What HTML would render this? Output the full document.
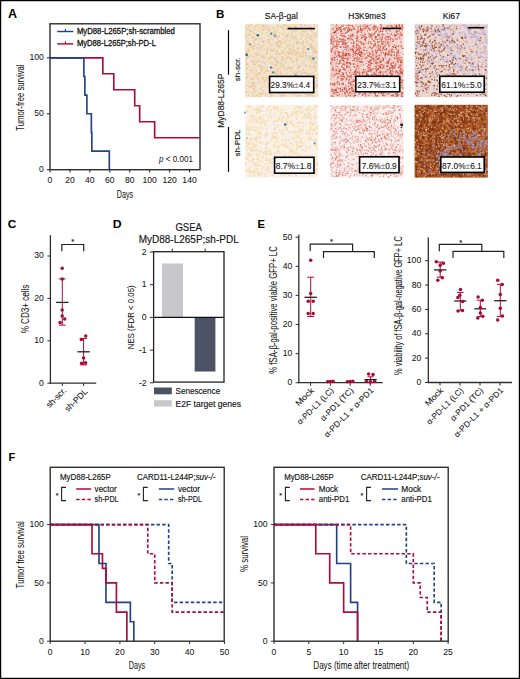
<!DOCTYPE html>
<html><head><meta charset="utf-8"><style>
html,body{margin:0;padding:0;background:#fff;}
svg{display:block;font-family:"Liberation Sans", sans-serif;}
</style></head><body>
<svg width="520" height="679" viewBox="0 0 520 679" fill="#141414">
<rect x="0.6" y="0.6" width="518.8" height="677.8" fill="none" stroke="#000" stroke-width="1.25"/>
<text x="8" y="17.8" font-size="12.5" font-weight="bold" fill="#000" >A</text>
<rect x="50" y="23.8" width="150.0" height="145.89999999999998" fill="none" stroke="#2e2e2e" stroke-width="1.4"/>
<line x1="46.8" y1="169.7" x2="50" y2="169.7" stroke="#2e2e2e" stroke-width="1.1" />
<text x="43.8" y="172.29999999999998" font-size="8.6" text-anchor="end" stroke="#141414" stroke-width="0.05" >0</text>
<line x1="46.8" y1="113.74999999999999" x2="50" y2="113.74999999999999" stroke="#2e2e2e" stroke-width="1.1" />
<text x="43.8" y="116.34999999999998" font-size="8.6" text-anchor="end" stroke="#141414" stroke-width="0.05" >50</text>
<line x1="46.8" y1="57.79999999999998" x2="50" y2="57.79999999999998" stroke="#2e2e2e" stroke-width="1.1" />
<text x="43.8" y="60.399999999999984" font-size="8.6" text-anchor="end" stroke="#141414" stroke-width="0.05" >100</text>
<line x1="50.0" y1="169.7" x2="50.0" y2="172.5" stroke="#2e2e2e" stroke-width="1.1" />
<text x="50.0" y="183.0" font-size="8.6" text-anchor="middle" stroke="#141414" stroke-width="0.05" >0</text>
<line x1="69.934" y1="169.7" x2="69.934" y2="172.5" stroke="#2e2e2e" stroke-width="1.1" />
<text x="69.934" y="183.0" font-size="8.6" text-anchor="middle" stroke="#141414" stroke-width="0.05" >20</text>
<line x1="89.868" y1="169.7" x2="89.868" y2="172.5" stroke="#2e2e2e" stroke-width="1.1" />
<text x="89.868" y="183.0" font-size="8.6" text-anchor="middle" stroke="#141414" stroke-width="0.05" >40</text>
<line x1="109.80199999999999" y1="169.7" x2="109.80199999999999" y2="172.5" stroke="#2e2e2e" stroke-width="1.1" />
<text x="109.80199999999999" y="183.0" font-size="8.6" text-anchor="middle" stroke="#141414" stroke-width="0.05" >60</text>
<line x1="129.736" y1="169.7" x2="129.736" y2="172.5" stroke="#2e2e2e" stroke-width="1.1" />
<text x="129.736" y="183.0" font-size="8.6" text-anchor="middle" stroke="#141414" stroke-width="0.05" >80</text>
<line x1="149.67000000000002" y1="169.7" x2="149.67000000000002" y2="172.5" stroke="#2e2e2e" stroke-width="1.1" />
<text x="149.67000000000002" y="183.0" font-size="8.6" text-anchor="middle" stroke="#141414" stroke-width="0.05" >100</text>
<line x1="169.60399999999998" y1="169.7" x2="169.60399999999998" y2="172.5" stroke="#2e2e2e" stroke-width="1.1" />
<text x="169.60399999999998" y="183.0" font-size="8.6" text-anchor="middle" stroke="#141414" stroke-width="0.05" >120</text>
<line x1="189.538" y1="169.7" x2="189.538" y2="172.5" stroke="#2e2e2e" stroke-width="1.1" />
<text x="189.538" y="183.0" font-size="8.6" text-anchor="middle" stroke="#141414" stroke-width="0.05" >140</text>
<text x="125" y="197.9" font-size="10.2" text-anchor="middle" textLength="16.4" lengthAdjust="spacingAndGlyphs" stroke="#141414" stroke-width="0.05" >Days</text>
<text transform="translate(24.0,130.7) rotate(-90)" font-size="10.2" textLength="66.3" lengthAdjust="spacingAndGlyphs" stroke="#141414" stroke-width="0.05" >Tumor-free survival</text>
<path d="M50.00,57.80 H102.83 V73.79 H113.79 V89.77 H134.72 V105.76 H139.70 V121.74 H154.65 V137.73 H199.50" fill="none" stroke="#ae0a3a" stroke-width="1.65" />
<path d="M50.00,57.80 H83.89 V76.45 H84.88 V95.10 H86.88 V113.75 H91.36 V132.40 H91.86 V151.05 H109.30 V169.70" fill="none" stroke="#22428a" stroke-width="1.65" />
<line x1="57.2" y1="31.5" x2="73.3" y2="31.5" stroke="#22428a" stroke-width="1.45" />
<line x1="65.4" y1="28.9" x2="65.4" y2="31.5" stroke="#22428a" stroke-width="1.1" />
<line x1="57.2" y1="43.9" x2="73.3" y2="43.9" stroke="#ae0a3a" stroke-width="1.45" />
<line x1="65.4" y1="41.2" x2="65.4" y2="43.9" stroke="#ae0a3a" stroke-width="1.1" />
<text x="76.9" y="33.7" font-size="8.5" textLength="98" lengthAdjust="spacingAndGlyphs" stroke="#141414" stroke-width="0.3" >MyD88-L265P;sh-scrambled</text>
<text x="76.9" y="46.1" font-size="8.5" textLength="79" lengthAdjust="spacingAndGlyphs" stroke="#141414" stroke-width="0.3" >MyD88-L265P;sh-PD-L</text>
<text x="193" y="162.2" font-size="8.4" text-anchor="end" textLength="34" lengthAdjust="spacingAndGlyphs" stroke="#141414" stroke-width="0.02" ><tspan font-style="italic">p</tspan> &lt; 0.001</text>
<text x="216.0" y="17.6" font-size="11.6" font-weight="bold" fill="#000" >B</text>
<rect x="245.0" y="23.9" width="73.20" height="73.30" fill="#f3e2cc"/>
<path d="M306.3 79.1h0M275.9 43.2h0M282.4 53.7h0M301.9 46.4h0M279.9 66.5h0M310.9 60.9h0M266.0 78.9h0M290.1 42.6h0M311.0 95.2h0M303.8 89.4h0M268.0 77.1h0M310.2 73.8h0M279.6 31.9h0M276.9 68.5h0M311.2 94.1h0M280.0 86.8h0M264.4 82.5h0M285.1 25.7h0M297.4 53.3h0M304.9 72.6h0M245.8 60.1h0M308.0 42.2h0M269.1 87.1h0M259.4 65.4h0M262.9 94.1h0M303.3 56.8h0M251.5 47.6h0M282.2 91.6h0M253.6 64.2h0M296.4 64.0h0M304.1 63.4h0M314.9 68.0h0M287.9 56.6h0M288.5 52.3h0M287.0 45.5h0M259.3 38.1h0M289.7 71.8h0M279.9 31.1h0M300.1 87.6h0M312.0 85.1h0M310.1 90.9h0M284.5 52.7h0M296.3 44.4h0M303.9 85.6h0M309.9 67.0h0M313.8 66.3h0M278.1 72.1h0M317.2 90.5h0M302.6 30.6h0M289.7 59.6h0M290.9 85.3h0M263.2 77.2h0M254.1 40.5h0M302.7 48.5h0M304.3 31.9h0M256.2 74.7h0M249.0 65.9h0M311.0 63.0h0M294.5 26.6h0M291.3 68.2h0M287.0 52.7h0M272.3 95.1h0M248.4 26.2h0M314.7 37.9h0M254.6 39.8h0M303.2 91.9h0M247.4 55.2h0M253.0 43.3h0M261.6 71.1h0M270.9 37.6h0M281.9 27.5h0M253.0 95.6h0M260.0 50.4h0M298.2 84.8h0M311.6 36.8h0M294.0 94.0h0M249.9 73.2h0M306.4 49.2h0M263.7 67.5h0M277.5 37.2h0M279.6 54.1h0M286.6 61.2h0M268.1 50.3h0M305.8 42.7h0M285.9 25.5h0M298.9 48.8h0M249.0 44.8h0M263.0 93.1h0M271.0 45.3h0M271.5 92.6h0M291.2 69.2h0M297.1 52.5h0M275.5 71.4h0M245.9 38.5h0M269.7 41.8h0M291.5 51.8h0M308.5 65.4h0M275.5 53.5h0M296.1 54.7h0M293.2 28.0h0M277.7 43.3h0M257.1 62.5h0M280.7 65.0h0M299.9 88.1h0M281.2 47.1h0M279.2 82.7h0M308.5 83.0h0M259.2 96.4h0M291.1 30.6h0M297.8 95.5h0M274.6 73.4h0M268.4 40.0h0M297.2 24.8h0M304.7 62.6h0M252.8 33.2h0M292.3 87.4h0M265.8 94.9h0M252.9 86.0h0M274.2 30.5h0M265.4 57.2h0M302.6 86.5h0M255.3 62.0h0M292.4 49.6h0M308.3 44.6h0M247.1 27.6h0M294.6 64.7h0M313.6 92.0h0M311.0 27.7h0M299.5 75.0h0M292.7 75.8h0M310.5 70.6h0M272.5 63.3h0M260.7 66.8h0M246.4 35.5h0M269.7 81.3h0M297.3 48.9h0M290.2 27.6h0M257.5 95.2h0M266.5 53.0h0M285.1 45.7h0M280.0 41.9h0M249.2 37.5h0M283.3 29.7h0M274.7 48.2h0M275.5 31.8h0M310.9 58.7h0M306.0 94.7h0M270.4 59.0h0M295.9 55.3h0M267.4 77.4h0M309.9 90.7h0M290.7 51.6h0M315.6 70.5h0M250.5 30.7h0M299.5 29.0h0M246.3 52.9h0M283.0 56.9h0M280.8 66.6h0M294.5 55.0h0M272.2 95.6h0M264.5 80.4h0M276.7 50.4h0M250.3 86.7h0M296.1 89.5h0M278.1 73.3h0M254.3 53.2h0M260.6 27.7h0M313.7 40.2h0M256.2 38.9h0M272.9 63.9h0M256.6 95.6h0M316.2 35.3h0M274.9 73.5h0M308.7 60.2h0M311.5 47.8h0M281.5 60.5h0M293.8 39.2h0M289.5 40.4h0M270.1 93.8h0M310.2 83.4h0M248.3 35.3h0M264.2 81.0h0M306.1 66.5h0M297.2 82.6h0M250.5 30.7h0M308.0 27.5h0M261.9 27.6h0M246.8 85.2h0M269.5 36.2h0M256.4 71.8h0M315.2 60.9h0M310.4 60.7h0M286.9 73.4h0M303.5 79.1h0M316.8 78.3h0M310.7 39.4h0M284.1 67.6h0M305.0 59.3h0M302.5 52.5h0M287.8 85.8h0M303.0 71.8h0M245.8 37.7h0M282.1 42.9h0M250.5 86.4h0M313.4 46.4h0M275.0 82.8h0M250.2 70.7h0M254.9 45.3h0M305.3 28.6h0M248.3 54.7h0M281.0 86.6h0M297.2 73.0h0M256.6 95.5h0M275.2 68.6h0M273.5 28.0h0M279.5 35.5h0M248.1 69.0h0M290.9 32.2h0M285.1 49.5h0M273.2 80.4h0M280.9 87.9h0M289.5 58.2h0M291.1 48.9h0M254.7 73.7h0M290.4 81.3h0M254.9 90.1h0M303.1 90.5h0M308.3 73.5h0M303.8 61.9h0M302.1 38.2h0M301.8 56.6h0M300.0 57.4h0M302.4 30.1h0M249.0 91.7h0M280.6 89.3h0M313.5 72.5h0M286.7 40.2h0M252.5 83.5h0M309.5 80.6h0M295.8 54.8h0M267.6 32.8h0M276.3 65.3h0M311.9 91.8h0M275.6 31.8h0M301.2 77.4h0M248.0 56.7h0M295.0 26.8h0M311.7 93.7h0M297.6 30.3h0M250.8 50.4h0M247.9 49.6h0M246.5 94.6h0M304.5 29.7h0M309.8 39.6h0M260.4 73.0h0M313.0 33.5h0M246.3 51.2h0M247.5 68.1h0M307.4 38.1h0M253.8 49.4h0M314.5 34.0h0M315.0 50.7h0M279.7 45.7h0M312.9 93.4h0M291.3 37.9h0M316.9 32.0h0M287.4 35.9h0M310.1 92.5h0M303.4 47.3h0M263.2 78.8h0M266.6 54.8h0M249.1 34.1h0M247.2 30.2h0M251.0 54.8h0M285.2 77.8h0M256.0 55.0h0M291.4 30.7h0M277.6 51.2h0M313.8 28.8h0M275.0 54.6h0M298.0 47.7h0M260.4 45.7h0M279.5 92.9h0M302.9 44.5h0M285.8 74.1h0M302.8 56.7h0M274.3 79.8h0M276.7 42.5h0M278.3 91.9h0M256.0 57.9h0M291.4 59.4h0M260.4 24.8h0M295.9 69.1h0M246.3 46.1h0M300.9 69.8h0M284.8 35.9h0M296.4 58.5h0M294.4 79.2h0M262.4 79.4h0M265.8 95.3h0M254.4 88.1h0M248.7 43.1h0M283.5 66.4h0M274.2 32.0h0M263.9 45.0h0M299.9 89.9h0M288.4 27.2h0M302.6 46.6h0M270.1 62.7h0M263.6 90.7h0M257.5 54.4h0M266.5 62.0h0M286.9 69.7h0M283.8 54.1h0M291.3 53.6h0M301.6 81.2h0M266.7 51.3h0M290.8 35.9h0M295.7 52.0h0M288.1 34.7h0M293.7 50.1h0M279.6 54.5h0M279.9 74.5h0M268.6 71.5h0M250.1 46.2h0M299.2 28.4h0M290.3 26.5h0M279.6 88.4h0M246.5 62.5h0M250.5 86.9h0M295.0 77.9h0M293.7 25.1h0M248.7 69.2h0M317.4 87.3h0M295.9 76.9h0M262.0 78.6h0M266.4 32.2h0M278.8 48.4h0M257.8 54.9h0M310.1 55.9h0M277.8 75.5h0M283.3 33.9h0M311.0 56.5h0M302.3 52.6h0M303.6 52.6h0M261.5 38.7h0M313.2 66.8h0M249.3 52.5h0M262.5 30.7h0M259.1 28.7h0M291.5 37.1h0M289.5 68.6h0M296.3 61.4h0M266.1 87.7h0M271.1 57.6h0M291.1 61.7h0M314.3 93.2h0M312.4 91.7h0M287.4 59.8h0M296.2 40.1h0M264.8 27.8h0M257.4 24.9h0M292.7 34.7h0M302.2 73.5h0M315.3 53.1h0M311.8 57.2h0M270.1 32.0h0M309.0 81.7h0M268.9 57.4h0M269.1 26.7h0M248.9 51.1h0M260.8 62.3h0M259.2 39.1h0M294.0 77.5h0M268.1 86.4h0M264.0 49.3h0M296.8 27.8h0M312.7 29.8h0M278.8 76.7h0M249.2 82.7h0M315.9 57.7h0M254.2 30.5h0M252.8 79.6h0M275.4 90.7h0M277.3 30.2h0M276.4 78.8h0M305.2 27.5h0M258.7 59.8h0M254.9 87.2h0M312.8 47.6h0M276.9 64.6h0M266.2 63.5h0M260.2 45.9h0M277.4 68.1h0M284.2 43.4h0M262.4 33.2h0M301.9 31.8h0M298.3 42.5h0M266.2 77.5h0M293.0 77.9h0M282.7 86.3h0M254.5 71.0h0M254.2 77.6h0M271.5 73.1h0M296.2 72.1h0M261.6 84.4h0M263.0 61.9h0M294.1 41.4h0M290.8 45.2h0M258.0 82.8h0M285.4 48.2h0M287.7 26.5h0M255.1 53.1h0M315.7 61.3h0M251.2 79.6h0M301.8 80.3h0M286.6 74.6h0M261.1 77.2h0M304.3 79.2h0M271.1 67.1h0M290.8 89.3h0M253.5 84.5h0M283.5 50.4h0M278.4 25.6h0M261.5 71.5h0M293.1 60.2h0M314.1 59.2h0M268.3 85.5h0M264.3 68.0h0M296.2 83.6h0M302.1 52.2h0M250.0 27.4h0M297.8 93.7h0M270.4 56.3h0M297.8 71.9h0M264.4 72.9h0M267.6 50.2h0M284.4 77.2h0M256.6 26.2h0M290.8 26.4h0" stroke="#efd27a" stroke-width="1.5" stroke-linecap="round"/>
<path d="M255.3 85.5h0M300.5 42.9h0M281.3 56.9h0M292.5 81.3h0M252.4 26.6h0M305.7 55.7h0M300.4 24.8h0M277.7 76.5h0M262.1 92.6h0M310.4 26.8h0M247.5 63.5h0M313.1 52.0h0M261.3 55.0h0M247.8 40.5h0M277.1 60.2h0M262.4 41.2h0M261.4 57.6h0M266.5 26.1h0M305.8 64.6h0M291.8 38.0h0M317.0 86.4h0M254.4 48.5h0M297.5 75.7h0M312.9 54.9h0M305.3 72.8h0M267.5 66.8h0M309.1 85.4h0M282.0 66.9h0M248.2 42.1h0M303.0 54.4h0M258.1 64.1h0M296.2 73.1h0M272.6 56.2h0M282.2 80.6h0M283.1 52.9h0M280.9 26.7h0M248.8 75.2h0M316.3 67.2h0M274.0 36.8h0M281.8 95.2h0M301.0 63.4h0M307.5 41.3h0M282.6 93.1h0M287.2 57.6h0M265.0 64.0h0M314.4 25.0h0M302.0 83.6h0M309.3 77.8h0M303.8 61.9h0M286.0 55.2h0M249.7 87.2h0M286.6 39.0h0M281.9 59.5h0M271.3 49.5h0M284.4 69.4h0M289.7 57.5h0M247.7 41.1h0M258.4 66.6h0M307.5 82.0h0M302.9 83.3h0M264.0 85.1h0M294.0 30.6h0M246.9 25.6h0M300.0 42.5h0M253.6 69.5h0M270.4 29.6h0M257.2 62.5h0M257.8 44.2h0M296.8 57.3h0M268.8 58.7h0M247.4 52.4h0M275.9 38.1h0M253.5 89.3h0M282.3 39.6h0M289.2 83.3h0M247.2 25.9h0M256.2 76.3h0M257.2 75.3h0M294.4 63.8h0M261.5 94.7h0M303.0 61.7h0M261.7 71.2h0M274.1 66.0h0M268.8 70.0h0M249.9 46.1h0M315.2 87.6h0M267.7 86.3h0M268.0 92.1h0M299.1 54.5h0M263.8 25.2h0M308.8 27.3h0M304.5 93.8h0M286.6 36.9h0M308.0 94.6h0M296.2 61.2h0M272.8 49.5h0M260.5 73.1h0M276.8 38.6h0M253.2 72.5h0M267.0 60.5h0M269.1 87.3h0M310.3 25.9h0M260.1 48.2h0M316.6 80.9h0M270.0 39.9h0M294.1 84.8h0M312.6 49.3h0M309.1 74.0h0M280.5 95.5h0M262.5 76.8h0M251.8 36.8h0M311.1 39.9h0M300.2 67.8h0M306.1 51.1h0M270.1 45.5h0M308.0 68.0h0M314.2 88.4h0M255.4 64.2h0M253.2 27.4h0M251.0 86.9h0M302.3 84.2h0M270.2 68.8h0M301.8 51.8h0M286.7 40.7h0M251.6 43.8h0M309.7 65.2h0M312.1 57.5h0M265.6 81.2h0M305.1 25.5h0M293.8 31.2h0M254.0 88.2h0M248.6 41.8h0M316.6 54.9h0M254.0 36.6h0M263.0 78.1h0M253.1 90.1h0M272.9 94.4h0M311.0 45.7h0M263.9 58.9h0M252.9 71.5h0M248.5 25.4h0M316.2 45.9h0M288.5 56.9h0M268.2 29.1h0M311.3 94.3h0M315.3 32.6h0M261.2 69.0h0M316.1 63.6h0M295.1 72.2h0M264.3 63.5h0M267.8 42.3h0M251.5 44.8h0M316.3 56.8h0M292.5 70.9h0M313.2 52.7h0M267.7 48.1h0M268.4 85.5h0M309.9 46.4h0M269.7 63.7h0M287.3 67.4h0M263.3 26.1h0M263.2 29.8h0M285.3 29.7h0M251.1 70.3h0M266.6 81.6h0M281.1 86.6h0M256.8 60.7h0M302.8 30.1h0M313.9 37.1h0M301.4 95.4h0M304.7 47.6h0M253.4 61.6h0M311.7 45.7h0M309.9 34.8h0M311.1 26.9h0M268.4 89.5h0M303.4 89.8h0M306.1 78.3h0M295.2 37.4h0M276.8 36.0h0M297.0 72.6h0M263.8 29.2h0M314.9 82.7h0M285.1 63.5h0M306.8 57.2h0M274.1 49.0h0M264.2 26.4h0M292.1 54.6h0M286.7 29.1h0M271.2 34.5h0M254.7 43.2h0M305.2 53.2h0M274.5 68.6h0M262.5 25.1h0M283.7 60.6h0M292.3 56.1h0M295.0 77.2h0M262.8 60.2h0M280.1 40.8h0M275.3 64.9h0M310.8 90.6h0M265.5 71.1h0M249.2 29.7h0M282.4 87.7h0M257.1 79.7h0M309.1 47.0h0M295.4 85.6h0M272.4 75.0h0M298.6 67.4h0M307.2 89.1h0M314.6 65.7h0M258.4 42.6h0M261.3 65.5h0M300.1 28.3h0M294.6 76.2h0M270.7 61.6h0M257.5 77.1h0M248.6 95.1h0M303.7 69.8h0M264.9 90.2h0M314.6 34.6h0M301.4 85.1h0M293.1 75.0h0M277.7 91.1h0M315.4 52.1h0M303.3 55.7h0M257.5 48.0h0M254.8 89.9h0M314.6 33.2h0M288.8 54.0h0M254.2 45.8h0M263.5 78.5h0M246.0 38.2h0M277.2 26.1h0M290.8 68.1h0M305.7 39.5h0M266.1 63.6h0M265.3 66.7h0M263.7 73.7h0M302.5 82.7h0M315.6 63.8h0M280.9 86.1h0M300.9 65.6h0M273.2 45.0h0M253.5 82.7h0M254.2 78.3h0M284.9 94.0h0M300.3 94.6h0M255.5 60.6h0M286.8 47.0h0M281.8 50.3h0M283.6 24.7h0M277.5 56.9h0M267.6 53.3h0M301.9 73.7h0M281.0 71.2h0M272.8 39.3h0M246.0 44.6h0M288.6 88.0h0M305.3 61.3h0" stroke="#eac4c2" stroke-width="1.4" stroke-linecap="round"/>
<path d="M314.2 92.6h0M249.9 30.9h0M305.6 77.4h0M293.7 46.8h0M289.2 68.2h0M287.4 36.1h0M276.6 52.9h0M297.5 95.9h0M313.7 63.7h0M277.7 44.0h0M248.5 26.8h0M279.1 47.6h0M273.0 88.6h0M283.4 64.9h0M262.8 26.5h0M269.1 34.6h0M282.3 96.2h0M294.1 37.8h0M309.7 81.8h0M298.3 89.6h0M300.4 81.3h0M271.2 94.9h0M314.6 36.3h0M299.7 75.9h0M278.8 62.7h0M280.9 90.9h0M281.7 84.3h0M271.2 87.9h0M310.1 57.8h0M286.4 90.6h0M297.6 59.6h0M261.7 48.0h0M295.8 36.7h0M310.7 44.0h0M311.0 46.9h0M314.3 75.3h0M281.9 61.8h0M292.4 66.8h0M268.2 39.7h0M282.4 91.6h0M290.4 30.2h0M304.5 76.7h0M310.7 38.5h0M299.1 29.0h0M292.5 44.3h0M262.1 87.4h0M253.5 62.1h0M306.9 42.3h0M260.9 87.8h0M276.1 76.1h0M248.2 50.7h0M258.2 72.9h0M251.8 93.1h0M247.7 77.0h0M247.4 43.1h0M304.0 36.0h0M259.0 74.2h0M273.4 27.9h0M316.6 35.6h0M248.5 49.4h0M289.8 77.9h0M254.0 48.9h0M248.1 56.9h0M300.6 77.7h0M310.3 78.8h0M307.5 75.2h0M279.7 40.9h0M293.1 47.4h0M253.2 56.8h0M308.4 33.9h0M287.7 52.9h0M282.7 35.1h0M314.4 43.3h0M289.2 54.8h0M247.2 64.7h0M255.9 28.9h0M248.3 36.3h0M252.7 70.2h0M282.2 95.1h0M312.6 95.9h0M262.5 56.6h0M263.8 67.1h0M290.5 82.0h0M296.6 43.1h0M276.1 62.4h0M246.2 27.3h0M275.1 32.7h0M297.6 42.0h0M253.0 37.8h0M262.4 40.3h0M283.1 58.0h0M268.0 70.7h0M261.1 89.6h0M314.7 76.9h0M276.9 61.4h0M287.4 28.5h0M275.7 62.3h0M258.8 31.5h0M303.2 51.0h0M283.0 90.7h0M289.5 45.5h0M316.1 51.4h0M247.3 73.8h0M253.1 46.7h0M305.9 72.9h0M247.0 57.1h0M275.2 59.5h0M260.8 66.9h0M251.2 45.1h0M272.5 91.7h0M251.4 78.8h0M259.6 65.7h0M273.9 57.9h0M299.7 53.0h0M254.6 33.5h0M251.6 85.6h0M291.7 93.4h0M295.4 26.6h0M293.0 80.4h0M297.6 60.4h0M271.4 57.5h0M302.9 44.0h0M283.5 58.9h0M314.1 82.3h0M312.4 84.6h0M267.1 41.4h0M280.8 43.3h0M276.4 73.4h0M311.5 66.7h0M304.3 31.7h0M271.3 96.1h0M256.4 54.6h0M250.7 31.0h0M309.8 95.5h0M292.2 34.0h0M267.1 41.4h0M293.8 73.5h0M277.2 62.3h0M253.9 63.5h0M313.7 78.8h0M252.8 61.7h0M297.0 43.2h0M309.8 57.8h0M296.1 53.7h0M317.0 80.8h0M286.8 35.2h0M277.4 26.9h0M288.4 87.8h0M258.8 61.3h0M280.3 53.8h0M296.6 91.8h0M296.3 58.6h0M314.6 48.4h0M299.1 71.9h0M300.3 85.7h0M262.0 69.2h0M274.7 72.5h0M315.7 70.2h0M246.7 58.0h0M296.7 88.0h0M292.3 83.1h0M247.1 92.2h0M298.0 68.2h0M310.5 88.1h0M253.1 83.1h0M300.7 39.1h0M299.0 66.7h0M259.6 82.3h0M255.7 68.6h0M276.9 42.9h0M286.3 58.2h0M260.5 93.9h0M251.1 25.0h0M280.6 84.7h0M292.9 78.8h0M280.5 73.0h0M269.8 43.9h0M281.8 26.8h0M251.6 78.7h0M258.3 78.4h0M301.9 53.7h0M294.1 81.1h0M307.6 34.4h0M257.5 52.1h0M279.1 45.9h0M246.6 64.7h0M314.9 51.0h0M284.3 52.1h0M277.5 87.0h0M267.9 71.2h0M280.4 63.3h0M311.2 30.3h0M304.8 46.5h0M292.0 81.7h0M292.6 52.9h0M305.9 31.4h0M291.1 52.8h0M283.8 85.6h0M302.9 69.8h0M267.9 41.5h0M278.6 41.4h0M265.7 93.3h0M253.9 83.3h0M273.0 50.9h0M268.6 30.3h0M278.6 36.7h0M277.5 45.7h0M309.8 90.7h0M277.5 70.5h0M312.3 48.1h0M253.0 41.8h0M259.4 73.3h0M272.6 50.3h0M302.7 41.5h0M303.6 70.1h0M274.5 83.7h0M270.3 87.6h0M312.0 60.7h0M295.2 92.6h0M298.9 78.5h0M308.0 91.7h0M299.7 94.8h0M266.7 69.3h0M293.8 51.1h0M274.1 37.3h0M314.3 50.1h0M279.9 88.7h0M259.2 93.5h0M255.0 26.8h0M270.9 50.5h0M311.4 87.9h0M300.3 56.0h0M284.6 41.7h0M305.4 52.7h0M266.2 70.4h0M256.7 47.4h0M312.0 31.6h0M256.1 39.4h0M263.8 54.9h0M263.8 49.3h0M263.5 42.0h0M289.5 48.9h0M272.5 79.7h0M250.3 35.1h0M306.6 55.5h0M301.5 34.3h0M283.2 85.2h0M270.0 79.7h0M289.5 53.0h0M317.1 52.8h0M279.7 69.1h0M268.5 84.7h0M288.6 66.8h0M284.4 95.2h0M316.5 84.9h0M278.4 54.2h0M283.4 28.1h0M253.6 96.0h0M255.1 91.8h0M294.4 90.2h0" stroke="#e6c8a0" stroke-width="1.8" stroke-linecap="round"/>
<path d="M262.7 63.7h0M272.2 68.1h0M290.7 29.1h0M246.5 84.9h0M264.2 41.3h0M317.4 58.4h0M305.9 58.8h0M291.6 35.3h0M291.3 87.2h0M283.3 78.0h0M294.0 29.0h0M300.2 67.1h0M267.3 26.6h0M308.0 58.6h0M297.4 87.9h0M297.1 91.0h0M274.0 82.3h0M277.6 92.0h0M309.0 31.4h0M255.3 40.1h0M315.2 55.9h0M290.7 46.2h0M282.1 52.3h0M270.8 66.7h0M287.7 89.8h0M294.7 91.6h0M307.3 96.0h0M294.0 36.2h0M307.6 94.1h0M310.8 65.5h0M297.0 39.7h0M305.5 65.9h0M266.1 29.0h0M307.2 96.0h0M251.9 82.3h0M275.1 35.3h0M266.7 80.0h0M308.5 27.6h0M289.9 27.6h0M297.4 48.3h0M309.1 95.3h0M282.0 96.6h0M267.9 30.0h0M288.8 26.7h0M259.8 53.9h0M289.6 35.7h0M248.6 87.1h0M268.2 93.7h0M310.2 51.7h0M278.7 62.0h0M292.0 67.5h0M285.9 69.2h0M313.4 61.1h0M276.6 76.5h0M262.7 46.2h0M316.1 62.1h0M285.1 25.2h0M275.5 66.3h0M246.9 68.9h0M291.1 28.7h0M290.8 58.1h0M294.5 49.9h0M296.5 77.8h0M247.1 28.8h0M294.3 94.0h0M263.6 57.4h0M288.3 47.5h0M271.8 47.0h0M272.2 67.5h0M267.2 51.7h0M301.3 26.3h0M286.6 77.6h0M267.9 40.5h0M303.5 41.7h0M259.0 55.9h0M295.9 31.8h0M268.7 48.5h0M305.7 56.1h0M307.3 36.6h0M269.8 71.4h0M309.4 57.0h0M261.7 33.1h0M283.7 38.2h0M303.7 85.0h0M258.8 44.5h0M303.8 70.8h0M303.7 49.4h0M254.9 45.5h0M302.8 44.0h0M270.5 54.5h0M275.8 54.0h0M312.0 35.7h0M245.8 92.6h0M309.0 95.8h0M276.9 93.1h0M312.5 40.5h0M299.3 84.9h0M293.4 61.9h0M266.4 49.1h0M261.9 29.3h0M288.0 45.2h0M304.0 27.7h0M310.7 74.6h0M312.2 89.2h0M310.5 66.1h0M246.4 78.3h0M257.9 46.1h0M293.4 62.4h0M275.4 92.3h0M289.7 49.1h0M263.7 86.7h0M280.0 81.0h0M270.9 38.7h0M284.1 83.5h0M257.9 81.6h0M312.1 82.7h0M305.0 24.9h0M290.9 86.8h0M249.1 44.0h0M264.9 62.5h0M276.0 58.6h0M301.6 24.5h0M249.5 33.6h0M254.5 29.3h0M315.9 86.2h0M251.7 60.7h0M268.3 47.1h0M270.9 71.2h0M287.9 50.5h0M259.3 48.2h0M254.4 64.6h0M297.2 51.9h0M251.3 37.3h0M272.5 68.1h0M302.0 51.9h0M303.3 69.4h0M276.7 51.3h0M281.3 75.2h0M275.9 74.6h0M278.8 42.1h0M284.2 74.7h0M250.7 55.1h0M276.2 88.0h0M313.1 51.5h0M310.3 81.6h0M264.4 58.0h0M254.4 83.2h0M293.3 88.6h0M302.7 72.7h0M298.5 65.2h0M252.9 66.9h0M245.9 34.8h0M301.4 27.6h0M252.1 31.6h0M309.1 37.4h0M247.2 85.2h0M254.3 85.4h0M294.1 84.9h0M314.3 66.3h0M303.2 27.0h0" stroke="#c8b4cc" stroke-width="1.0" stroke-linecap="round"/>
<path d="M262.6 32.0h0M274.1 35.7h0M250.5 53.5h0M311.6 82.2h0M300.6 40.6h0M284.2 44.5h0M258.1 32.2h0M261.1 91.3h0M305.2 82.6h0M303.2 38.5h0M267.9 69.7h0M298.3 86.0h0M308.9 30.8h0M289.2 72.9h0M282.0 37.4h0M279.7 31.0h0M312.8 86.8h0M285.0 46.2h0M311.0 65.8h0M309.1 85.6h0M282.2 54.4h0M288.7 55.6h0M257.3 46.5h0M304.0 27.7h0M249.0 69.6h0M265.8 63.0h0M279.5 49.3h0M317.3 38.7h0M275.3 39.2h0M291.1 44.5h0M271.2 78.3h0M268.7 64.8h0M310.6 31.9h0M250.1 41.1h0M300.6 68.8h0M262.7 48.4h0M258.4 57.6h0M248.8 74.7h0M310.0 93.2h0M298.5 93.6h0M247.0 45.4h0M315.1 80.3h0M275.2 92.4h0M290.3 83.4h0M266.8 38.4h0M277.6 34.4h0M273.1 93.8h0M269.5 25.3h0M248.9 36.8h0M302.0 50.7h0M266.5 31.6h0M316.2 55.1h0M260.6 28.9h0M249.7 36.7h0M294.3 35.4h0M248.6 59.9h0M263.6 96.3h0M254.5 62.7h0M301.3 54.0h0M316.6 59.0h0M263.1 54.1h0M248.3 54.9h0M263.5 88.5h0M305.4 60.4h0M248.0 42.9h0M263.1 39.6h0M262.3 87.1h0M255.9 28.3h0M312.3 65.2h0M316.8 53.6h0M310.4 71.6h0M302.5 78.1h0M281.2 31.3h0M260.8 87.4h0M310.3 91.1h0M269.9 71.8h0M303.1 70.8h0M304.2 62.6h0M292.7 73.9h0M265.0 90.9h0M314.4 29.9h0M315.4 93.8h0M293.7 27.8h0M310.2 33.8h0M315.2 72.6h0M250.0 36.6h0M291.3 65.5h0M299.3 91.3h0M261.4 24.8h0M311.9 25.5h0M308.6 32.9h0M303.8 80.9h0M308.7 64.2h0M308.8 39.1h0M293.9 48.4h0M309.7 80.2h0M279.6 62.4h0M247.6 27.1h0M288.4 59.7h0M307.8 68.3h0M255.7 50.7h0M300.8 62.2h0M246.5 84.8h0M305.1 30.7h0M284.7 52.0h0M302.2 47.0h0M262.5 59.6h0M315.1 31.4h0M253.9 69.2h0M309.3 61.4h0M276.9 86.3h0M301.5 29.4h0M309.0 38.7h0M267.4 84.7h0M276.0 82.0h0M257.7 87.5h0M258.4 35.3h0M281.2 48.9h0M284.6 89.6h0M296.7 25.0h0M268.1 63.8h0M280.6 76.1h0M280.5 30.0h0M263.3 85.5h0M271.3 79.7h0M316.5 69.7h0M294.3 68.4h0M268.2 90.2h0M279.2 90.1h0M267.6 87.0h0M302.2 68.7h0M277.4 34.7h0M301.1 50.6h0M293.2 34.2h0M251.6 34.9h0M303.8 37.4h0M310.5 51.3h0M287.1 49.8h0M290.3 31.3h0M274.6 91.9h0M258.6 71.6h0M269.2 46.2h0M247.4 26.0h0M313.9 84.3h0M303.2 82.6h0M314.1 36.0h0M287.6 60.2h0M286.9 92.0h0M300.3 94.2h0M254.1 71.4h0M294.2 78.2h0M290.1 84.4h0M267.4 91.3h0M274.9 67.7h0M310.1 75.2h0M267.9 41.2h0M269.2 69.7h0M317.2 89.2h0M274.4 53.4h0M304.4 45.0h0M275.3 25.5h0M258.9 63.4h0M295.5 68.8h0M271.9 93.0h0M290.4 35.8h0M250.6 94.6h0M316.6 90.7h0M289.1 47.0h0M252.3 43.1h0M261.7 91.3h0M309.8 80.5h0M256.4 41.7h0M267.2 92.8h0M257.4 81.4h0M294.6 63.9h0M314.6 43.5h0M283.3 35.9h0M252.6 26.9h0M268.4 33.4h0M250.1 96.0h0M266.5 88.6h0M296.1 77.2h0M292.7 93.1h0M308.8 76.3h0M285.9 74.5h0M297.7 64.3h0M281.8 35.7h0M306.3 59.4h0M250.6 36.7h0M308.5 43.0h0M273.8 73.6h0M307.6 48.2h0M273.5 55.0h0M247.7 87.6h0M247.1 93.6h0M256.7 35.9h0M306.6 83.8h0M262.4 64.4h0M279.9 76.3h0M259.0 84.0h0" stroke="#faf2e6" stroke-width="1.4" stroke-linecap="round"/>
<rect x="329.9" y="23.9" width="73.80" height="73.30" fill="#f4d8d4"/>
<path d="M372.0 55.5h0M372.4 39.5h0M389.4 83.8h0M377.9 36.2h0M368.3 48.2h0M348.7 93.0h0M402.7 27.9h0M392.8 67.9h0M358.3 45.0h0M379.4 57.5h0M380.2 72.2h0M340.3 79.8h0M401.6 94.2h0M375.0 27.9h0M331.0 34.3h0M398.6 46.4h0M357.1 89.1h0M353.4 64.1h0M362.2 29.4h0M372.9 85.2h0M342.0 40.8h0M360.5 27.3h0M366.6 83.3h0M378.2 63.0h0M392.4 35.4h0M371.7 51.5h0M374.1 32.8h0M386.7 31.6h0M342.7 82.6h0M399.1 55.8h0M360.6 42.3h0M350.5 69.0h0M343.6 33.3h0M363.6 36.5h0M377.5 83.6h0M386.8 59.1h0M355.8 55.9h0M331.1 75.8h0M354.6 47.6h0M336.5 56.8h0M372.8 52.7h0M393.5 73.0h0M348.1 62.4h0M396.4 62.0h0M374.2 29.2h0M366.0 57.8h0M359.7 54.8h0M372.9 63.3h0M366.1 36.6h0M362.6 94.2h0M360.7 27.2h0M330.9 63.1h0M334.4 31.3h0M338.6 57.3h0M402.4 59.5h0M363.8 56.0h0M366.9 56.8h0M383.1 89.1h0M381.1 55.1h0M377.6 89.9h0M341.8 41.7h0M375.4 74.0h0M377.1 66.9h0M390.6 59.0h0M389.0 93.7h0M362.1 86.3h0M382.6 88.4h0M334.0 90.2h0M386.1 93.7h0M401.6 45.2h0M379.1 34.8h0M373.7 90.6h0M344.6 49.8h0M336.5 38.7h0M345.7 31.6h0M402.9 88.3h0M364.2 78.0h0M380.9 62.2h0M361.3 72.3h0M370.8 43.8h0M357.0 69.7h0M376.0 39.7h0M374.7 87.4h0M393.6 71.5h0M335.8 55.1h0M337.1 28.7h0M349.1 57.5h0M385.5 69.8h0M351.1 74.5h0M367.3 61.1h0M349.7 56.4h0M355.4 76.8h0M365.5 56.7h0M365.1 59.1h0M380.5 76.3h0M388.5 53.8h0M388.0 93.9h0M402.3 76.4h0M335.4 85.5h0M391.1 25.9h0M354.4 47.8h0M384.2 68.5h0M351.1 38.1h0M342.9 31.5h0M387.8 91.8h0M346.6 78.1h0M399.4 38.4h0M372.0 56.2h0M401.1 87.0h0M331.9 39.1h0M391.9 65.9h0M368.4 82.8h0M385.9 93.2h0M354.3 28.1h0M380.7 28.3h0M371.5 86.3h0M359.4 67.8h0M343.1 36.0h0M374.5 86.7h0M402.9 26.9h0M397.2 61.3h0M355.9 53.2h0M372.4 49.6h0M341.2 86.8h0M381.7 68.4h0M382.9 95.4h0M343.3 83.8h0M390.1 49.3h0M371.0 57.6h0M344.7 55.7h0M341.7 91.5h0M344.2 70.1h0M371.9 94.6h0M388.0 50.5h0M357.9 28.3h0M334.4 47.0h0M399.3 28.3h0M343.5 70.3h0M356.7 38.0h0M399.1 27.8h0M373.9 55.4h0M355.6 38.7h0M342.5 53.8h0M385.0 58.3h0M386.8 87.7h0M343.2 87.8h0M372.7 54.9h0M367.8 88.5h0M359.0 31.5h0M400.0 33.2h0M338.4 76.4h0M353.1 45.5h0M377.6 88.6h0M355.7 89.7h0M375.4 68.3h0M369.1 25.6h0M342.1 73.2h0M380.8 31.6h0M376.7 58.7h0M372.4 53.3h0M346.4 50.2h0M400.6 38.2h0M393.0 62.8h0M336.1 82.9h0M331.9 84.7h0M355.1 90.6h0M383.2 50.4h0M375.8 95.4h0M343.1 39.4h0M351.6 83.5h0M348.5 42.4h0M375.1 66.6h0M360.9 64.2h0M332.9 25.1h0M332.7 28.6h0M386.3 94.9h0M339.7 52.3h0M331.8 55.8h0M378.5 69.5h0M395.8 64.3h0M334.5 51.7h0M363.8 48.8h0M333.2 69.7h0M366.0 75.6h0M357.0 29.8h0M349.9 37.3h0M364.0 35.7h0M336.4 62.3h0M340.9 32.2h0M339.4 75.3h0M388.9 82.8h0M372.3 70.2h0M385.1 55.4h0M367.5 75.8h0M376.5 68.4h0M377.4 63.1h0M346.1 46.6h0M380.6 54.7h0M392.7 51.5h0M379.0 33.0h0M352.3 85.7h0M343.4 69.6h0M332.7 68.4h0M363.3 89.2h0M390.3 80.1h0M355.2 72.7h0M341.9 59.8h0M358.8 58.4h0M350.5 39.9h0M368.2 71.6h0M371.3 93.0h0M370.9 35.4h0M377.0 47.4h0M398.5 34.0h0M363.7 73.0h0M400.7 62.1h0M358.1 80.4h0M387.5 90.2h0M382.8 33.8h0M402.3 91.4h0M362.1 72.0h0M390.9 90.4h0M382.9 31.2h0M335.6 51.0h0M363.6 47.0h0M384.8 79.5h0M359.6 74.7h0M344.6 92.9h0M348.1 35.9h0M358.3 86.6h0M373.9 73.9h0M389.8 52.4h0M400.0 95.5h0M369.3 78.4h0M392.3 67.1h0M340.1 71.8h0M363.6 85.9h0M345.8 25.5h0M343.6 36.9h0M358.4 39.6h0M354.8 66.9h0M341.9 59.4h0M356.4 25.1h0M379.4 60.7h0M386.7 87.6h0M334.2 75.9h0M363.9 87.4h0M339.0 84.8h0M361.7 31.3h0M364.1 87.6h0M336.0 51.9h0M336.5 25.2h0M390.4 64.2h0M371.9 89.2h0M336.8 92.4h0M385.1 85.7h0M389.6 52.9h0M332.4 96.2h0M376.4 75.7h0M380.9 46.1h0M378.1 57.0h0M347.1 60.5h0M364.5 46.3h0M384.8 89.9h0M373.9 26.4h0M370.0 69.9h0M389.6 46.5h0M347.6 51.5h0M342.3 80.6h0M332.7 65.2h0M390.9 27.0h0M342.6 95.8h0M352.9 79.8h0M332.8 58.2h0M333.8 42.3h0M331.9 73.4h0M363.5 49.9h0M361.1 73.5h0M349.4 35.8h0M333.7 71.6h0M378.7 41.9h0M367.9 94.2h0M364.9 79.6h0M356.0 64.3h0M386.9 74.7h0M373.8 45.8h0M334.8 59.3h0M382.9 50.5h0M383.2 58.5h0M335.7 66.4h0M370.4 47.8h0M345.1 95.4h0M373.0 76.6h0M333.7 77.3h0M342.4 59.3h0M359.1 52.6h0M387.8 39.2h0M398.9 85.6h0M366.2 87.5h0M370.4 90.5h0M366.0 94.8h0M384.4 71.9h0M402.5 74.6h0M348.4 71.1h0M343.0 53.7h0M381.5 38.4h0M361.3 41.1h0M360.6 41.3h0M381.5 84.5h0M365.4 75.8h0M385.2 82.6h0M388.6 71.8h0M384.0 77.0h0M368.5 81.8h0M344.4 76.3h0M376.8 63.5h0M374.3 90.5h0M387.7 74.2h0M395.7 87.2h0M354.4 86.4h0M394.7 66.5h0M397.5 37.3h0M388.6 42.1h0M359.6 61.1h0M361.2 61.8h0M337.4 28.9h0M383.0 44.1h0M350.7 74.9h0M385.3 63.1h0M389.7 49.8h0M395.0 70.5h0M391.8 83.1h0M381.3 91.0h0M385.2 57.0h0M339.2 53.6h0M375.0 26.3h0M373.8 53.9h0M365.0 29.4h0M336.3 71.2h0M350.1 35.8h0M393.3 28.8h0M381.5 83.7h0M395.4 72.0h0M334.6 56.1h0M393.8 54.1h0M369.4 78.0h0M372.4 50.6h0M373.5 58.0h0M354.7 29.7h0M349.5 96.0h0M351.8 49.7h0M401.5 32.1h0M349.0 51.7h0M364.2 53.7h0M350.5 35.5h0M370.8 36.8h0M331.0 79.1h0M385.8 50.6h0M394.4 36.1h0M395.8 73.6h0M379.1 28.3h0M385.7 36.8h0M369.4 64.2h0M335.1 45.9h0M397.1 79.1h0M352.9 94.8h0M335.9 71.5h0M388.7 85.5h0M377.4 77.7h0M348.5 80.8h0M379.8 65.9h0M350.0 72.9h0M334.3 60.7h0M378.2 49.0h0M374.0 28.7h0M354.9 59.9h0M390.5 63.2h0M397.8 51.5h0M395.1 66.4h0M364.7 37.8h0M390.4 81.7h0M358.7 47.7h0M350.5 49.1h0M337.3 86.0h0M362.2 37.4h0M379.9 37.3h0M394.2 25.0h0M370.6 70.6h0M355.4 38.5h0M395.6 67.1h0M380.9 36.6h0M331.4 89.7h0M344.3 28.6h0M386.8 65.3h0M331.9 64.7h0M367.4 90.9h0M373.3 35.5h0M375.8 82.1h0M400.6 47.0h0M372.4 28.1h0M399.6 34.9h0M377.8 86.1h0M365.3 94.8h0M360.1 65.5h0M392.3 25.9h0M393.0 85.3h0M342.6 74.7h0M350.6 38.5h0M367.6 75.7h0M358.2 49.2h0M346.9 65.9h0M372.8 86.9h0M390.9 25.3h0M341.3 34.1h0M350.3 77.9h0M366.0 77.1h0M391.4 51.2h0M330.9 40.0h0M375.2 65.8h0M345.4 78.8h0M332.8 35.8h0M368.1 68.0h0M396.9 52.2h0M389.4 58.6h0M352.5 93.0h0M366.5 75.4h0M351.8 88.1h0M365.1 28.1h0M335.6 50.0h0M361.6 32.7h0M392.0 64.6h0M399.1 71.4h0M388.4 36.9h0M333.9 41.1h0M361.0 28.3h0M397.7 46.1h0M387.9 28.0h0M392.1 48.6h0M367.9 68.4h0M374.8 45.9h0M349.0 52.5h0M370.9 24.7h0M347.1 29.7h0M390.8 74.9h0M390.7 72.7h0M333.2 48.2h0M394.4 58.2h0M353.9 36.0h0M396.6 31.4h0M356.8 47.4h0M376.7 90.1h0M384.1 94.0h0M351.3 78.2h0M382.2 28.5h0M372.1 87.6h0M332.9 41.0h0M369.4 68.3h0M370.0 88.0h0M358.1 71.9h0M370.0 83.6h0M358.9 90.6h0M391.9 76.5h0M396.8 72.2h0M351.9 93.5h0M356.1 49.6h0M376.0 60.6h0M402.6 54.4h0M398.1 57.0h0M347.0 63.1h0M379.3 46.2h0M373.1 56.0h0M332.2 29.4h0M358.1 74.9h0M342.1 93.7h0M356.9 32.4h0M344.2 90.7h0M391.7 72.2h0M334.9 70.7h0M332.4 41.5h0M335.6 72.8h0M389.8 43.4h0M402.6 63.6h0M392.0 38.8h0M388.2 69.9h0M336.3 79.5h0M385.9 51.8h0M349.9 30.1h0M374.2 46.1h0M347.6 56.9h0M340.0 72.0h0M354.1 45.8h0M361.9 55.8h0M362.1 42.9h0M385.1 88.9h0M371.5 76.4h0M389.2 45.2h0M393.5 65.5h0M376.6 64.4h0M394.6 60.0h0M381.9 43.3h0M342.2 63.4h0M390.3 35.1h0M383.1 44.3h0M338.7 82.8h0M334.9 54.8h0M378.0 75.1h0M386.0 31.8h0M340.2 46.7h0M391.6 88.9h0M361.2 44.9h0M375.1 55.5h0M332.1 68.3h0M397.7 72.5h0M383.0 29.8h0M375.0 92.2h0M350.3 47.7h0M348.8 67.6h0M355.6 85.6h0M379.5 63.8h0M385.7 39.6h0M348.8 55.1h0M359.1 56.2h0M402.0 47.9h0M392.0 84.5h0M353.6 52.9h0M332.3 74.5h0M365.7 36.9h0M395.9 56.9h0M348.2 58.8h0M343.0 42.0h0M377.3 71.7h0M338.3 77.5h0M386.4 63.2h0M374.7 68.5h0M386.7 75.8h0M387.4 61.7h0M364.5 34.8h0M379.2 70.7h0M386.4 71.1h0M366.5 28.8h0M377.6 73.1h0M340.4 41.6h0M364.2 33.1h0M402.5 30.0h0M381.2 87.3h0M335.1 59.1h0M362.6 94.7h0M400.1 66.5h0M384.8 86.9h0M338.4 32.7h0M376.9 89.7h0M382.0 90.2h0M342.6 44.4h0M344.3 63.4h0M399.8 39.1h0M362.9 58.2h0M370.2 46.2h0M362.9 24.7h0M330.9 62.4h0M338.3 68.4h0M360.4 55.6h0M352.2 86.6h0M355.5 86.7h0M335.5 70.1h0M344.1 91.0h0M333.9 84.4h0M386.1 53.3h0M335.3 75.4h0M383.0 81.4h0M379.7 83.6h0M359.4 71.2h0M395.9 45.6h0M347.1 46.4h0M332.0 85.0h0M343.3 25.3h0M349.6 58.4h0M395.9 49.9h0M393.2 91.4h0M402.0 66.7h0M378.1 64.3h0M387.6 74.0h0M338.2 54.1h0M392.3 54.9h0M387.6 85.3h0M386.5 76.8h0M354.7 60.7h0M391.1 55.9h0M372.2 28.3h0M362.3 60.5h0M342.1 52.4h0M336.2 94.1h0M340.8 76.2h0M350.0 95.0h0M392.9 62.9h0M348.3 31.5h0M361.5 48.7h0M346.1 91.1h0M375.2 33.1h0M364.2 48.1h0M387.9 65.8h0M331.9 62.8h0M365.4 43.4h0M362.2 43.4h0M340.3 46.0h0M402.4 29.1h0M372.0 83.4h0M393.1 57.7h0M382.1 58.7h0M371.7 35.6h0M390.0 82.2h0M350.0 68.3h0M345.4 81.4h0M340.2 38.8h0M364.6 47.8h0M362.4 33.5h0M381.6 36.2h0M337.6 63.3h0M390.4 72.1h0M383.4 43.4h0M357.0 67.7h0M352.8 51.0h0M386.5 30.8h0M377.4 45.9h0M349.8 82.8h0M390.1 29.4h0M337.3 50.5h0M362.6 53.8h0M377.3 51.4h0M347.3 94.7h0M402.6 83.1h0M391.7 95.0h0M387.4 65.1h0M334.3 39.5h0M373.5 60.0h0M391.8 25.6h0M361.1 30.3h0M351.0 51.7h0M383.7 78.9h0M381.0 56.0h0M368.4 78.2h0M380.9 38.3h0M392.9 83.0h0M383.0 71.2h0M369.9 37.8h0M336.2 31.0h0M333.6 40.8h0M402.5 66.2h0M330.8 84.8h0M334.7 54.2h0M371.9 44.3h0" stroke="#eaa89c" stroke-width="1.6" stroke-linecap="round"/>
<path d="M363.4 64.8h0M397.5 58.1h0M367.4 66.8h0M344.0 61.4h0M376.2 81.6h0M337.5 46.4h0M337.2 82.8h0M380.8 27.7h0M401.7 93.9h0M377.9 68.8h0M342.0 25.7h0M368.9 28.9h0M344.4 42.0h0M332.8 58.0h0M362.5 85.1h0M368.2 70.6h0M366.8 72.2h0M363.7 44.6h0M402.8 96.1h0M391.4 75.5h0M353.4 41.1h0M351.5 29.7h0M386.1 53.4h0M391.9 52.4h0M399.9 85.5h0M330.7 39.7h0M396.5 58.4h0M401.5 53.2h0M335.9 69.8h0M386.9 44.0h0M337.0 48.5h0M400.4 79.1h0M339.2 42.3h0M338.0 29.0h0M388.3 37.4h0M371.1 56.8h0M344.4 77.2h0M340.1 70.9h0M339.1 54.9h0M346.0 44.0h0M400.8 82.3h0M352.6 88.2h0M345.9 53.0h0M392.4 70.7h0M337.9 95.7h0M346.1 43.2h0M386.5 48.3h0M352.1 29.9h0M337.2 66.5h0M348.2 67.8h0M357.5 57.2h0M400.0 59.4h0M372.2 86.9h0M343.9 35.7h0M396.3 83.4h0M348.7 38.3h0M384.1 92.2h0M344.9 92.9h0M394.4 68.0h0M361.1 32.1h0M333.4 93.8h0M347.9 75.2h0M349.2 83.8h0M373.8 45.7h0M343.3 76.4h0M335.6 41.0h0M371.1 85.9h0M375.1 44.8h0M397.0 39.3h0M331.8 44.0h0M362.9 29.0h0M343.4 51.1h0M372.0 34.1h0M356.8 88.6h0M401.5 71.8h0M380.6 66.6h0M340.8 27.2h0M331.9 90.0h0M381.3 93.8h0M332.2 70.3h0M365.5 77.1h0M353.7 96.4h0M336.1 63.9h0M383.9 89.3h0M383.9 75.2h0M388.0 90.3h0M356.1 73.8h0M395.8 87.2h0M360.8 81.4h0M393.1 65.8h0M375.8 52.1h0M372.8 68.4h0M336.4 70.6h0M402.5 87.8h0M383.3 52.5h0M383.8 66.4h0M362.5 84.8h0M336.7 78.5h0M332.8 67.8h0M365.4 41.2h0M381.1 60.4h0M375.1 90.7h0M349.1 25.5h0M352.4 73.3h0M345.3 36.8h0M396.1 72.0h0M362.6 88.7h0M354.3 72.5h0M345.0 55.6h0M388.9 90.3h0M394.3 52.3h0M372.8 47.4h0M340.5 60.3h0M391.2 85.6h0M382.1 92.9h0M350.7 36.8h0M363.2 44.4h0M346.1 54.4h0M375.9 60.1h0M353.5 84.9h0M401.7 57.1h0M336.0 26.9h0M393.8 27.6h0M381.9 65.6h0M353.0 81.5h0M332.0 34.4h0M363.5 26.4h0M390.6 41.7h0M340.8 28.0h0M376.1 56.7h0M376.2 71.7h0M389.0 93.5h0M380.1 39.0h0M365.0 37.5h0M331.4 58.6h0M382.3 37.5h0M350.3 49.5h0M381.1 62.0h0M375.1 78.9h0M359.1 81.5h0M396.2 30.9h0M398.1 76.5h0M340.0 57.2h0M375.9 90.0h0M357.9 65.5h0M394.2 81.9h0M398.9 57.9h0M377.7 39.4h0M382.8 83.4h0M377.0 76.2h0M346.1 89.3h0M401.5 94.8h0M369.5 81.4h0M353.8 90.0h0M392.5 49.7h0M336.6 56.3h0M370.4 79.8h0M365.9 26.7h0M389.2 29.2h0M388.5 37.1h0M354.9 81.2h0M340.8 35.3h0M368.0 76.6h0M391.4 74.1h0M399.0 60.0h0M399.3 30.8h0M346.7 62.5h0M351.6 77.0h0M376.8 62.2h0M391.6 64.9h0M353.2 52.0h0M391.8 89.3h0M345.7 85.7h0M400.7 62.3h0M372.1 39.1h0M369.4 60.8h0M374.4 26.6h0M400.7 61.7h0M359.6 82.2h0M371.3 59.9h0M380.6 29.4h0M369.6 54.4h0M399.8 91.0h0M350.1 58.6h0M339.8 55.8h0M389.6 89.3h0M365.1 47.4h0M344.5 69.0h0M397.5 33.9h0M387.0 26.3h0M344.7 41.0h0M380.3 47.8h0M356.3 69.1h0M338.2 77.1h0M339.5 61.3h0M348.8 38.8h0M369.0 56.0h0M357.8 54.3h0M368.9 36.1h0M345.4 70.0h0M376.8 62.7h0M392.2 68.6h0M392.6 41.4h0M384.2 82.8h0M395.9 47.3h0M353.4 90.9h0M346.4 96.3h0M394.8 34.3h0M348.0 76.8h0M349.4 31.6h0M390.8 54.9h0M387.8 33.7h0M359.8 73.8h0M331.9 39.1h0M380.0 90.1h0M400.7 32.9h0M367.2 79.1h0M367.0 73.9h0M344.3 29.7h0M338.3 27.3h0M370.5 61.6h0M371.8 35.2h0M344.0 39.3h0M391.4 95.8h0M397.7 31.5h0M335.1 93.0h0M364.1 79.6h0M354.3 58.2h0M367.9 55.5h0M374.1 25.6h0M381.3 85.3h0M343.8 57.2h0M384.1 53.8h0M344.8 36.5h0M367.7 25.8h0M395.2 82.2h0M381.6 86.5h0M376.2 53.7h0M374.0 60.9h0M401.7 82.4h0M349.3 90.1h0M384.5 80.5h0M389.5 53.8h0M395.5 87.8h0M380.9 79.7h0M386.0 53.8h0M382.9 29.7h0M355.4 58.3h0M331.4 50.2h0M376.8 69.5h0M347.4 92.5h0M378.8 48.9h0M378.4 65.5h0M369.2 52.6h0M402.9 70.8h0M381.4 79.3h0M401.5 26.3h0M375.1 77.7h0M349.2 53.5h0M334.3 38.7h0M357.8 31.7h0M348.8 89.7h0M370.4 61.1h0M400.6 65.4h0M402.6 70.5h0M389.2 30.1h0M373.9 79.2h0M333.9 91.4h0M342.2 58.5h0M342.9 60.2h0M374.8 28.9h0M399.0 54.9h0M368.7 67.6h0M357.1 45.2h0M378.0 64.9h0M351.1 76.1h0M352.1 25.7h0M348.4 27.7h0M342.0 78.8h0M358.8 89.1h0M384.8 28.3h0M402.1 92.5h0M336.0 89.7h0M361.7 58.9h0M401.0 42.1h0M368.5 91.9h0M382.9 58.3h0M401.4 83.3h0M374.3 32.9h0M375.8 57.4h0M345.4 28.4h0M368.8 33.6h0M362.7 72.6h0M363.6 43.5h0M372.7 54.8h0M386.9 62.8h0M402.8 93.0h0M383.7 41.8h0M338.9 88.7h0M387.4 69.5h0M356.6 44.1h0M380.2 65.2h0M373.4 70.1h0M385.1 38.3h0M348.6 95.0h0M396.9 87.7h0M333.5 29.0h0M350.2 55.2h0M375.7 32.0h0M369.8 29.9h0M336.9 73.2h0M370.5 70.0h0M357.6 59.0h0M345.9 49.3h0M384.5 84.9h0M336.0 33.3h0M389.2 69.4h0M386.2 40.0h0M361.3 43.2h0M389.2 51.1h0M377.9 95.7h0M354.2 64.0h0M384.6 90.8h0M361.6 51.2h0M337.7 87.5h0M336.3 30.6h0M371.4 59.5h0M380.2 46.1h0M386.7 30.1h0M346.1 72.2h0M336.6 46.5h0M383.1 74.5h0M351.1 34.9h0M356.5 76.8h0M357.1 33.1h0M381.9 65.5h0M397.1 92.1h0M396.7 56.1h0M388.7 46.5h0M353.6 53.3h0M398.2 88.9h0M348.6 50.6h0M357.1 50.7h0M359.3 52.5h0M344.7 65.1h0M388.3 63.5h0M391.1 65.1h0M343.4 79.1h0M394.3 44.9h0M332.3 61.7h0M370.0 65.4h0M400.5 71.4h0M388.8 29.2h0M370.2 81.2h0M336.7 30.5h0M383.9 89.2h0M336.8 70.2h0M341.1 78.2h0M377.6 42.3h0M346.6 79.6h0M368.4 79.6h0M359.2 48.9h0M400.7 72.9h0M366.3 63.2h0M382.8 75.5h0M396.8 54.1h0M390.4 72.5h0M392.4 82.5h0M390.9 88.5h0M399.9 70.6h0M368.5 75.6h0M388.7 54.9h0M361.0 35.1h0M384.2 95.8h0M357.8 36.7h0M345.4 55.2h0M351.8 94.3h0M334.9 46.8h0M339.0 71.2h0M386.8 37.5h0M335.2 57.6h0M372.9 89.9h0M333.3 32.5h0M344.0 40.3h0M347.7 76.1h0M373.7 40.7h0M344.0 44.8h0M343.1 79.0h0M353.2 64.0h0M389.7 59.1h0M349.5 88.4h0M396.8 49.2h0M370.2 93.4h0M365.5 40.5h0M334.2 92.7h0M388.6 52.3h0M368.8 61.7h0M350.5 95.7h0M378.2 41.7h0M331.4 58.6h0M357.5 81.9h0M382.2 68.2h0M342.0 35.9h0M353.9 43.3h0M393.5 61.7h0M376.7 96.0h0M349.9 63.0h0M341.5 80.0h0M330.7 83.6h0M391.8 83.7h0M336.6 44.0h0M382.5 31.6h0M365.4 58.3h0M399.7 66.8h0M392.6 46.4h0M387.7 54.6h0M396.9 31.2h0M390.4 39.6h0M369.9 62.4h0M342.0 84.4h0M353.2 47.0h0M336.1 46.6h0M364.4 76.0h0M356.7 74.0h0M338.3 53.0h0M364.0 94.1h0M390.6 71.6h0M331.5 51.7h0M382.0 41.7h0M371.4 57.5h0M331.4 95.8h0M388.5 39.5h0M375.2 45.5h0M357.8 63.4h0M352.2 48.9h0M359.0 72.5h0M349.2 39.0h0M383.5 48.3h0M399.0 65.1h0M383.0 48.5h0M390.4 31.3h0M340.8 31.4h0M379.6 75.5h0M343.7 53.5h0M391.2 67.2h0M337.2 40.9h0M342.0 33.6h0M360.1 29.9h0M397.2 55.3h0M367.6 71.1h0M386.1 83.6h0M358.6 48.4h0M360.4 25.8h0M359.6 74.9h0M401.6 81.3h0M378.4 68.3h0M332.0 48.4h0M355.4 71.4h0M338.3 51.8h0M367.5 81.3h0M390.3 68.6h0M342.1 79.7h0M395.9 64.0h0M356.1 60.6h0M340.9 75.9h0M402.0 61.7h0M382.4 84.6h0M344.9 92.5h0M376.0 38.9h0M336.7 42.2h0M372.3 74.7h0M354.5 91.4h0M356.8 57.9h0M339.6 94.6h0M340.5 89.6h0M369.9 64.9h0M371.2 43.6h0M396.4 95.9h0M389.8 67.8h0M339.5 83.9h0M351.5 89.1h0M348.1 65.8h0M390.7 38.0h0M370.3 30.1h0M333.0 37.6h0M402.0 92.1h0M378.3 46.7h0M379.2 77.6h0M358.2 67.1h0M388.8 25.8h0M345.1 58.3h0M341.0 52.4h0M371.8 37.1h0M368.2 43.6h0M371.7 48.5h0M377.0 27.4h0M379.2 35.0h0M400.0 67.7h0M364.6 54.2h0M375.8 74.1h0M385.5 78.6h0M365.8 96.1h0M391.3 86.0h0M360.2 55.8h0M371.6 89.6h0M368.7 62.3h0M361.9 89.6h0M353.8 28.6h0M383.1 89.3h0M383.6 67.6h0M385.0 46.5h0M373.6 29.7h0M339.6 56.7h0M367.0 53.1h0M334.4 74.5h0M368.7 41.8h0M352.8 53.0h0M347.7 29.6h0M396.5 94.0h0M378.8 86.9h0M361.1 82.5h0M346.7 78.3h0M371.6 89.5h0M337.8 81.5h0M339.6 63.2h0M399.4 24.7h0M348.3 46.1h0M354.1 29.1h0M395.4 83.2h0M359.4 50.2h0M373.0 27.9h0M332.9 89.2h0M352.9 60.4h0M398.2 94.8h0M364.8 39.5h0M352.0 90.9h0M395.5 38.7h0M391.2 50.1h0M364.8 37.0h0M394.3 96.1h0M345.3 70.1h0M344.5 87.8h0M334.3 32.3h0M383.1 47.1h0M395.7 87.1h0M382.2 34.3h0M381.0 92.0h0M362.8 30.3h0M346.8 46.7h0M382.0 38.8h0M343.7 41.6h0M378.7 81.4h0M357.6 72.2h0M394.6 67.0h0M347.2 46.3h0M397.7 72.5h0M350.7 70.6h0M337.2 95.2h0M362.5 62.6h0M369.0 27.9h0M374.0 45.1h0M348.8 82.3h0M337.0 45.1h0M385.3 42.3h0M350.8 64.0h0M344.1 89.1h0M402.1 27.1h0M364.0 78.5h0M358.5 91.4h0M366.8 37.6h0M370.8 71.0h0M356.7 71.9h0M387.3 61.8h0M367.2 85.3h0M380.1 62.0h0M399.4 37.1h0M387.0 36.5h0M374.6 41.5h0M362.5 80.2h0M387.5 81.5h0M347.7 59.8h0M346.6 66.3h0M366.7 27.2h0M373.8 76.0h0M372.1 87.3h0M343.7 35.6h0M331.9 60.3h0M362.1 56.4h0M349.7 82.0h0M335.9 89.8h0M371.8 63.7h0M387.9 41.7h0M341.2 47.0h0M333.7 47.2h0M375.6 62.4h0M349.8 66.9h0M337.0 83.6h0M343.1 42.9h0M342.2 74.2h0M390.7 81.1h0M335.1 54.1h0M357.0 40.2h0M400.8 27.7h0M366.0 79.3h0M402.0 35.0h0M363.6 78.1h0M333.5 41.9h0M395.0 34.8h0M359.1 46.1h0M361.3 30.1h0M333.1 96.2h0M385.8 77.4h0M347.3 42.8h0M370.6 42.0h0M364.0 91.6h0M357.0 48.8h0M401.6 68.5h0M333.5 53.6h0M377.6 28.9h0M355.5 74.5h0M393.1 67.1h0M394.7 57.9h0M359.1 85.2h0M358.2 80.8h0M346.2 49.6h0M343.9 64.1h0M342.5 39.3h0M346.2 58.2h0M353.0 56.8h0M402.5 73.4h0M393.0 39.3h0M358.3 29.9h0M380.6 50.7h0M350.5 26.0h0M343.8 43.5h0M359.1 91.0h0M382.4 43.9h0M356.8 35.7h0M398.4 50.5h0M386.0 76.6h0M396.2 26.1h0M353.9 52.3h0M336.7 88.0h0M354.2 80.0h0M368.2 28.6h0M359.1 41.8h0M333.6 35.5h0M373.7 26.9h0M353.2 55.1h0M370.0 34.4h0M381.7 43.3h0M383.1 72.5h0M341.3 39.4h0M350.9 75.8h0M360.0 52.4h0M393.3 40.9h0M351.8 49.4h0M346.2 27.6h0M332.4 69.9h0M371.6 82.7h0M401.2 46.1h0M379.1 90.6h0M346.3 74.1h0M378.8 93.2h0M393.4 41.5h0M376.4 31.1h0M361.6 52.8h0M335.0 52.2h0M354.4 60.3h0M350.9 36.0h0M359.7 58.8h0M342.7 72.4h0M348.0 31.3h0M355.4 55.0h0M341.6 66.5h0M381.4 64.4h0M381.3 26.3h0M358.9 50.8h0M335.2 53.7h0M334.6 60.2h0M373.0 58.3h0M354.2 42.8h0M332.4 49.6h0M395.1 65.3h0M349.6 72.6h0M344.1 58.3h0M375.1 93.2h0M356.9 66.0h0M398.8 80.0h0M376.0 69.2h0M360.4 54.5h0M350.6 84.2h0M394.3 52.1h0M396.4 27.4h0M340.5 61.1h0M353.0 50.5h0M401.3 35.4h0M344.6 41.1h0M379.8 41.5h0M330.7 63.7h0" stroke="#d86450" stroke-width="1.5" stroke-linecap="round"/>
<path d="M365.0 71.9h0M378.8 34.9h0M331.4 51.5h0M350.4 82.9h0M380.6 67.8h0M371.0 72.1h0M341.1 56.2h0M342.3 89.7h0M334.9 83.5h0M336.0 74.0h0M355.0 53.7h0M391.6 25.9h0M335.0 90.4h0M367.4 31.1h0M402.1 92.7h0M338.7 55.0h0M340.4 47.1h0M375.6 36.4h0M381.1 28.3h0M343.0 83.2h0M359.6 54.7h0M373.7 58.9h0M358.4 26.8h0M383.2 94.2h0M401.3 72.3h0M356.4 50.7h0M380.6 73.0h0M338.8 41.5h0M356.9 61.4h0M389.3 60.6h0M332.6 83.7h0M361.7 61.9h0M346.7 55.3h0M358.7 80.1h0M338.0 64.1h0M343.5 74.6h0M333.3 44.5h0M355.5 70.4h0M334.4 57.6h0M345.7 44.9h0M365.1 93.5h0M365.4 93.3h0M342.7 91.1h0M357.0 38.2h0M384.8 90.2h0M331.1 43.9h0M386.4 49.2h0M348.1 25.2h0M333.5 69.1h0M401.8 96.4h0M367.1 26.3h0M353.9 81.2h0M390.8 70.6h0M347.2 62.5h0M365.2 69.7h0M349.6 92.7h0M395.3 36.3h0M351.7 87.4h0M350.7 92.5h0M367.9 74.6h0M381.6 40.0h0M351.2 42.9h0M380.1 74.5h0M340.1 88.3h0M361.0 41.9h0M362.1 95.0h0M371.1 69.5h0M397.2 93.8h0M385.7 54.6h0M373.2 89.4h0M387.7 66.3h0M355.8 51.1h0M383.9 65.1h0M331.8 75.7h0M396.0 82.0h0M395.6 90.1h0M369.3 81.3h0M358.1 31.7h0M356.2 47.0h0M398.2 74.1h0M369.8 69.3h0M339.6 63.0h0M381.3 52.9h0M348.4 53.9h0M354.0 73.9h0M340.9 31.1h0M353.2 74.6h0M385.6 72.0h0M398.3 50.9h0M332.8 59.7h0M362.7 37.5h0M378.9 49.1h0M347.9 48.1h0M398.9 25.2h0M356.7 44.7h0M345.2 55.7h0M346.6 90.7h0M366.9 74.8h0M342.4 58.0h0M374.5 85.2h0M348.7 57.6h0M392.5 84.4h0M347.1 63.3h0M385.7 53.0h0M379.4 72.3h0M401.0 64.4h0M379.9 49.8h0M383.6 47.8h0M366.8 50.5h0M352.8 34.4h0M346.9 63.7h0M348.8 27.9h0M388.8 45.1h0M398.4 67.7h0M358.8 87.4h0M395.6 47.7h0M339.7 70.7h0M391.6 68.4h0M387.4 54.3h0M375.3 43.5h0M360.1 51.9h0M358.4 53.3h0M389.0 36.8h0M345.4 42.9h0M400.9 62.2h0M334.4 84.7h0M393.8 83.6h0M356.6 77.4h0M352.7 34.5h0M393.2 84.5h0M345.9 87.9h0M332.4 46.8h0M331.5 36.9h0M342.4 76.1h0M352.1 38.3h0M343.9 47.0h0M393.0 68.2h0M338.0 73.9h0M369.4 56.8h0M368.8 71.4h0M388.6 60.9h0M376.6 58.2h0M376.5 52.5h0M360.6 61.7h0M382.4 44.6h0M397.6 59.9h0M392.5 74.2h0M399.8 73.7h0M361.5 53.8h0M374.6 78.8h0M391.3 33.9h0M335.1 32.4h0M336.7 28.7h0M331.2 42.5h0M338.8 73.9h0M375.2 94.0h0M400.1 78.3h0M399.4 26.6h0M347.1 91.2h0M365.0 39.5h0M385.4 55.1h0M369.9 47.3h0M348.1 30.9h0M374.5 93.1h0M402.0 79.6h0M398.2 50.6h0M352.2 91.0h0M374.0 72.7h0M331.5 41.0h0M365.5 77.2h0M390.4 79.0h0M355.2 52.0h0M393.0 95.7h0M365.7 38.6h0M375.8 63.1h0M356.8 41.2h0M358.5 68.6h0M339.8 63.5h0M399.5 78.2h0M348.9 54.7h0M338.0 77.6h0M376.3 37.0h0M370.3 67.4h0M372.4 51.8h0M353.0 50.1h0M402.8 48.4h0M367.0 57.7h0M343.1 53.3h0M345.4 47.8h0M357.2 49.8h0M398.5 45.9h0M354.7 71.9h0M359.4 61.7h0M377.5 29.9h0M379.2 31.9h0M348.7 82.8h0M402.2 73.0h0M343.0 56.1h0M351.1 85.1h0M347.5 38.7h0M376.8 70.4h0M373.3 59.0h0M400.0 57.6h0M398.4 52.8h0M364.3 50.4h0M382.4 78.6h0M347.9 62.4h0M383.2 60.7h0M378.6 68.9h0M382.3 50.1h0M352.8 26.4h0M395.1 81.4h0M358.9 94.1h0M395.9 35.5h0M391.2 54.9h0M353.4 43.2h0M360.6 28.3h0M334.3 33.0h0M352.8 36.0h0M339.4 84.4h0M358.1 59.9h0M374.1 91.7h0M341.2 41.0h0M392.9 90.0h0M398.1 62.6h0M357.2 38.2h0M396.5 79.6h0M370.5 81.5h0M349.5 63.0h0M396.2 32.4h0M375.3 37.9h0M391.3 84.9h0M377.2 55.9h0M332.2 60.1h0M356.6 53.4h0M336.2 90.8h0M368.4 65.0h0M391.6 89.0h0M370.4 63.7h0M391.9 51.4h0M395.8 26.4h0M388.2 62.5h0M375.7 95.8h0M346.5 53.9h0M388.5 78.3h0M368.6 80.5h0M379.6 87.1h0M377.7 50.7h0M351.4 30.5h0M339.5 27.7h0M401.2 34.7h0M374.2 34.2h0M400.6 62.9h0M343.4 84.0h0M392.9 94.9h0M346.8 53.5h0M378.4 44.9h0M371.8 75.0h0M385.0 83.8h0M385.0 45.1h0M385.3 55.8h0M342.9 26.1h0M375.7 50.3h0M337.4 59.8h0M360.6 48.0h0M371.6 63.3h0M369.0 95.6h0M396.1 46.1h0M393.7 47.3h0M398.4 28.7h0M353.6 91.6h0M378.5 75.4h0M345.4 33.3h0M400.1 29.3h0M343.3 55.6h0M389.9 73.4h0M402.9 80.6h0M362.3 90.1h0M353.5 28.3h0M400.1 88.0h0M378.4 59.1h0M345.4 40.4h0M335.5 31.4h0M365.3 89.0h0M398.1 61.6h0M379.4 58.2h0M386.8 75.4h0M401.9 85.4h0M379.7 67.0h0M342.8 58.5h0M363.0 35.7h0M345.2 54.2h0M343.3 69.5h0M354.3 95.6h0M380.1 61.7h0M362.0 52.8h0M345.1 93.8h0M396.7 71.3h0M377.7 35.0h0M369.8 36.6h0M354.1 66.8h0M342.9 41.4h0M383.5 59.5h0M395.0 36.0h0M337.0 92.1h0M374.7 74.5h0M370.9 35.3h0M401.4 60.2h0M396.4 35.1h0M350.5 64.1h0M348.5 86.4h0M349.5 30.3h0M342.4 44.1h0M399.2 87.8h0M379.1 55.3h0M333.6 84.4h0M339.7 39.0h0M362.1 86.6h0M343.8 29.1h0M396.3 25.2h0M383.8 34.7h0M352.2 39.5h0M362.4 90.9h0M391.4 63.1h0M336.9 37.2h0M352.0 81.7h0M396.9 26.4h0M354.8 93.6h0M341.5 30.3h0M349.8 88.5h0M349.7 76.5h0M339.2 71.9h0M342.8 67.4h0M384.4 87.8h0M362.2 95.4h0M360.0 92.9h0M396.8 96.4h0M338.3 44.3h0M381.0 88.3h0M349.2 79.8h0M365.1 24.9h0M336.8 25.1h0M347.1 91.7h0M379.8 86.7h0M396.9 52.8h0M381.0 71.7h0M380.7 31.3h0M394.9 35.9h0M362.8 74.0h0M384.5 84.0h0M353.2 46.0h0M383.3 28.0h0M393.8 47.3h0M359.0 47.1h0M382.3 37.1h0M340.4 29.4h0M340.1 69.4h0M402.2 25.0h0M364.1 50.2h0M353.0 49.3h0M338.4 55.1h0M349.9 28.9h0M340.4 91.3h0M382.6 95.3h0M389.5 77.7h0M347.0 32.4h0M401.9 73.8h0M382.9 34.9h0M387.9 63.1h0M337.0 39.7h0M400.7 69.4h0M337.2 30.4h0M384.9 49.9h0M365.2 34.5h0M343.5 60.4h0M361.5 38.0h0M341.5 56.6h0M338.8 29.1h0M364.9 28.3h0M383.8 79.8h0M381.7 93.0h0M342.6 54.9h0M360.6 29.8h0M392.8 27.5h0M401.8 73.2h0M401.9 28.9h0M395.3 93.9h0M386.9 66.3h0M377.5 59.2h0M392.4 66.2h0M370.2 53.7h0M376.1 66.8h0M398.7 80.2h0M354.5 76.4h0M347.5 59.2h0M368.7 76.9h0M335.8 35.1h0M343.8 69.2h0M342.9 64.8h0M394.4 55.3h0M346.8 67.5h0M360.4 56.0h0M343.5 73.7h0M355.6 95.4h0M366.5 73.7h0M397.5 95.3h0M332.1 91.3h0M338.1 92.8h0M387.7 43.0h0M382.4 65.1h0M363.3 69.7h0M363.7 71.9h0M380.9 25.0h0M376.9 75.3h0M393.3 63.1h0M369.8 35.0h0M344.8 89.0h0M335.1 89.4h0M339.5 52.2h0M375.7 26.7h0" stroke="#c04434" stroke-width="1.4" stroke-linecap="round"/>
<path d="M349.3 73.9h0M380.2 85.8h0M344.0 41.1h0M341.1 40.7h0M383.8 33.9h0M369.1 39.9h0M351.9 55.6h0M391.3 68.4h0M331.5 44.4h0M341.1 87.4h0M389.3 82.6h0M390.5 78.2h0M399.5 81.8h0M349.1 85.8h0M365.8 79.0h0M371.5 55.5h0M356.9 55.5h0M353.3 32.9h0M390.0 82.1h0M402.1 74.3h0M370.7 78.5h0M340.3 73.3h0M362.7 37.2h0M345.2 62.2h0M348.9 57.6h0M374.5 53.0h0M340.0 59.9h0M347.6 41.5h0M344.6 50.9h0M335.8 71.5h0M399.8 52.6h0M382.7 91.8h0M333.6 34.7h0M389.1 85.0h0M376.9 36.0h0M360.5 87.1h0M394.9 82.4h0M345.2 86.1h0M357.7 76.2h0M340.4 94.6h0M374.3 76.6h0M345.8 69.0h0M372.7 67.1h0M356.6 77.0h0M355.3 45.8h0M342.4 73.8h0M338.6 40.7h0M335.5 70.9h0M370.9 63.7h0M333.3 56.2h0M355.4 31.1h0M330.7 96.5h0M339.3 46.2h0M350.0 67.6h0M336.1 58.4h0M357.1 84.7h0M330.9 48.6h0M366.5 94.5h0M368.0 58.7h0M379.1 45.9h0M332.8 60.6h0M396.6 77.8h0M349.2 73.8h0M392.2 43.1h0M373.2 50.1h0M348.2 45.2h0M345.3 49.8h0M333.2 53.2h0M336.8 79.2h0M374.1 24.7h0M386.7 38.2h0M365.4 64.5h0M354.6 45.3h0M362.1 34.3h0M393.2 32.5h0M390.3 40.2h0M352.5 52.5h0M332.9 33.7h0M356.7 56.4h0M394.2 95.9h0M333.6 63.1h0M339.9 82.5h0M353.9 88.9h0M370.1 33.5h0M330.8 42.4h0M393.6 35.3h0M365.3 51.3h0M355.5 82.3h0M346.0 76.3h0M378.9 92.0h0M368.2 90.9h0M362.5 65.8h0M375.6 85.1h0M395.7 32.8h0M340.4 63.0h0M389.5 63.0h0M352.2 93.9h0M352.1 30.7h0M334.2 26.6h0M383.3 32.2h0M382.5 87.0h0M403.1 82.9h0M361.3 69.4h0M391.0 76.1h0M351.6 79.5h0M338.4 46.7h0M402.9 58.5h0M349.9 81.1h0M363.2 24.7h0M332.6 43.2h0M354.6 92.1h0M348.4 85.8h0M392.5 54.5h0M402.7 79.5h0M365.6 43.3h0M364.0 89.6h0M369.5 38.4h0M357.8 58.8h0M344.3 65.8h0M332.9 83.7h0" stroke="#d8c4dc" stroke-width="1.1" stroke-linecap="round"/>
<path d="M338.3 75.2h0M377.8 92.3h0M350.2 42.9h0M383.8 72.0h0M352.5 73.8h0M359.3 80.6h0M339.1 40.6h0M395.9 50.3h0M349.4 82.5h0M376.4 35.3h0M370.5 72.4h0M342.5 71.5h0M339.4 48.8h0M336.5 39.2h0M401.5 53.6h0M402.4 56.1h0M374.6 87.4h0M380.4 32.5h0M373.3 70.2h0M343.7 31.3h0M394.0 61.5h0M344.6 57.1h0M346.3 82.1h0M366.8 31.9h0M389.9 31.0h0M350.9 26.5h0M384.2 32.7h0M368.7 31.2h0M365.4 73.9h0M369.3 57.3h0M365.7 56.0h0M373.7 31.3h0M365.0 41.5h0M393.3 92.2h0M335.3 34.8h0M381.6 65.7h0M331.9 75.3h0M399.0 55.0h0M355.7 65.6h0M398.7 43.5h0M352.4 38.1h0M376.1 58.3h0M349.1 52.5h0M333.0 47.0h0M401.9 66.8h0M351.0 92.0h0M356.5 42.6h0M333.1 35.0h0M345.0 41.1h0M393.9 43.6h0M348.5 68.0h0M397.1 45.5h0M385.8 51.1h0M371.2 67.5h0M398.9 79.1h0M367.4 85.2h0M357.1 52.2h0M400.2 63.9h0M386.7 47.2h0M397.0 68.7h0M348.5 91.8h0M364.5 49.0h0M349.6 31.9h0M345.1 74.4h0M340.7 43.2h0M363.0 63.8h0M358.1 81.1h0M349.1 51.1h0M361.4 33.8h0M346.6 35.1h0M383.2 35.1h0M379.0 40.5h0M377.5 71.8h0M356.2 91.8h0M378.2 64.7h0M333.9 53.8h0M349.8 58.4h0M398.3 86.8h0M335.0 73.5h0M398.3 63.6h0M337.5 87.0h0M361.5 95.2h0M394.0 84.3h0M398.1 29.4h0M388.1 46.5h0M340.3 51.8h0M373.3 24.9h0M363.1 81.0h0M366.5 62.6h0M352.0 94.5h0M348.5 73.6h0M377.4 24.5h0M402.8 41.5h0M402.3 91.4h0M395.9 86.2h0M359.4 56.6h0M355.6 92.0h0M332.6 34.4h0M399.9 82.6h0M381.8 94.3h0M368.5 84.7h0M362.7 89.4h0M335.6 56.1h0M372.4 81.8h0M361.2 73.6h0M400.8 54.7h0M345.0 26.7h0M393.1 58.8h0M358.7 62.0h0M339.2 40.5h0M347.6 42.9h0M392.9 42.3h0M337.1 87.0h0M371.0 26.5h0M379.5 74.0h0M377.7 80.3h0M361.3 40.7h0M384.5 69.6h0M381.6 37.7h0M357.6 74.3h0M358.4 67.9h0M364.8 78.9h0M355.8 60.4h0M390.6 46.9h0M343.3 70.4h0M340.2 86.3h0M350.5 89.7h0M369.3 35.6h0M368.3 73.7h0M365.8 70.3h0M357.3 93.7h0M343.2 82.0h0M332.2 61.1h0M335.3 34.0h0M373.2 89.7h0M353.0 53.5h0M365.1 68.1h0M355.9 49.8h0M392.5 64.6h0M356.1 83.5h0M403.0 55.7h0M331.6 46.5h0M395.7 36.9h0M344.9 81.6h0M338.8 85.7h0M346.9 52.5h0M373.7 32.6h0M386.8 56.1h0M386.4 79.6h0M336.1 83.8h0M390.1 41.9h0M373.4 39.3h0M369.6 78.7h0M357.9 62.9h0M340.0 86.7h0M376.0 84.4h0M336.4 78.2h0M337.1 64.6h0M347.3 89.5h0M338.2 58.6h0" stroke="#fcf4f2" stroke-width="1.2" stroke-linecap="round"/>
<rect x="414.6" y="23.9" width="73.20" height="73.30" fill="#ecd6d0"/>
<path d="M480.1 43.4h0M447.6 39.7h0M480.4 48.8h0M421.3 65.8h0M435.7 74.2h0M476.8 40.5h0M416.4 70.9h0M447.4 35.7h0M455.2 55.8h0M486.6 66.3h0M423.7 88.0h0M462.0 47.3h0M419.4 72.5h0M448.0 48.6h0M468.9 31.5h0M421.6 72.2h0M418.7 26.7h0M451.7 25.7h0M463.1 62.5h0M437.8 33.8h0M443.2 40.4h0M431.7 46.4h0M478.8 71.1h0M436.7 50.9h0M463.8 31.9h0M422.6 66.1h0M481.0 74.9h0M466.5 37.6h0M475.9 31.9h0M441.2 45.0h0M462.3 87.8h0M476.8 53.2h0M472.7 91.0h0M477.7 47.6h0M436.4 95.6h0M430.2 28.5h0M422.0 83.4h0M423.9 41.9h0M470.9 25.3h0M440.5 35.3h0M453.1 42.5h0M436.7 79.4h0M450.7 50.0h0M465.7 73.6h0M453.3 51.3h0M451.7 46.8h0M428.3 89.6h0M478.5 37.0h0M486.7 72.1h0M434.3 31.7h0M420.9 27.6h0M463.4 71.6h0M465.8 60.7h0M484.1 57.4h0M471.0 59.4h0M429.1 45.5h0M444.1 29.7h0M470.4 70.3h0M467.4 86.9h0M436.1 56.0h0M426.3 48.8h0M424.7 29.5h0M478.1 65.0h0M447.2 91.6h0M484.6 33.2h0M453.8 56.7h0M447.7 61.1h0M479.6 79.7h0M479.8 91.2h0M477.3 25.8h0M470.6 37.5h0M415.6 78.8h0M482.3 64.9h0M436.6 32.3h0M459.9 33.3h0M440.6 72.2h0M442.5 44.6h0M471.2 63.7h0M478.6 86.1h0M422.1 60.9h0M469.9 81.5h0M484.4 46.5h0M477.7 33.3h0M484.9 50.9h0M438.3 45.2h0M447.9 47.0h0M446.2 75.3h0M443.6 25.9h0M473.8 73.2h0M438.0 32.1h0M439.3 26.7h0M461.1 87.6h0M433.3 51.4h0M452.8 33.2h0M475.5 42.7h0M448.5 27.9h0M448.5 37.8h0M452.8 40.3h0M486.3 92.1h0M458.0 90.5h0M441.2 38.9h0M475.8 77.1h0M419.7 81.0h0M428.3 27.2h0M460.5 32.5h0M448.2 61.7h0M480.2 55.9h0M472.7 80.6h0M440.4 55.3h0M479.8 39.4h0M467.0 58.3h0M484.8 26.6h0M450.0 43.2h0M448.5 40.9h0M485.5 34.4h0M482.0 52.5h0M485.3 93.6h0M431.8 54.6h0M462.1 68.9h0M432.4 56.3h0M468.5 30.6h0M443.8 37.6h0M484.9 74.0h0M468.9 33.3h0M430.6 48.4h0M483.3 32.6h0M438.3 29.9h0M445.2 33.7h0M476.2 90.6h0M477.4 85.1h0M445.4 28.4h0M416.5 71.7h0M445.2 34.5h0M478.5 61.7h0M454.4 65.1h0M442.9 29.7h0M471.5 34.0h0M485.0 34.2h0M448.8 38.1h0M478.4 38.6h0M440.8 93.9h0M467.1 28.4h0M447.0 37.7h0M470.9 65.0h0M459.3 70.1h0M428.9 78.1h0M485.2 46.4h0M473.6 70.7h0M451.1 94.6h0M449.6 70.5h0M449.1 65.5h0M484.2 31.1h0M469.2 55.4h0M476.7 51.0h0M435.1 40.1h0M415.8 45.0h0M454.9 78.4h0M426.6 87.2h0M450.4 30.6h0M463.9 93.5h0M425.3 30.8h0M473.2 46.2h0M482.3 42.9h0M418.6 77.1h0M464.3 84.0h0M435.2 32.7h0M480.9 28.9h0M435.8 61.6h0M459.1 54.0h0M420.1 86.7h0M466.1 84.4h0M415.9 59.6h0M469.2 69.3h0M475.3 33.2h0M448.2 46.1h0M421.2 27.5h0M476.9 55.2h0M462.6 80.8h0M440.8 78.3h0M442.3 50.4h0M468.0 60.8h0M447.2 59.4h0M469.0 46.7h0M473.1 66.7h0M440.5 34.3h0M425.6 84.3h0M486.7 26.4h0M486.6 42.9h0M459.9 85.1h0M463.5 82.1h0M454.9 94.2h0M441.1 82.6h0M428.2 56.6h0M458.6 66.4h0M476.2 77.0h0M450.5 35.4h0M445.3 30.8h0M437.5 85.7h0M471.3 57.5h0M464.2 49.5h0M482.9 29.6h0M459.3 67.4h0M473.4 37.0h0M452.3 41.3h0M423.7 83.7h0M475.4 36.1h0M475.0 43.4h0M462.5 25.7h0M452.3 55.7h0M477.0 32.5h0M431.7 60.5h0M436.1 30.5h0M471.3 36.6h0M433.9 35.0h0M486.4 39.8h0M450.0 54.7h0M432.2 74.5h0M456.7 80.5h0M464.1 40.9h0M451.2 49.1h0M446.6 27.8h0M450.1 30.3h0M462.9 67.0h0M430.7 28.6h0M482.4 76.2h0M439.0 92.3h0M437.6 72.9h0M423.7 51.7h0M453.4 58.6h0M442.4 35.9h0M473.7 58.1h0M480.4 52.9h0M474.3 90.5h0M466.3 25.5h0M486.6 41.2h0M440.1 59.6h0M477.9 38.6h0M435.0 67.6h0M427.5 44.0h0M465.6 56.8h0M459.8 28.3h0M445.5 78.5h0M454.8 46.4h0M474.5 31.9h0M483.2 92.1h0M486.4 59.8h0M479.3 92.4h0M449.2 40.4h0M464.3 90.2h0M417.5 28.9h0M417.9 32.7h0M457.0 58.9h0M460.6 65.3h0M474.5 84.3h0M454.7 32.3h0M429.2 59.0h0M460.0 85.3h0M482.0 84.3h0M433.3 51.6h0M459.2 49.8h0M476.2 67.1h0M438.2 45.3h0M481.8 33.3h0M468.6 73.6h0M451.6 58.2h0M417.1 47.6h0M470.4 29.6h0M445.6 46.8h0M471.5 66.1h0M485.6 37.7h0M421.0 46.1h0M474.5 26.2h0M470.1 37.0h0M436.7 30.8h0M415.5 68.9h0M449.6 60.5h0M433.1 61.4h0M447.0 28.3h0M474.8 66.7h0M474.4 35.5h0M476.6 52.5h0M430.6 63.3h0M459.7 33.0h0M485.0 85.7h0M457.0 45.2h0M459.9 93.4h0M445.8 74.5h0M486.2 76.0h0M477.1 38.8h0M471.1 37.7h0M429.2 50.1h0M464.9 34.2h0M468.5 58.1h0M442.4 57.7h0M479.7 39.3h0M479.4 33.6h0M443.9 68.3h0M470.9 33.4h0M445.4 27.8h0M443.0 25.7h0M431.3 25.5h0M459.2 58.2h0M446.1 44.3h0M469.3 55.3h0M416.5 41.9h0M456.0 46.6h0M465.5 68.7h0M429.3 31.6h0M479.0 25.0h0M465.0 35.1h0M416.1 41.9h0M486.1 37.3h0M451.5 91.8h0M416.0 84.3h0M462.2 87.2h0M485.4 47.4h0M435.4 31.1h0M451.0 36.3h0M485.7 49.6h0M418.7 47.7h0M419.7 43.7h0M425.8 70.7h0M466.0 60.6h0M475.8 69.1h0M436.0 27.6h0M440.5 32.5h0M485.9 77.2h0M444.8 62.0h0M463.4 60.3h0M474.4 70.4h0M416.8 81.2h0M419.0 71.4h0M481.5 91.5h0M446.9 92.7h0M451.4 25.3h0M480.0 79.1h0M437.6 81.0h0M475.7 36.9h0M476.7 36.3h0M484.8 52.6h0M475.3 74.7h0M433.4 59.4h0M442.7 42.4h0M479.8 33.4h0M416.2 73.0h0M484.7 33.3h0M479.7 69.9h0M454.4 55.5h0M454.6 66.7h0M441.6 57.4h0M425.9 61.3h0M467.2 43.1h0M454.5 57.7h0M447.2 34.4h0M434.4 66.9h0M440.7 29.2h0M465.1 26.9h0M474.1 62.5h0M456.4 60.3h0M466.3 35.7h0M434.0 34.2h0M442.2 29.9h0M483.9 62.2h0M470.5 25.8h0M443.0 28.7h0M465.0 47.7h0M420.8 45.8h0M420.8 49.7h0M416.0 35.1h0M486.2 77.7h0M476.2 95.2h0M479.2 25.3h0M449.7 51.7h0M462.7 56.6h0M456.9 38.8h0M448.7 85.6h0M415.8 62.0h0M456.8 52.3h0M424.9 40.2h0M462.1 36.8h0M484.8 94.7h0M464.0 25.0h0M483.6 47.7h0M479.8 93.9h0M422.9 82.3h0M422.4 78.9h0M417.7 75.2h0M419.9 28.0h0M483.4 51.7h0M437.5 29.7h0M453.2 59.8h0M470.8 53.8h0M480.4 81.5h0M459.4 41.6h0M482.2 67.2h0M452.4 75.9h0M440.3 47.9h0M481.7 30.4h0M446.4 33.3h0M416.3 85.1h0M434.3 88.5h0M484.3 48.0h0M475.3 90.7h0M416.5 29.0h0M457.9 90.7h0M425.0 76.5h0M485.0 41.6h0M470.4 33.1h0M457.9 63.9h0M431.3 45.9h0M432.1 73.0h0M438.8 62.2h0M470.2 70.4h0M420.2 28.8h0M443.7 60.3h0M480.7 57.0h0M420.0 41.3h0M443.7 26.6h0M444.1 59.1h0M473.4 93.0h0M460.9 70.4h0M469.7 30.8h0M457.1 64.6h0M427.4 51.3h0M439.5 31.8h0M457.2 38.6h0M469.4 81.7h0M471.9 37.1h0M486.2 63.4h0M450.1 41.5h0M469.9 78.3h0M476.8 26.3h0M420.3 68.7h0M434.2 39.9h0M417.1 30.7h0M420.6 35.8h0M429.4 45.9h0M454.7 25.8h0M477.5 45.6h0M465.2 37.3h0M431.3 43.1h0M442.6 59.6h0M446.2 57.1h0M481.8 56.8h0M459.6 46.6h0M475.0 84.0h0M435.0 93.3h0M471.3 70.0h0M451.0 42.3h0M418.2 71.4h0M482.4 79.2h0M480.7 29.1h0M477.6 64.0h0M486.3 54.1h0M482.4 42.1h0M446.6 34.3h0M449.6 28.3h0M429.0 37.6h0M415.6 26.7h0M479.2 41.0h0M454.9 82.3h0M435.9 53.7h0M484.9 93.7h0M453.9 71.8h0M442.2 82.2h0M455.7 66.6h0M467.1 42.8h0M468.0 29.9h0M443.6 44.1h0M457.8 51.2h0M478.2 47.8h0M429.1 68.9h0M473.1 66.3h0M448.8 69.9h0M484.4 80.5h0M486.7 57.3h0M425.2 68.2h0M453.6 28.6h0M424.4 55.2h0M464.8 55.9h0" stroke="#bcb4dc" stroke-width="1.8" stroke-linecap="round"/>
<path d="M427.2 74.2h0M460.9 59.0h0M430.8 81.6h0M473.3 61.4h0M451.6 41.6h0M415.6 51.3h0M457.3 29.6h0M472.3 41.3h0M432.0 27.7h0M486.9 77.7h0M478.1 68.9h0M417.8 48.3h0M451.0 33.0h0M483.6 51.1h0M426.5 83.3h0M424.3 91.3h0M447.8 64.3h0M439.9 59.5h0M428.8 27.3h0M477.4 41.5h0M471.3 39.6h0M484.8 88.8h0M469.5 79.4h0M457.0 77.0h0M424.1 58.9h0M474.6 39.1h0M481.5 88.4h0M444.7 50.9h0M447.7 52.3h0M486.7 52.4h0M417.3 31.3h0M466.8 95.9h0M450.9 59.9h0M454.8 78.4h0M431.3 68.4h0M455.3 69.4h0M428.3 36.9h0M440.3 91.2h0M440.2 67.5h0M437.3 32.1h0M420.1 83.1h0M471.1 51.6h0M464.3 73.2h0M479.8 93.5h0M444.5 95.7h0M484.3 67.0h0M478.7 59.9h0M442.3 42.4h0M478.2 36.3h0M420.3 82.5h0M470.8 59.3h0M475.4 28.4h0M433.8 45.5h0M445.4 36.9h0M420.3 48.9h0M479.8 95.3h0M468.8 59.0h0M433.4 93.5h0M453.0 77.0h0M417.4 39.9h0M475.5 81.7h0M478.6 67.8h0M445.9 66.4h0M476.2 46.8h0M453.7 44.5h0M470.4 25.4h0M464.5 93.1h0M417.0 67.3h0M461.5 85.8h0M457.2 43.1h0M444.4 93.5h0M480.3 34.2h0M422.1 31.4h0M417.2 56.7h0M425.4 86.9h0M462.3 33.7h0M454.0 47.9h0M450.8 40.4h0M427.3 37.9h0M442.4 75.6h0M454.8 28.0h0M466.3 87.4h0M470.9 81.4h0M415.9 58.0h0M419.9 79.5h0M427.9 75.7h0M433.5 74.7h0M437.8 27.7h0M443.2 46.9h0M479.9 45.8h0M451.4 64.1h0M483.3 31.7h0M458.5 61.1h0M468.0 94.1h0M437.6 74.9h0M453.0 64.9h0M419.9 83.1h0M485.4 50.2h0M438.2 96.0h0M423.1 30.1h0M420.6 83.1h0M469.8 56.8h0M459.9 26.1h0M461.6 56.4h0M452.4 52.6h0M444.1 40.8h0M418.9 55.8h0M433.1 75.2h0M474.0 76.6h0M448.0 41.6h0M443.0 59.6h0M460.7 93.8h0M421.5 59.1h0M450.6 76.1h0M479.2 80.6h0M460.3 79.1h0M463.2 86.3h0M465.5 73.7h0M432.9 90.5h0M443.0 68.8h0M474.5 93.8h0M486.3 25.1h0M437.8 47.0h0M443.4 35.1h0M455.0 30.4h0M437.0 92.4h0M468.6 57.8h0M423.1 93.3h0M465.8 39.4h0M439.4 70.7h0M464.2 43.4h0M483.6 47.8h0M433.6 85.3h0M426.3 73.6h0M429.7 67.6h0M435.2 51.9h0M482.8 58.2h0M446.7 69.0h0M435.5 37.2h0M442.9 44.2h0M428.9 93.6h0M417.8 82.8h0M482.4 75.2h0M416.7 60.6h0M418.2 68.3h0M465.6 41.9h0M415.9 63.7h0M422.1 46.8h0M447.9 88.9h0M441.9 34.3h0M472.1 83.7h0M453.3 28.2h0M428.8 53.6h0M454.9 40.8h0M472.9 85.2h0M481.7 88.1h0M416.6 66.4h0M421.1 89.2h0M468.9 79.2h0M428.9 28.9h0M473.8 68.2h0M459.8 58.5h0M472.7 48.9h0M434.7 50.0h0M436.7 69.7h0M479.2 29.7h0M420.2 61.4h0M464.0 38.3h0M434.7 28.9h0M418.0 60.2h0M464.2 71.5h0M426.7 32.1h0M482.1 63.3h0M444.6 74.3h0M467.5 62.3h0M421.0 84.0h0M430.7 27.6h0M440.6 62.9h0M460.4 37.1h0M466.2 60.1h0M427.0 85.7h0M473.2 89.7h0M464.1 40.3h0M471.1 89.5h0M453.6 89.9h0M484.9 52.7h0M482.9 91.9h0M472.3 25.5h0M440.6 68.7h0M458.9 78.9h0M461.7 36.2h0M482.1 63.2h0M478.6 39.5h0M486.9 64.5h0M471.0 77.8h0M478.6 50.7h0M421.3 53.8h0M428.1 63.4h0M473.8 50.7h0M424.7 26.6h0M445.7 66.3h0M417.2 72.4h0M430.5 32.3h0M481.9 62.2h0M479.5 61.6h0M424.2 41.9h0M445.8 70.7h0M470.6 78.6h0M462.0 42.8h0M446.2 51.8h0M450.5 43.7h0M453.9 57.6h0M417.9 83.7h0M457.4 82.3h0M468.2 77.1h0M486.6 51.7h0M443.6 24.9h0M463.0 66.4h0M456.7 96.3h0M429.5 41.0h0M468.0 83.0h0M450.0 28.6h0M441.9 84.0h0M451.2 57.8h0M443.3 69.8h0M458.3 74.4h0M477.4 78.6h0M442.2 42.6h0M471.4 81.6h0M481.9 38.9h0M476.1 88.6h0M420.9 46.8h0M460.8 35.1h0M474.9 43.7h0M464.3 45.9h0M431.0 39.5h0M451.0 75.8h0M431.0 73.9h0M439.4 71.3h0M441.7 38.5h0" stroke="#e6c4b4" stroke-width="1.5" stroke-linecap="round"/>
<path d="M484.1 34.7h0M431.9 93.6h0M458.5 91.6h0M481.6 75.5h0M478.6 67.0h0M429.0 85.7h0M456.0 74.8h0M433.9 93.4h0M471.4 93.2h0M425.5 83.9h0M428.6 28.1h0M417.6 91.1h0M440.8 55.6h0M482.0 93.1h0M427.6 63.9h0M438.9 50.3h0M418.0 63.1h0M419.0 54.1h0M451.1 62.3h0M486.5 78.1h0M467.5 70.9h0M471.6 83.5h0M460.9 49.1h0M465.0 55.8h0M418.3 94.1h0M423.8 40.2h0M422.3 58.4h0M466.9 58.0h0M431.9 43.7h0M417.4 79.7h0M460.7 95.5h0M432.1 63.0h0M439.9 86.7h0M416.0 51.9h0M427.9 82.3h0M452.1 38.1h0M426.7 84.9h0M429.0 53.8h0M429.3 36.2h0M442.6 41.6h0M422.4 29.4h0M444.9 69.4h0M439.2 94.4h0M467.5 89.4h0M462.1 47.7h0M436.7 26.3h0M422.7 56.6h0M427.9 58.9h0M440.7 83.1h0M452.2 40.2h0M432.5 46.9h0M418.8 96.1h0M423.4 59.2h0M451.5 29.6h0M442.6 90.4h0M448.3 69.9h0M464.6 82.7h0M441.2 45.2h0M421.2 35.7h0M461.0 69.9h0M481.4 66.7h0M439.5 53.2h0M455.2 83.8h0M477.7 80.9h0M453.4 73.6h0M440.8 82.0h0M485.6 66.3h0M418.6 68.1h0M466.6 41.4h0M442.0 71.3h0M415.9 56.3h0M426.6 92.2h0M426.8 31.8h0M449.5 37.2h0M451.3 42.9h0M447.7 74.7h0M418.9 33.5h0M460.3 48.7h0M444.6 27.6h0M464.8 63.3h0M483.7 90.7h0M442.9 29.9h0M476.7 52.6h0M459.3 81.6h0M435.6 70.8h0M448.0 36.5h0M423.4 43.3h0M472.3 70.0h0M463.0 77.3h0M421.2 58.3h0M428.8 52.7h0M449.6 26.4h0M437.6 86.3h0M423.8 49.8h0M431.7 49.9h0M426.1 71.9h0M470.3 49.4h0M424.1 45.8h0M435.1 29.6h0M443.5 90.0h0M430.5 35.8h0M484.3 91.6h0M418.9 59.6h0M423.3 54.7h0M415.4 76.3h0M471.8 59.6h0M452.5 34.4h0M432.5 47.7h0M426.7 28.6h0M432.3 64.5h0M432.0 33.7h0M463.9 74.2h0M456.9 26.4h0M472.8 51.7h0M445.5 84.6h0M423.3 60.4h0M422.1 45.8h0M476.3 86.5h0M434.4 50.7h0M434.7 29.8h0M484.7 81.7h0M450.7 96.4h0M432.2 55.6h0M442.2 83.4h0M452.9 80.6h0M440.7 59.4h0M464.5 92.0h0M454.5 73.8h0M442.1 89.6h0M417.9 73.8h0M443.2 87.0h0M448.8 28.2h0M430.4 40.1h0M418.7 31.0h0M468.0 94.4h0M424.6 30.1h0M439.1 94.1h0M477.4 95.4h0M429.4 61.7h0M435.7 37.8h0M473.0 64.4h0M431.5 50.4h0M434.8 47.0h0M436.4 73.0h0M460.3 91.0h0M424.6 53.6h0M468.9 62.7h0M447.3 40.0h0M451.4 78.5h0M452.8 67.5h0M431.9 31.2h0M437.2 89.1h0M486.2 83.9h0M460.6 51.8h0M422.6 65.4h0M451.1 74.7h0M461.6 80.4h0M480.8 94.8h0M423.0 55.3h0M446.1 36.9h0M431.3 59.8h0M436.8 56.7h0M423.8 74.8h0M417.5 68.7h0M475.1 32.0h0M464.7 48.1h0M444.3 95.5h0M447.4 45.5h0M479.5 88.1h0M480.4 79.4h0M460.8 81.7h0M442.4 71.0h0M453.4 31.1h0M457.7 44.9h0M451.6 87.1h0M428.0 60.8h0M486.1 95.9h0M466.8 52.5h0M422.5 90.1h0M453.3 60.4h0M481.9 79.1h0M456.5 96.2h0M442.1 50.7h0M423.7 69.8h0M468.9 86.3h0M472.4 80.3h0M415.4 31.7h0M476.9 85.1h0M480.7 81.1h0M469.2 83.3h0M415.9 73.4h0M425.9 34.2h0M480.2 28.3h0M448.5 75.8h0M450.2 48.0h0M447.4 28.3h0M424.7 86.0h0M485.9 89.3h0M476.8 95.6h0M450.0 73.1h0M434.2 77.3h0M442.9 26.2h0M473.2 34.5h0M443.7 46.0h0M419.2 39.1h0M471.0 82.6h0M447.6 93.7h0M472.5 92.2h0M467.7 76.5h0M423.8 65.0h0M438.9 69.1h0M424.4 62.4h0M427.8 61.0h0M450.4 79.5h0M449.5 42.3h0M416.8 45.8h0M416.4 75.0h0M485.7 60.5h0M439.8 83.1h0M441.9 91.9h0" stroke="#b87452" stroke-width="1.4" stroke-linecap="round"/>
<path d="M421.3 67.2h0M453.4 34.0h0M447.2 40.5h0M417.1 30.8h0M457.6 71.9h0M441.8 65.7h0M437.9 30.8h0M466.8 67.1h0M461.4 37.7h0M438.5 83.2h0M423.5 31.7h0M435.1 65.8h0M439.1 51.2h0M437.2 80.5h0M466.1 84.1h0M454.5 90.6h0M419.4 54.5h0M473.1 92.8h0M486.2 78.4h0M420.8 58.1h0M482.3 92.9h0M422.8 62.6h0M454.3 83.0h0M445.6 89.3h0M439.9 88.7h0M479.5 74.0h0M465.0 84.2h0M432.4 45.8h0M433.2 93.0h0M455.6 63.6h0M455.6 58.4h0M429.9 73.6h0M447.6 55.0h0M454.0 64.6h0M436.7 89.2h0M478.2 86.6h0M436.3 47.6h0M437.0 93.6h0M449.6 64.4h0M435.3 31.0h0M434.3 85.8h0M423.3 57.9h0M433.9 85.7h0M485.8 70.2h0M425.9 84.8h0M480.7 37.8h0M449.0 75.6h0M470.6 83.6h0M457.8 48.1h0M422.0 86.2h0M453.6 86.3h0M441.3 71.4h0M485.7 95.2h0M442.6 80.2h0M418.2 53.0h0M469.7 63.1h0M444.5 28.9h0M446.0 83.7h0M445.1 42.3h0M463.4 56.6h0M453.8 69.4h0M462.7 55.5h0M419.4 27.1h0M463.3 44.2h0M452.2 63.6h0M420.2 58.6h0M434.6 45.1h0M454.5 81.4h0M456.2 89.4h0M464.8 92.7h0M423.4 90.8h0M423.3 84.0h0M421.2 81.8h0M461.7 87.5h0M468.0 77.2h0M419.7 72.2h0M472.6 70.3h0M452.1 89.6h0M430.3 82.4h0M425.6 34.7h0M451.7 82.8h0M472.7 84.9h0M458.4 83.7h0M483.6 90.4h0M451.8 50.3h0M451.3 95.3h0M422.5 42.4h0M478.8 57.6h0M454.8 42.4h0M457.8 95.8h0M461.0 79.2h0M419.2 91.3h0M439.6 31.3h0M449.8 81.6h0M427.8 87.8h0M417.0 86.3h0M425.7 46.1h0M452.8 93.1h0M444.1 77.7h0M444.2 49.0h0M416.1 48.8h0M421.2 59.5h0M476.1 44.4h0M445.8 88.3h0M422.1 69.7h0M426.0 77.1h0M457.5 85.7h0M423.7 29.1h0M423.7 55.9h0M439.2 65.7h0M448.0 77.3h0M475.8 83.9h0M462.5 38.4h0M478.3 66.1h0M427.7 68.6h0M443.1 24.8h0M484.4 86.8h0M461.1 45.8h0M421.5 37.3h0M430.6 76.4h0M442.0 77.6h0M444.8 48.1h0M434.7 80.1h0M422.1 38.6h0M433.1 34.7h0M451.8 82.8h0M418.6 72.5h0M415.4 53.5h0M475.8 75.0h0M485.3 69.4h0M443.8 65.7h0M480.1 40.4h0M452.1 40.7h0M423.3 31.1h0M419.1 43.8h0M422.2 82.5h0M417.7 82.6h0M439.8 86.4h0M426.6 89.4h0M484.0 94.5h0M453.8 41.4h0M428.9 82.3h0M420.7 57.6h0M483.5 89.0h0M416.5 65.4h0M478.6 69.2h0M427.2 27.2h0M471.5 51.5h0M433.2 48.4h0M434.9 47.3h0M446.3 65.7h0M444.2 80.9h0M444.6 95.5h0M416.3 33.5h0M421.9 77.5h0M436.7 69.3h0M446.4 96.4h0M443.3 89.9h0M426.1 54.9h0M425.5 50.1h0M465.9 69.5h0M473.1 75.2h0M434.9 41.7h0M461.1 67.1h0M423.6 41.5h0M421.1 54.3h0M469.7 76.6h0M452.1 91.4h0M430.4 66.2h0M439.9 81.4h0M442.1 66.9h0M452.4 62.4h0M451.3 53.5h0M464.0 56.1h0M431.2 28.5h0M441.1 51.8h0M429.8 41.4h0M436.2 43.4h0M470.1 29.0h0M447.5 88.9h0M441.5 94.5h0M474.5 85.1h0M429.3 81.4h0M453.7 57.6h0M421.7 25.8h0M418.5 58.3h0M416.6 58.0h0M432.0 63.5h0M419.3 91.5h0M432.3 72.0h0M433.2 63.3h0M435.1 57.2h0M431.8 95.3h0M439.1 96.2h0M447.8 87.2h0M427.7 29.4h0M420.6 46.3h0M439.1 47.7h0M432.0 26.1h0M432.0 79.4h0M451.9 76.7h0M425.6 88.5h0M449.1 66.6h0M420.2 28.9h0M450.0 68.1h0M435.1 92.5h0M428.2 80.9h0M475.9 89.5h0M422.2 44.8h0M430.5 56.9h0M419.0 41.7h0M416.4 82.8h0M456.6 28.6h0M451.9 63.8h0M426.9 45.5h0M473.3 85.8h0M468.0 82.8h0M459.9 78.8h0M439.1 43.1h0M452.2 63.4h0M421.5 26.4h0M426.5 69.2h0M453.7 70.9h0M420.7 78.3h0M425.9 46.9h0M428.1 37.3h0M460.1 58.8h0M419.8 70.7h0M447.0 91.3h0M443.7 50.0h0M459.7 76.1h0M415.7 53.0h0M449.4 94.5h0M434.1 48.9h0M432.6 42.0h0M424.4 45.9h0M448.1 79.6h0M462.3 37.5h0M465.5 80.4h0M417.7 39.1h0M417.6 92.9h0M468.6 82.4h0M471.8 86.7h0M417.6 36.9h0M452.5 60.1h0M417.1 91.1h0M426.0 83.9h0M439.2 35.3h0M444.5 90.3h0M433.8 58.3h0M416.3 78.0h0M484.2 86.3h0M454.6 74.7h0M416.7 95.8h0M472.7 63.3h0M420.5 62.0h0M418.2 78.9h0M426.8 53.3h0M441.2 44.3h0M434.9 40.4h0M415.5 82.0h0M424.4 38.8h0M424.7 35.1h0M466.0 60.3h0M439.2 74.8h0M443.3 56.7h0M466.6 67.2h0M450.4 61.2h0M438.4 29.3h0M426.5 30.9h0M464.7 91.5h0M484.0 82.4h0M415.5 93.7h0M415.6 52.5h0M448.0 55.2h0M452.4 40.3h0M420.0 64.8h0M428.6 57.5h0M446.6 61.8h0M484.8 85.5h0M468.6 84.3h0M415.6 93.2h0M434.1 68.1h0M417.7 76.4h0M437.4 76.0h0M465.2 37.6h0M434.5 95.2h0M425.6 69.1h0M440.1 46.5h0M457.4 40.3h0M425.5 43.8h0M435.9 94.2h0M417.3 42.5h0M441.2 65.6h0M427.7 30.2h0M476.3 91.1h0M420.6 38.9h0M424.6 54.5h0M417.8 36.7h0M452.5 73.7h0" stroke="#9a4a26" stroke-width="1.5" stroke-linecap="round"/>
<rect x="245.0" y="104.8" width="73.20" height="72.80" fill="#fbf0e6"/>
<path d="M256.3 138.0h0M300.9 155.8h0M298.1 136.5h0M303.0 143.5h0M251.7 138.1h0M249.4 171.9h0M313.5 129.5h0M268.0 160.2h0M260.5 118.4h0M259.4 130.4h0M290.6 174.0h0M261.0 173.5h0M285.5 169.6h0M304.3 117.1h0M292.2 114.5h0M246.4 133.8h0M301.1 145.9h0M259.7 165.4h0M311.1 122.6h0M277.9 151.0h0M310.3 114.7h0M285.4 174.4h0M289.4 156.6h0M301.2 141.7h0M266.6 147.6h0M283.6 130.1h0M306.9 131.5h0M280.4 159.7h0M304.0 168.9h0M292.4 123.7h0M306.4 170.2h0M296.9 160.1h0M282.6 140.7h0M287.5 116.2h0M294.1 166.8h0M257.7 159.2h0M296.3 114.3h0M249.6 148.0h0M261.6 127.7h0M290.2 151.9h0M299.3 146.0h0M269.7 106.6h0M254.1 119.4h0M283.4 156.8h0M260.9 133.4h0M312.7 134.2h0M296.8 149.6h0M293.0 139.5h0M284.8 155.4h0M257.4 162.4h0M308.2 109.1h0M260.1 123.4h0M252.7 115.7h0M291.7 114.5h0M250.7 172.8h0M274.6 144.1h0M279.8 130.1h0M278.3 119.5h0M287.3 123.6h0M256.3 120.5h0M275.4 171.7h0M288.6 175.3h0M274.5 124.2h0M296.6 119.3h0M317.1 133.4h0M265.3 125.0h0M267.7 172.2h0M316.7 145.3h0M262.5 106.4h0M251.7 126.9h0M291.8 150.2h0M306.8 164.0h0M271.1 153.5h0M277.6 157.4h0M259.1 175.0h0M247.6 149.5h0M271.1 162.5h0M256.2 168.9h0M246.2 157.9h0M296.1 141.7h0M258.4 132.8h0M277.8 120.8h0M257.4 165.5h0M285.1 124.9h0M290.5 150.6h0M255.7 147.2h0M287.6 113.6h0M267.4 167.0h0M287.2 121.6h0M274.0 138.3h0M296.4 166.8h0M252.2 109.1h0M277.4 107.2h0M257.0 113.3h0M252.3 150.1h0M252.8 145.9h0M314.8 115.7h0M300.1 147.2h0M258.1 173.1h0M298.5 132.7h0M309.3 113.1h0M305.4 165.5h0M254.2 170.6h0M301.9 170.6h0M266.0 158.1h0M301.5 130.4h0M248.4 106.8h0M282.1 144.6h0M254.9 150.5h0M249.7 139.6h0M282.4 120.2h0M249.3 169.8h0M306.7 147.4h0M248.0 143.0h0M314.6 160.1h0M295.0 108.6h0M287.2 122.2h0M316.3 106.5h0M261.8 168.1h0M254.5 127.0h0M267.8 168.3h0M295.6 172.0h0M259.6 112.0h0M270.4 160.1h0M290.1 172.0h0M296.8 111.6h0M268.4 120.2h0M265.0 153.0h0M277.6 159.4h0M247.1 170.2h0M257.5 158.4h0M306.2 108.7h0M284.6 174.9h0M246.5 141.0h0M276.3 132.8h0M259.8 118.5h0M264.9 121.2h0M266.9 169.7h0M313.6 124.2h0M247.9 124.6h0M307.0 118.2h0M293.1 112.3h0M271.1 117.8h0M289.9 132.0h0M301.1 142.5h0M274.7 107.3h0M305.7 108.5h0M281.5 175.8h0M302.3 131.0h0M312.2 124.1h0M287.4 146.5h0M297.4 126.2h0M274.3 128.8h0M311.5 158.1h0M270.2 160.6h0M290.0 123.3h0M281.5 112.7h0M261.0 111.2h0M251.7 149.4h0M305.1 164.9h0M261.6 172.9h0M269.8 154.8h0M288.4 139.5h0M295.1 168.9h0M295.6 141.8h0M307.4 158.6h0M272.6 175.2h0M274.7 108.6h0M314.7 172.6h0M284.1 159.0h0M295.6 112.7h0M302.7 150.3h0M314.8 139.7h0M265.8 160.3h0M285.4 167.6h0M249.0 154.3h0M310.8 118.7h0M252.4 140.5h0M292.5 150.5h0M283.7 129.8h0M296.6 175.8h0M282.1 133.8h0M315.0 118.3h0M286.1 165.3h0M302.3 158.8h0M294.5 137.6h0M314.8 105.9h0M276.1 137.7h0M297.1 126.1h0M260.1 137.5h0M291.3 143.2h0M308.3 139.3h0M260.6 151.3h0M273.7 107.5h0M274.5 113.6h0M291.5 169.8h0M298.2 173.6h0M256.1 165.0h0M300.4 122.8h0M279.7 118.0h0M268.0 142.9h0M273.7 133.3h0M296.7 153.8h0M254.2 146.2h0M301.4 108.0h0M299.2 107.2h0M276.5 132.8h0M247.4 111.0h0M293.7 124.7h0M283.0 117.3h0M289.8 172.0h0M299.6 131.7h0M314.2 130.6h0M265.8 135.7h0M316.2 133.2h0M266.7 144.2h0M291.3 159.5h0M296.5 153.4h0M275.3 136.8h0M315.9 140.8h0M300.2 131.2h0M246.8 133.5h0M283.2 134.0h0M260.9 117.2h0M249.5 155.8h0M283.6 163.6h0M307.5 159.1h0M302.6 169.8h0M311.1 163.9h0M309.8 130.4h0M317.0 169.1h0M303.9 166.0h0M299.2 146.5h0M282.9 171.8h0M266.4 151.5h0M312.5 124.6h0M257.1 127.8h0M277.5 141.7h0M262.6 122.9h0M256.4 139.1h0M256.1 130.8h0M258.2 150.6h0M290.2 122.0h0M317.2 125.9h0M310.6 127.0h0M286.0 147.6h0M287.2 129.8h0M302.3 149.9h0M285.9 139.9h0M266.1 134.7h0M298.3 156.1h0M316.9 157.4h0M316.7 129.0h0M265.7 176.4h0M276.3 146.9h0M307.9 114.6h0M254.4 138.8h0M260.2 110.1h0M296.7 144.8h0M278.4 151.0h0M267.7 133.8h0M269.8 151.4h0M278.6 146.7h0M285.1 146.1h0M249.2 161.1h0M310.7 110.7h0M298.9 146.2h0M298.8 106.9h0M248.4 144.4h0M285.5 113.2h0M301.3 112.7h0M309.6 162.2h0M297.6 166.5h0M266.8 149.1h0M247.5 159.0h0M258.9 109.3h0M300.2 110.1h0M291.8 173.8h0M284.5 144.6h0M300.2 158.5h0M281.6 109.4h0M316.1 157.4h0M280.0 153.1h0M263.9 122.3h0M248.7 133.9h0M286.3 113.0h0M259.1 133.3h0M246.0 163.2h0M257.5 170.0h0M286.6 127.8h0M251.0 150.4h0M250.2 129.4h0M317.1 164.5h0M296.6 147.2h0M290.1 158.6h0M308.4 112.7h0M309.8 175.0h0M287.5 129.2h0M249.7 130.1h0M248.5 153.8h0" stroke="#f2dc9c" stroke-width="1.9" stroke-linecap="round"/>
<path d="M287.3 119.7h0M314.5 171.0h0M279.3 152.7h0M261.4 121.6h0M266.6 154.7h0M261.3 174.3h0M251.2 119.6h0M252.5 160.2h0M272.2 139.2h0M269.3 150.9h0M274.8 120.7h0M276.7 127.4h0M254.1 163.9h0M294.3 152.8h0M308.6 133.8h0M273.1 135.8h0M274.9 153.1h0M246.7 138.7h0M284.1 130.3h0M247.8 155.6h0M246.9 145.7h0M257.1 108.5h0M259.0 110.7h0M256.9 154.2h0M297.7 131.6h0M292.4 139.5h0M281.5 167.6h0M268.3 167.2h0M295.1 154.1h0M246.7 112.0h0M248.5 130.4h0M313.1 167.6h0M305.5 114.4h0M296.1 160.5h0M303.5 161.7h0M256.2 118.6h0M302.3 157.9h0M309.3 137.4h0M309.1 115.9h0M313.9 168.2h0M270.1 110.8h0M285.0 154.5h0M271.0 110.1h0M266.0 164.0h0M252.7 171.9h0M263.9 120.4h0M254.2 175.0h0M310.0 128.5h0M253.0 152.0h0M309.0 106.9h0M291.0 166.3h0M278.7 146.1h0M303.1 122.8h0M265.6 152.5h0M285.3 143.7h0M269.9 171.9h0M266.6 153.8h0M309.5 134.2h0M250.1 121.5h0M250.9 116.5h0M254.8 130.1h0M272.4 137.5h0M293.3 153.6h0M294.8 131.7h0M293.1 144.7h0M255.3 144.4h0M268.8 153.6h0M298.2 123.0h0M277.0 138.0h0M267.2 108.9h0M249.8 175.8h0M298.6 136.9h0M293.4 125.0h0M296.5 172.9h0M300.9 138.8h0M315.8 170.9h0M250.4 135.0h0M278.2 125.3h0M289.8 116.1h0M299.1 166.3h0M250.6 154.7h0M265.1 150.9h0M295.1 174.7h0M302.7 129.9h0M297.9 116.4h0M296.7 135.4h0M265.0 122.8h0M261.6 162.0h0M253.0 122.4h0M259.8 117.2h0M297.9 147.3h0M293.3 169.3h0M278.0 108.7h0M259.6 142.4h0M296.8 170.6h0M282.4 122.0h0M288.2 171.8h0M269.8 171.5h0M310.1 146.6h0M280.3 115.1h0M254.1 108.9h0M289.5 156.2h0M316.5 148.4h0M316.5 134.4h0M255.7 110.2h0M266.6 143.4h0M316.0 126.9h0M262.9 156.9h0M273.7 145.3h0M257.0 166.0h0M311.2 159.1h0M312.4 129.4h0M248.5 127.5h0M309.7 139.1h0M260.4 116.7h0M257.9 136.9h0M311.7 168.2h0M299.8 159.2h0M259.7 160.7h0M262.1 143.0h0M248.6 168.8h0M255.3 147.7h0M293.1 151.3h0M294.5 132.0h0M302.3 172.0h0M289.9 174.9h0M306.3 110.0h0M293.7 112.5h0M293.0 132.2h0M306.7 109.2h0M313.2 109.1h0M250.3 106.2h0M255.1 175.4h0M305.3 170.5h0M259.4 154.4h0M302.5 157.2h0M265.3 174.3h0M297.7 154.2h0M266.4 134.0h0M299.8 142.3h0M280.7 170.7h0M276.0 166.4h0M249.6 143.3h0M296.7 106.8h0M295.5 126.2h0M290.5 149.9h0M255.9 172.4h0M263.4 115.6h0M277.5 110.5h0M253.4 159.6h0M253.1 144.1h0M308.9 138.0h0M303.8 164.4h0M257.9 111.4h0M301.7 167.0h0M306.6 156.3h0M282.3 173.4h0M298.6 159.7h0M310.7 109.9h0M298.7 147.1h0M247.1 124.0h0M296.9 143.2h0M286.0 126.2h0M286.3 167.8h0M315.5 144.9h0M298.0 112.2h0M256.2 145.4h0M304.7 114.4h0M256.7 141.2h0M267.8 115.9h0M257.5 135.9h0M302.3 118.1h0M303.2 111.3h0M264.0 153.1h0M246.8 128.7h0M257.2 122.2h0M308.9 117.2h0M297.2 170.0h0M263.6 166.7h0M268.9 160.4h0" stroke="#f5e4c0" stroke-width="2.5" stroke-linecap="round"/>
<path d="M256.3 149.5h0M257.9 156.4h0M289.4 132.9h0M290.0 145.9h0M248.8 143.4h0M290.2 142.6h0M308.9 158.0h0M272.8 121.7h0M254.9 163.4h0M295.2 149.0h0M277.4 141.3h0M261.6 143.4h0M256.1 149.9h0M291.0 153.4h0M263.4 112.0h0M269.6 154.6h0M282.3 158.9h0M276.6 133.9h0M310.9 117.4h0M260.6 147.5h0M291.0 136.4h0M285.8 137.0h0M293.7 169.0h0M305.0 151.2h0M279.5 173.2h0M277.8 150.2h0M308.1 154.3h0M273.7 158.6h0M288.8 170.9h0M290.4 143.6h0M315.7 143.2h0M274.3 172.5h0M313.5 117.7h0M250.9 166.8h0M309.1 132.9h0M264.0 154.4h0M313.2 120.7h0M277.8 152.8h0M261.5 135.1h0M255.9 139.7h0M262.2 111.2h0M273.6 116.2h0M254.2 116.2h0M275.7 128.2h0M298.0 135.1h0M263.1 118.9h0M267.0 158.6h0M260.1 138.7h0M303.7 164.8h0M278.9 165.7h0M291.8 121.7h0M252.3 117.6h0M302.5 133.3h0M305.9 174.6h0M311.8 139.0h0M246.2 125.2h0M261.4 151.9h0M296.1 171.3h0M296.4 174.1h0M291.5 139.4h0M305.8 125.0h0M301.6 157.5h0M308.0 109.8h0M259.2 173.4h0M255.9 137.7h0M288.9 139.9h0M308.9 173.8h0M270.2 115.1h0M311.4 137.9h0M263.5 115.3h0M246.3 147.1h0M265.9 145.2h0M312.1 140.1h0M314.2 110.2h0M300.2 159.4h0M314.6 107.7h0M282.1 145.2h0M288.7 139.1h0M265.3 170.0h0M308.8 155.6h0M314.6 145.0h0M251.4 155.1h0M253.2 159.1h0M292.3 120.2h0M256.6 110.3h0M258.4 175.4h0M262.0 168.7h0M255.3 129.7h0M279.6 131.1h0M315.0 122.6h0M280.4 120.1h0M253.5 154.8h0M270.0 140.3h0M295.5 111.8h0M249.6 154.6h0M317.1 106.8h0M278.2 176.6h0M305.5 176.2h0M283.7 174.9h0M249.7 139.2h0M306.6 133.4h0M277.3 137.6h0M273.0 163.6h0M315.6 121.9h0M268.8 162.9h0M299.1 163.7h0M294.7 170.9h0M306.4 150.8h0M266.0 111.5h0M307.5 166.8h0M309.7 124.4h0M298.7 172.0h0M260.5 107.1h0M258.2 121.1h0M294.5 164.2h0M304.5 154.7h0M316.0 175.0h0M277.2 171.3h0M297.3 123.0h0M287.7 117.6h0M274.4 163.6h0M246.4 143.8h0M277.0 125.7h0M250.3 142.9h0M269.6 112.4h0M274.5 154.0h0M251.4 161.6h0M251.6 139.1h0M272.0 166.8h0M309.8 158.2h0M266.8 128.7h0M305.0 141.9h0M291.3 157.2h0M259.4 133.0h0M314.3 129.2h0M306.7 116.5h0M246.7 141.4h0M266.0 148.0h0M301.0 108.2h0M281.6 132.2h0M310.8 165.8h0M309.3 158.5h0M270.6 149.7h0M284.8 131.8h0M266.5 151.8h0M310.1 122.7h0M271.2 116.8h0M271.9 133.2h0M252.4 151.6h0M270.4 163.1h0M263.1 157.9h0M316.1 117.5h0M272.3 174.9h0M274.7 128.9h0M256.7 164.7h0M269.1 168.3h0M285.8 118.3h0M317.0 169.8h0M299.5 148.4h0M299.8 173.2h0M259.8 122.7h0M300.5 135.3h0M316.5 165.1h0M283.1 116.9h0M289.6 148.5h0M287.4 161.1h0M280.0 169.3h0M288.4 116.9h0M304.7 117.5h0M310.8 171.7h0M259.7 119.8h0M296.1 138.1h0M272.6 159.2h0M269.8 114.8h0M285.3 168.2h0M314.7 113.0h0M299.3 128.6h0M315.5 133.3h0M253.0 129.1h0M282.7 118.0h0M301.0 129.0h0M299.0 122.1h0M281.0 152.6h0M260.5 126.1h0M306.0 133.6h0M270.7 149.6h0M295.4 167.2h0M286.3 166.5h0M309.9 171.7h0M311.8 155.1h0M295.7 133.3h0M253.3 171.4h0M275.4 129.6h0M285.1 159.5h0M305.3 113.6h0M302.0 172.7h0M316.0 172.8h0M286.8 169.0h0M288.1 166.1h0M316.8 132.3h0M254.5 159.1h0M313.1 170.1h0M278.9 137.6h0M254.6 166.3h0M265.2 114.2h0M253.0 172.0h0M275.5 162.1h0M250.7 139.9h0M299.3 160.6h0M259.3 139.8h0M304.1 170.8h0M252.4 147.5h0M309.6 149.8h0M302.1 126.7h0M281.1 106.4h0M303.1 145.7h0M258.7 172.7h0M260.8 107.9h0M297.7 111.2h0M293.0 115.2h0" stroke="#eed2d6" stroke-width="1.3" stroke-linecap="round"/>
<path d="M316.1 138.1h0M297.4 158.0h0M261.1 111.0h0M289.0 114.1h0M273.1 169.1h0M308.4 113.9h0M251.5 121.3h0M305.2 107.2h0M261.8 113.1h0M254.8 142.9h0M258.8 134.7h0M298.4 157.2h0M275.5 161.7h0M286.8 164.6h0M263.5 131.8h0M287.4 173.1h0M290.1 139.4h0M263.7 125.5h0M261.1 176.0h0M309.4 169.5h0M283.7 156.1h0M266.9 139.9h0M256.1 135.5h0M263.8 112.6h0M311.8 112.3h0M304.1 155.5h0M252.1 140.1h0M317.3 176.1h0M286.2 160.7h0M296.6 126.3h0M285.2 148.1h0M274.0 164.0h0M277.6 159.1h0M250.3 137.3h0M248.8 151.7h0M308.4 144.3h0M286.3 150.0h0M262.1 133.1h0M287.3 151.7h0M273.0 139.6h0M269.4 145.1h0M294.3 128.9h0M294.9 166.2h0M284.2 175.6h0M267.9 171.2h0M258.7 131.4h0M304.4 107.7h0M289.8 167.8h0M313.6 154.2h0M270.5 129.2h0M291.0 110.2h0M247.6 168.5h0M290.7 117.1h0M276.5 126.1h0M308.2 125.9h0M297.8 158.7h0M268.6 123.5h0M283.1 134.0h0M288.4 128.9h0M302.8 135.5h0M255.4 160.9h0M310.0 154.2h0M284.9 167.8h0M312.8 106.1h0M280.7 106.8h0M269.6 122.7h0M278.8 153.9h0M307.6 124.1h0M246.4 176.9h0M301.9 144.8h0M253.7 109.2h0M312.9 143.3h0M307.5 161.5h0M299.7 163.1h0M263.8 123.0h0M276.8 160.4h0M302.8 159.6h0M287.3 139.5h0M259.6 153.1h0M292.7 142.2h0M297.9 175.5h0M313.5 113.1h0M266.3 149.3h0M295.3 125.8h0M312.6 138.4h0M300.7 109.1h0M265.7 107.0h0M302.6 142.8h0M314.2 148.8h0M269.0 130.9h0M272.6 119.6h0M253.4 151.9h0M268.2 137.9h0M296.7 125.0h0M277.3 128.6h0M268.9 153.1h0M252.7 134.0h0M253.5 153.4h0M267.0 174.5h0M280.4 152.8h0M283.3 164.1h0M296.1 151.3h0M247.9 115.6h0M299.7 134.9h0M315.8 150.9h0M304.9 158.8h0M314.9 152.5h0M313.1 135.9h0M264.9 113.3h0M263.8 169.4h0M293.0 108.5h0M247.6 138.4h0M284.8 131.2h0M247.0 124.1h0M308.7 157.3h0M304.5 124.7h0M293.7 119.5h0M267.3 173.9h0M261.0 126.3h0M261.3 167.6h0M295.1 147.7h0M306.9 138.6h0M311.5 161.0h0M267.2 122.3h0M284.3 137.3h0M302.5 152.1h0M299.1 148.6h0M264.6 158.7h0M316.3 151.0h0M296.8 122.1h0M254.1 137.5h0M288.3 157.5h0M279.7 144.3h0M252.0 108.8h0M254.4 128.2h0M263.1 115.6h0M270.0 129.5h0M304.9 172.4h0M317.2 158.2h0M246.4 122.4h0M317.5 155.2h0M307.4 119.7h0M262.9 112.4h0M283.4 131.6h0M279.5 115.3h0M247.5 133.1h0M312.3 152.1h0M286.8 109.9h0M276.8 131.8h0M291.0 134.2h0" stroke="#fffaf4" stroke-width="1.2" stroke-linecap="round"/>
<rect x="329.9" y="104.8" width="73.80" height="72.80" fill="#fbefee"/>
<path d="M398.2 133.2h0M390.0 123.2h0M365.5 125.1h0M369.8 110.9h0M360.8 128.1h0M333.6 163.7h0M396.6 116.3h0M376.4 143.2h0M361.4 147.6h0M378.4 125.4h0M356.9 141.7h0M402.4 171.9h0M386.8 138.2h0M396.3 175.3h0M394.5 119.4h0M360.4 121.8h0M363.3 166.4h0M366.4 129.1h0M342.6 115.6h0M390.1 173.4h0M394.9 105.9h0M350.0 115.6h0M364.2 120.0h0M365.9 137.7h0M376.3 142.2h0M367.0 108.8h0M398.8 136.0h0M393.5 128.6h0M337.2 176.2h0M366.3 117.6h0M400.3 171.7h0M338.7 173.3h0M340.2 114.8h0M341.4 168.0h0M374.5 145.2h0M381.2 126.6h0M335.1 111.2h0M347.8 147.3h0M336.0 108.8h0M345.2 106.4h0M334.8 115.3h0M339.4 129.3h0M392.1 153.1h0M331.2 110.6h0M355.0 138.3h0M363.5 144.0h0M382.8 150.8h0M348.6 124.9h0M402.4 142.8h0M396.9 171.7h0M389.2 150.2h0M384.1 126.2h0M345.6 133.4h0M344.3 118.5h0M338.7 118.2h0M331.9 115.3h0M383.8 109.1h0M381.8 155.9h0M342.8 139.6h0M374.2 172.6h0M374.8 115.3h0M334.7 118.0h0M340.6 163.7h0M391.8 113.3h0M386.5 169.9h0M346.7 141.4h0M347.6 135.8h0M385.9 120.0h0M367.0 150.4h0M393.4 174.1h0M396.0 134.2h0M355.8 170.3h0M392.9 163.1h0M374.7 173.6h0M340.3 118.9h0M385.6 125.1h0M376.3 147.0h0M375.2 124.4h0M400.3 145.6h0M330.9 128.3h0M368.2 167.3h0M374.8 173.1h0M354.4 109.5h0M363.1 170.7h0M369.7 166.2h0M391.0 169.5h0M366.8 107.3h0M371.9 112.6h0M357.9 122.2h0M356.7 139.6h0M380.2 173.7h0M392.0 164.0h0M342.0 146.8h0M358.3 136.8h0M336.9 138.1h0M400.1 168.0h0M390.5 112.5h0M391.6 134.4h0M355.5 141.0h0M353.9 123.9h0M395.8 147.4h0M363.9 143.3h0M335.8 112.2h0M333.1 130.9h0M394.1 108.4h0M351.8 168.0h0M345.0 141.7h0M395.7 159.9h0M359.0 127.1h0M350.5 129.0h0M401.9 146.9h0M362.4 172.2h0M359.1 122.2h0M367.9 113.7h0M398.6 105.7h0M357.8 107.9h0M346.2 167.7h0M341.8 160.8h0M378.3 109.2h0M400.1 109.2h0M390.6 173.5h0M359.8 132.6h0M358.1 154.8h0M376.1 117.0h0M340.4 116.7h0M336.5 112.4h0M366.3 114.9h0M379.7 127.7h0M399.2 110.3h0M375.6 137.9h0M384.4 107.6h0M344.0 172.3h0M364.4 131.1h0M336.9 147.3h0M400.6 149.9h0M399.7 150.9h0M331.9 149.6h0M371.0 175.6h0M388.0 155.7h0M340.4 136.8h0M385.4 144.0h0M372.8 111.6h0M369.1 111.9h0M332.3 157.7h0M360.3 120.2h0M364.3 111.2h0M376.1 174.4h0M388.5 167.9h0M379.5 173.7h0M361.1 113.7h0M343.7 106.3h0M345.7 113.8h0M342.5 159.5h0M357.8 129.3h0M339.3 160.2h0M349.2 168.9h0M337.9 106.5h0M390.1 140.3h0M392.0 155.8h0M381.6 124.1h0M377.8 112.9h0M396.5 166.6h0M376.4 113.8h0M346.3 138.1h0M340.0 174.4h0M397.5 140.0h0M348.0 141.7h0M402.3 137.5h0M384.3 137.9h0M340.3 127.1h0M361.5 154.3h0M358.6 121.4h0M336.9 172.2h0M391.6 136.0h0M384.9 135.0h0M350.1 111.0h0M376.0 106.1h0M395.8 116.6h0M397.4 133.7h0M379.6 119.1h0M345.5 160.5h0M370.1 145.4h0M356.7 149.3h0M401.5 174.3h0M393.9 144.5h0M362.1 166.2h0M390.2 133.0h0M368.0 106.0h0M376.3 141.9h0M340.0 172.9h0M382.3 141.1h0M390.6 145.5h0M367.5 106.8h0M381.6 140.3h0M368.7 147.0h0M384.0 155.5h0M379.8 176.6h0M359.7 175.2h0M337.3 166.5h0M373.9 139.6h0M349.3 116.4h0M358.2 140.2h0M331.2 155.6h0M393.6 146.7h0M381.5 113.5h0M355.1 107.3h0M401.4 172.6h0M363.4 122.0h0M375.5 160.0h0M344.9 122.3h0M388.9 154.5h0M341.5 128.7h0M389.4 148.6h0M402.8 171.2h0M362.4 171.7h0M333.8 149.5h0M400.6 118.8h0M388.6 134.1h0M333.3 138.7h0M389.9 136.1h0M335.8 124.9h0M364.8 158.1h0M337.9 148.3h0M353.1 141.9h0M399.4 165.7h0M334.7 158.0h0M368.7 140.8h0M398.7 158.8h0M335.0 150.7h0M395.7 118.4h0M366.2 107.5h0M384.8 122.8h0M374.3 142.2h0M390.8 133.2h0M334.7 135.1h0M398.7 139.8h0M340.9 131.7h0M346.7 139.2h0M394.2 176.6h0M384.2 160.8h0M356.4 164.1h0M375.7 139.3h0M376.3 120.3h0M331.0 144.8h0M390.8 126.9h0M388.2 123.4h0M360.6 141.6h0M372.4 137.7h0M347.7 165.5h0M380.9 121.0h0M397.3 176.4h0M347.4 155.9h0M361.6 137.2h0M400.5 117.2h0M346.3 120.7h0M344.0 174.3h0M341.2 148.3h0M376.3 168.1h0M383.6 145.8h0M396.0 153.7h0M384.1 106.8h0M356.7 115.9h0M345.3 168.4h0M366.4 150.1h0M337.1 147.8h0M353.0 172.0h0M366.3 131.2h0M336.8 132.0h0M383.1 122.7h0M397.7 161.2h0M332.8 117.0h0M360.9 124.9h0M384.3 107.9h0M341.5 160.4h0M383.2 153.6h0M372.0 167.0h0M394.9 159.0h0M384.5 166.5h0M383.5 164.2h0M389.3 167.2h0M392.1 145.9h0M399.7 137.8h0M337.2 129.4h0M394.8 124.9h0M353.9 121.2h0M345.3 142.7h0M359.3 126.2h0M368.7 139.2h0M357.7 106.6h0M390.2 156.4h0M347.1 120.5h0M348.1 171.6h0M345.9 133.2h0M362.0 121.7h0M339.4 138.0h0M368.0 161.3h0M361.5 126.7h0M370.9 155.0h0M390.9 113.8h0M390.4 119.7h0M368.9 119.3h0M372.8 133.5h0M330.8 106.0h0M340.2 141.0h0M331.3 159.2h0M371.1 152.0h0M333.1 172.0h0M402.4 150.1h0M389.9 139.4h0M346.7 114.0h0M377.3 141.7h0M387.0 144.0h0M347.2 170.5h0M380.5 150.9h0M345.5 114.5h0M400.7 173.1h0M366.3 140.9h0M366.5 127.1h0M388.0 171.6h0M365.1 135.8h0M336.3 112.5h0M358.7 128.7h0M366.4 153.5h0M402.2 122.1h0M381.2 164.2h0M361.7 159.2h0M340.0 114.3h0M393.7 165.1h0M353.9 143.4h0M354.9 170.7h0M376.1 133.9h0M377.8 132.5h0M372.2 166.6h0M334.5 107.8h0M402.0 168.9h0M387.1 168.4h0M397.9 119.8h0M400.0 170.0h0M343.9 175.0h0M367.0 137.9h0M372.5 159.6h0M336.4 117.3h0M371.2 141.0h0M379.3 127.7h0M401.8 170.3h0M348.7 129.3h0M399.6 172.2h0M400.0 133.8h0M378.2 106.6h0M389.6 160.5h0M367.6 156.6h0M338.2 107.9h0M385.9 149.3h0M369.7 122.7h0M393.2 136.4h0M372.6 124.5h0M336.3 154.8h0M394.9 110.2h0M367.0 156.5h0M395.8 130.0h0M342.2 174.1h0M391.8 167.0h0M367.2 156.7h0M377.6 163.0h0M362.9 175.7h0M339.5 119.9h0M393.8 121.7h0M383.8 136.8h0M358.9 110.6h0M368.1 150.3h0M331.3 173.9h0M369.6 119.4h0M384.4 149.1h0M374.2 117.7h0M366.3 122.0h0M343.1 162.4h0M393.8 121.4h0M402.2 110.5h0M385.8 132.7h0M352.2 118.2h0M402.6 150.4h0M396.7 140.7h0M375.6 171.6h0M376.6 127.2h0M394.3 160.7h0M371.8 155.6h0M364.7 145.3h0M392.7 164.6h0M338.8 167.2h0M374.3 147.7h0M391.1 148.5h0M384.6 121.3h0M355.9 136.2h0M375.5 163.9h0M380.9 155.8h0M340.2 142.3h0M381.2 120.1h0M331.9 129.1h0M358.0 106.0h0M371.2 163.3h0M352.9 147.1h0M397.8 127.8h0M336.9 152.3h0M372.7 116.8h0M348.7 148.4h0M376.7 156.4h0M342.2 160.6h0M385.8 164.9h0M335.5 150.0h0M363.4 122.7h0M369.7 126.9h0M331.7 123.3h0M400.6 108.1h0M355.3 153.8h0M388.2 111.2h0M336.6 130.9h0M350.6 120.3h0M336.5 133.2h0M379.3 164.1h0M394.1 123.1h0M369.0 164.9h0M388.1 139.4h0M383.0 133.0h0M402.9 151.9h0M360.1 119.1h0M354.8 137.4h0M396.5 146.2h0M352.6 110.8h0M358.2 168.7h0M353.3 107.4h0M337.8 162.6h0M386.4 148.3h0M339.4 145.5h0M392.8 168.6h0M398.3 141.1h0M399.4 134.8h0M381.3 156.1h0M367.2 157.0h0M362.7 146.5h0M365.0 128.1h0M387.9 134.3h0M390.6 159.8h0M350.5 143.0h0M342.2 129.2h0M344.3 171.6h0M334.8 142.7h0M380.6 154.4h0M332.0 163.7h0M377.6 160.8h0M350.8 153.6h0M381.8 151.8h0M402.9 166.7h0M369.3 163.3h0M360.2 133.4h0M391.3 143.0h0M396.9 161.1h0M352.5 159.5h0M370.9 162.4h0M391.3 128.2h0M344.9 134.9h0M376.2 136.1h0M388.4 161.2h0M393.7 155.5h0M382.0 162.3h0M370.0 127.5h0M331.7 126.7h0M381.9 146.0h0M337.5 157.2h0M374.6 132.8h0M348.8 166.5h0M333.5 106.6h0M345.0 108.5h0M371.6 108.4h0M390.9 144.5h0M375.6 130.9h0M354.1 116.4h0M332.6 146.9h0M359.3 162.4h0M365.7 106.0h0M344.3 139.4h0M382.1 161.6h0M370.1 170.5h0M380.5 174.1h0M348.1 129.3h0M392.6 107.4h0M372.3 173.4h0M366.1 141.5h0M357.9 171.8h0M400.9 136.9h0M376.4 167.4h0M402.3 121.7h0M385.7 126.6h0M383.0 143.1h0M389.0 154.4h0M333.4 160.5h0M364.5 110.0h0M369.7 134.1h0M374.6 119.1h0M354.4 127.1h0M344.4 164.9h0M369.5 133.2h0M393.7 132.2h0M361.8 159.8h0M360.7 109.4h0M340.1 109.1h0M402.1 158.8h0M338.5 174.2h0M394.8 150.7h0M343.9 110.2h0M358.2 126.8h0M345.2 142.7h0M391.8 124.9h0M385.1 149.1h0M396.7 136.8h0M342.6 110.0h0M375.4 109.2h0M362.9 162.0h0M360.8 151.4h0M338.7 127.9h0M382.8 106.2h0M398.4 174.9h0M388.5 165.9h0M400.3 167.0h0M338.7 165.6h0M333.8 114.4h0M393.8 152.5h0M346.8 171.6h0M363.5 153.2h0M371.6 136.0h0M339.9 159.3h0M344.1 148.7h0M369.8 108.2h0M362.9 118.1h0M331.6 127.7h0M391.9 147.6h0M340.1 161.8h0M332.7 144.9h0M398.0 126.7h0M346.2 158.3h0M345.9 156.7h0M366.7 150.5h0M347.0 107.6h0M330.8 165.7h0M365.1 166.2h0M349.9 139.0h0M376.1 168.6h0M372.4 117.6h0M350.0 126.7h0M336.7 167.6h0M380.1 134.7h0M378.9 161.2h0M367.6 129.0h0M381.0 153.5h0M362.5 157.8h0M347.7 134.6h0M336.5 150.9h0M375.8 139.1h0M355.9 129.7h0M332.3 175.2h0M375.1 133.8h0M337.1 133.8h0M402.0 135.0h0M359.3 150.6h0M339.6 152.1h0M379.7 163.5h0M391.2 111.2h0M391.0 112.2h0M393.1 128.1h0M334.2 158.1h0M361.7 154.5h0M379.7 141.0h0M357.0 126.2h0M361.0 147.2h0M383.5 133.6h0M394.6 120.4h0M393.7 121.4h0M350.9 144.1h0M362.4 124.2h0M383.4 121.0h0M381.0 165.6h0M381.3 152.7h0M386.2 158.7h0M390.5 123.6h0M352.5 149.8h0M400.9 168.2h0M363.2 114.4h0M362.9 128.7h0M377.7 172.3h0M358.0 140.0h0M352.8 122.0h0M393.0 163.1h0M372.3 150.3h0M342.0 164.8h0M370.4 113.5h0M348.8 154.7h0M344.7 147.0h0M395.5 148.6h0M387.3 113.0h0M354.7 141.5h0M366.9 142.6h0M350.9 168.0h0M331.3 106.1h0M389.9 156.8h0M370.2 122.2h0M374.2 172.5h0M351.7 155.1h0M393.8 143.3h0M385.0 118.3h0M356.3 127.6h0M375.1 123.2h0M349.6 120.3h0M367.1 174.3h0M376.9 107.6h0M331.7 123.8h0M361.6 170.4h0M339.2 170.4h0M340.2 171.4h0M389.2 120.4h0M365.0 173.4h0M341.5 126.0h0M373.3 106.8h0M388.4 105.7h0M402.2 126.1h0M372.8 130.2h0M366.8 108.6h0M335.2 155.4h0M339.3 154.6h0M337.8 117.0h0M354.6 175.1h0M395.4 128.4h0M388.8 130.1h0M342.9 145.3h0M400.3 117.6h0M394.9 160.8h0M383.0 172.6h0M365.9 124.3h0M369.9 156.2h0M375.8 142.7h0M391.3 140.7h0M361.4 151.5h0M391.4 146.8h0M376.5 155.5h0M357.0 140.9h0M331.4 136.6h0M380.6 138.7h0M333.9 167.8h0M350.7 163.7h0M361.8 146.9h0M349.8 149.8h0M343.7 117.7h0M357.9 175.0h0M360.2 149.5h0M347.6 125.3h0M348.4 159.3h0M352.0 171.2h0M401.0 106.0h0M371.4 159.9h0M334.9 160.0h0M384.3 137.5h0M337.5 163.5h0M361.3 139.5h0M394.6 121.4h0M343.7 128.6h0M389.2 111.0h0M383.9 113.5h0M380.4 128.8h0M366.6 110.6h0M385.5 161.5h0M337.9 165.4h0M401.5 120.4h0M335.2 147.3h0M339.8 120.8h0M395.3 157.8h0M357.9 167.1h0M346.2 112.0h0M383.2 157.4h0M357.5 148.1h0M360.8 145.0h0M374.0 120.1h0M333.0 115.8h0M348.7 141.1h0M396.2 107.2h0M400.8 162.2h0M382.1 138.6h0M356.3 120.7h0M376.9 161.1h0M363.9 158.3h0M357.8 152.6h0M388.7 176.8h0M338.0 161.8h0M340.8 124.0h0M359.6 160.1h0M385.9 114.7h0M365.6 145.8h0M361.7 121.3h0M335.5 124.2h0M399.5 139.9h0M367.8 155.9h0M379.7 141.4h0M360.7 169.5h0M351.7 121.5h0M381.6 121.7h0M370.8 106.9h0M379.2 146.8h0M345.8 132.2h0M367.5 120.3h0M389.2 127.9h0M341.4 161.3h0M392.6 144.9h0M363.9 107.2h0M394.7 138.3h0M400.2 148.6h0M351.8 169.8h0M350.7 175.6h0M333.1 134.4h0M335.2 110.5h0M367.2 116.1h0M344.2 170.6h0M339.7 156.5h0M375.3 121.9h0M344.3 144.3h0M335.2 133.6h0M391.4 108.0h0M388.0 110.7h0M368.5 143.8h0M344.3 126.0h0M351.2 120.0h0M345.6 136.9h0M349.4 138.0h0M387.4 119.6h0M391.9 172.1h0M335.0 148.7h0M389.8 111.9h0M337.7 121.7h0M384.1 129.7h0M332.7 150.2h0M333.3 125.5h0M335.5 137.3h0M373.4 110.8h0M359.8 165.7h0M375.7 126.2h0M337.7 165.8h0M347.0 112.6h0M398.4 135.8h0M367.8 139.1h0M371.9 174.6h0M351.2 174.1h0M353.1 168.4h0M395.2 139.3h0M378.3 120.8h0M333.0 125.7h0M356.7 122.4h0M396.1 150.0h0M381.2 140.8h0M384.5 107.9h0M371.0 140.1h0M339.7 136.7h0M337.7 116.8h0M356.5 174.6h0M374.9 112.7h0" stroke="#f0bcb8" stroke-width="1.6" stroke-linecap="round"/>
<path d="M390.5 120.7h0M398.9 140.8h0M359.4 149.6h0M342.8 119.3h0M361.1 121.9h0M379.2 135.2h0M358.4 125.3h0M346.6 156.7h0M396.0 130.5h0M388.8 127.8h0M385.7 122.5h0M371.8 134.6h0M393.7 159.9h0M338.4 112.5h0M363.9 120.8h0M347.8 173.5h0M398.7 106.7h0M332.2 150.3h0M399.3 169.0h0M380.8 158.3h0M365.6 140.5h0M392.7 113.1h0M380.0 156.9h0M341.8 160.5h0M342.8 174.7h0M385.9 138.0h0M372.9 175.1h0M357.2 120.0h0M380.5 170.0h0M341.9 160.1h0M358.7 154.6h0M365.1 173.4h0M372.3 174.6h0M400.4 114.7h0M398.6 159.7h0M341.0 146.8h0M350.2 108.8h0M334.7 131.4h0M393.9 110.6h0M373.0 167.9h0M356.9 156.8h0M373.6 159.9h0M365.5 175.6h0M359.5 120.6h0M339.4 123.8h0M339.1 172.7h0M340.2 165.5h0M386.4 139.0h0M334.2 119.9h0M398.4 135.1h0M387.2 114.4h0M334.0 131.2h0M356.0 120.1h0M377.0 146.7h0M371.2 128.0h0M360.3 124.7h0M370.6 133.2h0M377.7 174.3h0M354.0 147.8h0M337.5 164.8h0M369.1 147.9h0M371.2 113.7h0M394.2 106.3h0M344.5 140.1h0M397.5 155.4h0M396.0 129.8h0M370.5 148.4h0M347.5 112.1h0M355.2 111.7h0M331.1 118.1h0M392.9 149.3h0M384.9 146.5h0M365.5 169.0h0M355.5 124.1h0M351.5 110.7h0M331.9 124.9h0M376.5 119.5h0M365.1 126.1h0M385.1 122.5h0M363.2 158.9h0M382.7 169.6h0M331.7 138.9h0M344.4 169.2h0M348.6 163.0h0M368.0 160.4h0M388.3 167.1h0M394.9 134.4h0M379.4 171.1h0M388.4 137.1h0M390.6 161.4h0M362.7 137.1h0M362.3 172.5h0M347.2 173.8h0M340.5 123.7h0M384.1 156.1h0M352.7 126.8h0M371.6 159.7h0M358.4 139.0h0M361.7 164.8h0M396.1 150.4h0M348.9 135.7h0M360.8 150.1h0M353.4 149.0h0M368.6 144.2h0M400.7 135.2h0M348.9 105.9h0M331.2 154.6h0M395.3 153.0h0M345.7 107.7h0M363.1 110.4h0M336.0 150.7h0M341.7 140.0h0M391.9 140.3h0M358.4 141.8h0M397.1 118.4h0M382.2 122.2h0M375.1 108.0h0M334.1 120.3h0M382.2 122.3h0M383.2 127.5h0M392.2 169.5h0M384.8 120.2h0M335.1 138.1h0M350.0 107.1h0M383.3 164.7h0M392.1 170.5h0M372.2 142.0h0M402.4 132.8h0M385.9 126.0h0M398.8 149.6h0M402.9 166.3h0M375.4 141.9h0M342.5 119.8h0M336.1 149.0h0M346.0 106.7h0M373.5 153.1h0M336.7 122.9h0M395.0 155.2h0M387.6 123.6h0M334.0 152.6h0M372.1 147.4h0M334.9 149.9h0M391.5 140.1h0M368.0 117.1h0M358.0 120.7h0M335.7 174.6h0M350.7 114.2h0M372.7 119.3h0M389.7 120.4h0M355.0 126.4h0M333.6 163.2h0M373.8 149.4h0M399.9 114.0h0M388.6 127.1h0M394.6 174.7h0M359.8 165.7h0M359.2 112.7h0M361.0 150.2h0M367.7 139.3h0M338.3 150.0h0M382.1 149.8h0M347.0 156.5h0M387.6 128.8h0M352.6 136.2h0M372.9 173.7h0M386.3 106.2h0M351.0 147.5h0M398.0 151.8h0M391.4 118.4h0M349.2 127.4h0M338.1 156.8h0M376.3 155.0h0M381.4 154.8h0M333.0 143.0h0M370.0 121.9h0M348.2 166.0h0M336.4 106.8h0M394.1 168.8h0M360.0 132.8h0M389.2 149.9h0M362.1 131.8h0M375.5 138.2h0M349.4 176.9h0M369.6 130.4h0M381.8 119.3h0M347.1 139.8h0M333.0 135.5h0M336.6 158.7h0M372.9 165.8h0M341.5 115.2h0M373.5 148.6h0M353.3 109.5h0M366.0 175.8h0M385.3 112.8h0M379.0 159.9h0M350.9 112.3h0M386.0 107.3h0M371.1 108.0h0M393.6 126.9h0M371.7 152.7h0M373.2 154.3h0M340.9 110.9h0M383.1 108.4h0M339.6 143.5h0M386.2 112.8h0M353.0 106.7h0M387.5 117.4h0M362.6 129.2h0M335.2 172.2h0M340.7 107.1h0M376.7 108.6h0M352.3 130.8h0M355.8 170.6h0M395.1 150.4h0M370.7 150.5h0M396.6 131.5h0M359.2 156.7h0M359.2 131.8h0M381.5 147.6h0M340.2 127.9h0M343.4 141.2h0M394.5 150.1h0M371.7 109.5h0M355.4 170.4h0M377.2 166.5h0M345.2 108.8h0M335.1 125.1h0M356.9 136.8h0M353.3 165.0h0M375.9 151.7h0M333.7 176.4h0M367.1 130.2h0M382.5 171.7h0M350.5 146.4h0M377.1 126.9h0M343.0 117.3h0M345.4 175.4h0M381.9 131.3h0M401.7 127.6h0M387.3 144.5h0M336.4 170.1h0M331.4 170.1h0M357.5 150.5h0M330.8 129.7h0M393.7 170.3h0M385.4 149.2h0M371.2 112.6h0M371.6 163.1h0M395.1 110.7h0M378.0 110.0h0M339.7 155.6h0M352.8 139.3h0M399.2 163.1h0M392.5 160.6h0M391.3 131.9h0M364.6 124.7h0M399.5 157.2h0M330.8 125.0h0M378.4 107.8h0M389.5 107.3h0M384.3 126.2h0M369.7 118.2h0M358.6 145.5h0M361.7 162.9h0M364.7 150.4h0M381.3 149.2h0M388.2 105.7h0M331.5 163.3h0M371.5 139.7h0M393.1 167.1h0M346.4 142.5h0M355.4 130.6h0M345.5 139.3h0M366.5 146.6h0M374.7 159.2h0M339.9 112.3h0M342.6 175.5h0M383.1 156.5h0M386.1 114.3h0M402.8 157.0h0M338.9 114.2h0M399.7 151.7h0M367.0 128.5h0M362.2 147.4h0M386.9 135.4h0M399.8 159.2h0M332.7 162.3h0M371.8 140.6h0M344.5 115.1h0M348.7 112.7h0M363.2 173.4h0M389.8 122.2h0M373.1 110.8h0M369.3 134.0h0M351.0 110.0h0M390.6 130.2h0M397.5 159.1h0M344.1 145.9h0M381.8 138.2h0M369.7 126.9h0M400.1 115.1h0M362.7 114.2h0M378.8 160.1h0M335.2 165.7h0M400.6 122.1h0M348.8 105.6h0M356.4 149.8h0M345.6 110.3h0M383.0 121.8h0M402.6 157.4h0M358.0 163.1h0M361.0 152.9h0M351.8 138.2h0M378.4 160.6h0M364.8 164.9h0M355.0 171.3h0M384.2 174.1h0M397.3 166.2h0M389.2 130.3h0M397.3 106.6h0M395.0 128.9h0M336.7 157.8h0M333.0 149.3h0M396.0 176.8h0M351.4 124.2h0M333.4 136.3h0M390.4 121.8h0M342.3 172.5h0M341.6 131.0h0M400.6 116.1h0M353.0 154.0h0M337.8 160.9h0M388.1 122.4h0M352.1 164.3h0M400.5 174.8h0M353.3 115.3h0M367.7 130.3h0M379.6 154.6h0M378.1 129.9h0M379.4 105.8h0M356.1 172.1h0M377.3 135.3h0M335.2 133.1h0M374.2 110.1h0M346.6 151.3h0M346.2 173.4h0M336.5 156.3h0M338.2 175.3h0M395.4 120.4h0M396.1 156.3h0M386.5 127.9h0M339.2 149.6h0M373.8 114.0h0M395.4 141.6h0M340.0 153.5h0M381.2 166.8h0M354.3 106.7h0M357.3 170.5h0M365.7 163.9h0M339.7 112.6h0M388.3 161.7h0M365.1 121.1h0M348.1 166.8h0M355.8 152.9h0M375.3 173.1h0M372.3 118.7h0M357.5 129.6h0M371.5 176.8h0M372.2 143.5h0M378.9 149.5h0M372.2 167.4h0M386.1 143.0h0M356.2 130.3h0M350.7 132.2h0M384.9 138.8h0M337.5 161.0h0M392.4 149.5h0M339.6 174.6h0M375.5 139.3h0M363.7 119.5h0" stroke="#e48a74" stroke-width="1.3" stroke-linecap="round"/>
<path d="M365.4 153.1h0M375.5 155.5h0M396.0 159.2h0M342.3 121.2h0M363.5 133.3h0M400.4 157.6h0M364.5 130.6h0M347.0 148.6h0M397.6 117.4h0M363.3 130.1h0M374.7 123.6h0M335.2 153.8h0M352.8 151.7h0M396.4 147.1h0M396.7 162.9h0M335.1 123.0h0M378.6 139.6h0M330.8 164.2h0M377.7 136.5h0M368.4 117.6h0M370.4 115.6h0M378.7 172.8h0M346.2 124.4h0M372.3 168.1h0M342.8 133.4h0M374.4 117.2h0M335.5 158.9h0M375.7 146.9h0M370.1 112.8h0M365.4 140.3h0M367.9 117.1h0M335.4 142.3h0M381.0 153.2h0M398.5 132.0h0M358.9 129.1h0M367.2 153.3h0M393.2 112.0h0M372.3 160.3h0M384.9 136.2h0M335.7 128.5h0M373.8 161.1h0M346.3 128.7h0M357.2 109.1h0M401.1 130.6h0M362.5 174.8h0M387.3 125.1h0M398.8 164.5h0M371.5 137.1h0M392.1 171.4h0M379.2 128.4h0M393.8 152.6h0M398.0 163.8h0M380.7 169.5h0M362.5 148.8h0M384.8 136.9h0M339.9 164.7h0M369.5 138.0h0M369.3 126.2h0M391.7 125.9h0M348.3 150.4h0M366.0 127.8h0M336.5 137.1h0M360.5 144.7h0M377.4 125.1h0M335.3 109.8h0M370.5 172.4h0M384.2 171.9h0M341.5 120.2h0M382.4 134.6h0M361.0 165.0h0M336.4 172.8h0M344.1 147.4h0M378.1 145.5h0M381.8 127.3h0M347.2 152.7h0M399.2 109.9h0M338.1 176.2h0M334.3 114.7h0M367.1 128.5h0M381.6 138.7h0M388.3 113.3h0M346.5 119.2h0M388.7 176.9h0M357.9 121.4h0M335.8 118.5h0M401.9 173.5h0M397.6 118.3h0M336.0 176.5h0M383.0 168.6h0M395.5 167.8h0M331.4 167.8h0M371.8 175.7h0M344.8 133.5h0M339.6 160.1h0M373.3 167.4h0M371.0 161.9h0M357.1 109.8h0M335.6 110.5h0M332.5 157.9h0M383.5 176.1h0M387.5 119.6h0M343.4 131.5h0M355.3 114.9h0M386.5 157.3h0M361.0 146.3h0M374.1 145.9h0M374.7 150.5h0M402.0 127.0h0M336.5 115.2h0M374.2 140.1h0M398.0 144.4h0M396.5 165.5h0M356.2 122.3h0M379.1 135.0h0M341.9 108.7h0M390.7 175.4h0M383.5 114.3h0M331.5 149.6h0M359.4 172.1h0M363.5 155.1h0M332.8 108.5h0M385.3 150.0h0M394.8 132.0h0M370.7 139.3h0M386.4 148.8h0M391.9 116.2h0M377.7 132.0h0M387.7 134.8h0M342.1 106.3h0M367.1 114.6h0M385.6 168.5h0M354.1 159.1h0M379.4 144.7h0M336.6 175.1h0M353.0 110.4h0M386.2 173.9h0M389.0 152.9h0M354.4 175.0h0M364.8 156.9h0M387.6 134.1h0M402.2 134.6h0M380.2 120.9h0M347.9 140.4h0M341.2 155.0h0M344.2 128.0h0M395.8 167.3h0M398.8 160.8h0M354.1 128.9h0M387.2 145.0h0M397.5 171.5h0M362.5 116.6h0M394.8 163.5h0M368.5 151.0h0M379.1 141.6h0M351.7 133.8h0M395.3 167.8h0M396.4 171.9h0M366.4 130.0h0M393.5 105.5h0M393.0 108.3h0" stroke="#cc5848" stroke-width="1.2" stroke-linecap="round"/>
<path d="M332.7 167.5h0M382.9 106.7h0M370.4 122.5h0M394.5 166.5h0M352.4 148.3h0M366.4 125.6h0M361.9 133.7h0M364.4 173.6h0M383.6 108.1h0M356.1 174.7h0M385.7 148.8h0M377.4 154.4h0M342.4 134.5h0M350.7 119.1h0M380.5 107.9h0M343.5 156.2h0M395.4 127.1h0M392.4 165.0h0M341.7 170.9h0M342.7 139.2h0M336.6 112.2h0M378.7 165.5h0M338.6 128.8h0M374.9 147.9h0M340.6 155.1h0M338.1 172.2h0M378.9 152.9h0M397.5 122.3h0M345.1 150.2h0M395.4 172.1h0M388.2 148.5h0M356.6 161.8h0M376.7 168.3h0M385.4 140.5h0M377.5 120.0h0M351.1 160.2h0M381.7 107.4h0M345.4 135.4h0M372.0 130.6h0M357.7 173.1h0M358.5 137.2h0M398.6 128.8h0M368.8 117.4h0M392.2 164.3h0M347.7 150.1h0M348.0 165.4h0M366.5 125.9h0M401.0 140.0h0M371.4 174.5h0M351.7 137.9h0M396.3 130.9h0M392.7 149.8h0M399.7 147.1h0M395.0 140.3h0M346.8 130.2h0M366.1 149.4h0M363.7 131.4h0M349.9 141.8h0M380.6 151.0h0M333.1 123.8h0M379.6 140.2h0M351.7 147.4h0M333.6 141.8h0M398.6 130.8h0M341.8 154.6h0M374.5 129.1h0M348.4 105.6h0M337.6 162.3h0M360.6 166.4h0M400.8 158.2h0M356.3 113.6h0M396.5 117.6h0M340.7 135.5h0M350.2 125.3h0M343.2 109.1h0M332.5 171.8h0M337.5 136.0h0M377.0 146.1h0M393.9 174.2h0M374.4 136.2h0M376.8 130.9h0M343.3 139.9h0M367.3 122.8h0M363.4 132.0h0M336.2 174.3h0M369.1 146.0h0M336.7 127.4h0M333.7 168.3h0M377.3 141.3h0M381.0 136.8h0M368.2 176.7h0M338.5 153.5h0M360.5 119.3h0M342.8 146.9h0M336.6 163.6h0M360.9 127.1h0M362.0 134.8h0M362.7 127.2h0M359.9 124.0h0M385.1 147.4h0M356.3 129.4h0M355.2 174.9h0M379.0 172.5h0M395.2 157.2h0M375.1 128.9h0M374.4 113.4h0M364.8 155.6h0M367.2 141.1h0M378.1 147.3h0M371.3 145.9h0M358.8 144.7h0M330.5 149.1h0M346.7 153.0h0M335.6 144.4h0M352.2 139.1h0M391.8 157.5h0M391.2 146.3h0M394.3 176.1h0M393.9 121.1h0M339.4 129.0h0M370.6 121.7h0M402.6 142.4h0M400.7 114.6h0M331.6 142.1h0M389.6 125.9h0M400.7 113.9h0M398.1 176.7h0M383.0 152.6h0M378.6 124.3h0M331.2 153.5h0M383.9 131.5h0M357.0 111.5h0M335.4 160.7h0M359.7 157.0h0M394.7 107.5h0M331.9 171.5h0M346.2 119.8h0M367.0 158.4h0M372.1 166.1h0M401.3 110.7h0" stroke="#dccfe6" stroke-width="1.2" stroke-linecap="round"/>
<rect x="414.6" y="104.8" width="73.20" height="72.80" fill="#a85828"/>
<path d="M452.3 119.2h0M422.1 161.9h0M433.5 128.6h0M482.6 155.8h0M424.8 126.1h0M451.4 141.8h0M430.5 168.0h0M422.4 167.2h0M446.7 133.0h0M475.0 155.9h0M417.8 131.2h0M471.0 148.8h0M445.6 146.6h0M434.0 154.6h0M486.3 132.6h0M455.0 144.2h0M439.1 143.1h0M426.6 165.7h0M421.4 151.4h0M422.7 174.9h0M479.7 174.8h0M423.3 165.0h0M441.5 121.6h0M430.4 163.3h0M459.0 158.6h0M428.5 158.3h0M445.3 118.9h0M447.5 153.7h0M416.7 138.4h0M468.8 155.6h0M421.4 153.9h0M469.9 162.0h0M436.4 145.4h0M427.5 156.7h0M433.2 115.3h0M466.2 159.3h0M431.5 163.7h0M443.3 111.5h0M442.7 163.4h0M435.3 148.7h0M473.5 129.4h0M443.3 147.0h0M435.2 144.3h0M431.3 127.8h0M472.2 115.3h0M479.8 143.0h0M454.3 174.8h0M471.7 164.0h0M478.4 108.4h0M446.0 145.4h0M443.8 175.6h0M467.0 148.1h0M435.7 156.5h0M445.4 153.7h0M454.5 108.9h0M421.0 141.5h0M471.3 156.1h0M416.4 139.9h0M427.3 175.6h0M451.9 176.1h0M468.4 115.7h0M437.9 159.4h0M465.0 170.1h0M470.6 121.4h0M462.7 118.1h0M449.4 136.9h0M422.6 167.3h0M419.9 109.7h0M443.5 136.4h0M435.2 136.8h0M440.1 161.6h0M484.0 167.4h0M436.5 155.9h0M424.2 121.7h0M445.0 149.2h0M461.2 124.2h0M420.1 150.9h0M450.1 133.1h0M465.7 164.5h0M448.3 139.9h0M421.7 122.8h0M439.3 171.0h0M437.3 147.2h0M437.5 145.1h0M465.9 169.7h0M474.0 148.2h0M442.2 131.0h0M437.4 144.2h0M429.9 154.2h0M457.4 113.4h0M445.4 174.4h0M435.6 158.8h0M459.9 175.1h0M423.4 118.7h0M419.9 159.9h0M426.5 169.4h0M429.9 163.3h0M481.4 171.2h0M476.9 107.5h0M437.2 134.6h0M455.3 137.0h0M486.2 111.2h0M422.9 146.3h0M418.4 144.6h0M484.4 124.5h0M442.6 138.3h0M470.0 170.3h0M464.3 143.0h0M478.8 121.0h0M483.9 176.0h0M482.5 162.7h0M420.2 107.7h0M463.6 106.1h0M421.7 171.2h0M464.2 107.5h0M437.8 138.3h0M416.3 111.2h0M424.0 126.4h0M423.7 137.3h0M419.0 160.3h0M483.2 128.0h0M458.3 162.4h0M417.9 163.9h0M483.6 169.8h0M484.5 113.2h0M445.8 106.0h0M455.8 128.0h0M418.1 143.3h0M466.9 172.8h0M476.1 117.4h0M440.0 160.6h0M425.5 125.7h0M470.6 171.9h0M443.1 123.2h0M431.0 147.4h0M452.9 146.8h0M421.4 120.7h0M469.4 122.9h0M461.1 116.9h0M476.9 133.2h0M419.9 106.8h0M445.2 106.2h0M423.8 108.7h0M451.1 112.0h0M436.8 130.6h0M473.6 107.1h0M481.9 157.8h0M425.8 136.9h0M420.2 124.8h0M463.7 124.6h0M454.4 128.2h0M431.0 131.3h0M422.0 117.5h0M439.7 120.1h0M471.9 132.1h0M445.2 108.4h0M461.2 151.6h0M482.0 118.8h0M435.2 165.1h0M458.9 137.0h0M461.6 122.0h0M462.1 108.8h0M446.9 136.6h0M430.1 151.8h0M431.1 141.6h0M416.9 142.8h0M485.5 155.7h0M421.3 125.5h0M453.2 120.8h0M459.4 150.2h0M451.1 126.0h0M422.8 173.4h0M471.5 126.6h0M451.4 122.1h0M481.6 150.3h0M440.9 116.7h0M456.9 133.1h0M479.8 166.3h0M441.7 174.4h0M439.0 142.0h0M425.9 151.1h0M434.5 129.9h0M448.0 154.4h0M416.5 174.7h0M473.6 126.2h0M426.9 135.3h0M424.0 161.7h0M437.6 162.7h0M467.5 172.4h0M451.0 109.4h0M420.7 133.0h0M441.1 135.1h0M481.5 115.2h0M447.0 169.6h0M458.1 174.5h0M463.4 148.6h0M484.9 141.9h0M481.9 159.7h0M469.4 105.9h0M420.9 131.3h0M452.8 159.3h0M456.8 121.0h0M477.5 129.8h0M470.1 121.4h0M479.3 106.0h0M466.5 132.2h0M436.1 107.6h0M421.4 149.5h0M474.6 131.8h0M446.4 133.7h0M427.2 163.5h0M469.6 173.0h0M416.6 140.3h0M424.1 118.5h0M478.2 109.9h0M424.8 137.8h0M455.9 134.3h0M467.3 127.1h0M465.1 170.9h0M457.6 111.3h0M484.4 152.7h0M483.7 114.8h0M455.0 151.5h0M449.8 127.1h0M486.0 137.6h0M444.9 127.5h0M424.0 111.6h0M485.6 165.3h0M474.5 170.2h0M436.3 163.6h0M459.6 162.4h0M433.3 148.5h0M441.3 134.0h0M428.7 175.3h0M482.9 135.2h0M464.8 119.3h0M429.5 146.0h0M459.9 134.4h0M476.1 145.0h0M428.9 128.1h0M461.9 146.1h0M486.5 136.2h0M481.6 172.5h0M439.5 115.4h0M456.5 111.8h0M431.1 171.0h0M463.8 155.9h0M426.4 149.6h0M454.7 166.0h0M476.5 134.7h0M427.8 126.4h0M466.8 169.9h0M454.4 107.1h0M441.5 165.5h0M426.4 107.5h0M485.5 158.5h0M475.0 159.1h0M416.0 147.6h0M463.5 152.8h0M436.6 167.9h0M430.2 135.7h0M431.5 133.1h0M437.2 127.0h0M456.8 140.9h0M480.0 133.1h0M439.0 148.7h0M476.2 171.5h0M479.6 114.9h0M464.9 164.0h0M436.4 135.7h0M480.6 166.7h0M450.7 166.9h0M457.6 116.2h0M439.0 137.6h0M451.6 165.7h0M418.0 128.2h0M434.0 121.9h0M465.5 170.0h0M441.6 142.1h0M470.8 168.8h0M447.7 113.4h0M458.0 108.5h0M458.1 140.7h0M435.5 141.3h0M436.9 152.9h0M481.0 106.7h0M431.2 139.9h0M471.6 138.6h0M418.6 115.7h0M464.4 135.6h0M469.3 153.6h0M485.4 152.2h0M438.1 131.7h0M465.3 176.0h0M417.0 123.4h0M421.7 126.4h0M445.0 138.6h0M471.7 136.7h0M427.7 126.3h0M480.3 110.6h0M427.3 150.2h0M430.3 171.0h0M433.6 152.3h0M420.6 133.8h0M447.5 113.9h0M454.5 174.5h0M415.7 116.4h0M454.6 141.5h0M464.6 174.9h0M456.7 140.5h0M442.8 144.8h0M433.9 166.6h0M465.3 145.4h0M479.6 155.5h0M454.2 107.8h0M475.4 159.7h0M446.6 174.2h0M453.1 117.1h0M449.3 159.7h0M475.2 129.1h0M442.6 110.9h0M417.0 176.5h0M420.4 141.4h0M468.2 167.1h0M449.1 107.0h0M470.7 110.5h0M419.1 167.3h0M417.8 119.2h0M434.6 157.6h0M466.1 156.7h0M469.5 110.9h0M425.6 146.2h0M449.5 172.1h0M417.1 143.4h0M472.4 160.5h0M479.1 155.0h0M431.8 166.1h0M422.2 148.6h0M483.4 120.0h0M446.2 149.6h0M440.8 113.5h0M459.8 166.0h0M459.0 169.2h0M481.9 173.0h0M431.5 136.0h0M453.0 112.5h0M444.8 118.2h0M481.0 165.3h0M433.6 144.2h0M455.5 171.1h0M436.6 143.1h0M444.4 174.5h0M437.6 136.9h0M432.0 109.1h0M474.1 141.4h0M458.7 147.4h0M430.1 137.0h0M442.9 172.5h0M472.8 128.2h0M423.1 175.8h0M471.2 158.0h0M451.8 174.4h0M459.3 170.2h0M450.0 137.2h0M420.5 132.6h0M441.4 155.3h0M420.3 148.5h0M434.4 138.4h0M479.2 159.6h0M446.5 113.1h0M470.5 129.9h0M454.8 113.7h0M416.1 134.4h0M454.5 110.2h0M462.0 146.3h0M423.4 159.0h0M453.2 108.1h0M471.0 173.5h0M474.7 113.4h0M478.7 158.0h0M478.8 116.7h0M469.9 168.6h0M439.2 111.4h0M421.1 145.9h0M465.6 163.7h0M457.9 143.2h0M444.0 175.5h0M462.7 148.8h0M442.8 141.5h0M437.3 127.2h0M485.9 108.8h0M482.7 166.4h0M466.0 122.1h0M475.6 173.1h0M486.0 141.2h0M425.5 108.8h0M419.1 141.2h0M483.7 173.5h0M464.8 160.7h0M428.1 159.2h0M480.1 174.2h0M421.6 130.7h0M464.4 117.2h0M419.6 126.5h0M449.9 166.2h0M434.5 120.5h0M475.2 153.2h0M435.2 172.5h0M417.2 113.3h0M445.5 151.8h0M434.8 145.1h0M463.7 106.4h0M418.0 169.5h0M463.0 145.6h0M462.9 171.8h0M481.8 167.4h0M443.7 115.4h0M478.0 159.2h0M483.2 149.9h0M452.7 142.4h0M483.0 107.4h0M446.6 111.7h0M485.4 116.1h0M472.4 153.4h0M474.6 115.2h0M458.4 114.4h0M485.0 156.6h0M481.4 167.8h0M421.4 124.3h0M430.9 109.6h0M420.3 146.1h0M444.2 116.6h0M418.4 158.4h0M456.4 157.4h0M465.0 132.1h0M436.1 174.1h0M448.6 131.2h0M454.4 137.1h0M472.0 110.6h0M442.9 146.5h0M485.3 154.1h0M421.6 170.9h0M428.3 107.4h0M464.6 143.8h0M465.2 119.9h0M440.9 165.5h0M479.2 167.3h0M432.3 145.4h0M430.2 110.3h0M475.7 108.5h0M460.7 127.8h0M435.9 175.3h0M417.1 173.0h0M434.9 167.2h0M429.1 167.4h0M482.9 150.7h0M438.4 123.5h0M437.7 152.0h0M425.2 108.8h0M418.1 149.5h0M426.9 173.2h0M458.6 173.8h0M415.7 136.3h0M445.2 131.9h0M448.1 131.0h0M435.4 160.0h0M449.3 111.4h0M459.2 128.1h0M441.7 163.4h0M463.4 127.5h0M475.7 122.6h0M420.8 108.3h0M419.9 143.3h0M427.3 144.7h0M441.6 113.9h0M437.0 131.5h0M462.1 162.6h0M424.5 123.1h0M440.5 147.8h0M481.0 151.3h0M479.4 145.3h0M478.8 161.8h0M439.3 129.9h0M474.5 106.3h0M417.5 151.2h0M423.8 109.5h0M437.5 171.1h0M436.7 119.3h0M451.5 112.7h0M427.2 156.1h0M486.6 153.3h0M423.1 131.4h0M439.4 106.6h0M420.6 146.8h0M470.4 155.2h0M418.2 168.7h0M470.9 169.8h0M418.0 167.0h0M439.5 171.2h0M475.4 107.8h0M430.2 175.9h0M442.6 139.2h0M424.5 133.1h0M461.3 142.9h0M416.2 130.5h0M437.0 136.4h0M427.8 118.6h0M428.8 173.9h0M458.7 167.4h0M449.5 154.5h0M424.7 132.2h0M447.9 162.6h0M443.5 157.3h0M434.5 125.4h0M421.8 173.6h0M451.2 125.7h0M467.6 136.0h0M432.4 133.2h0M443.9 111.1h0M428.4 105.9h0M427.6 142.7h0M448.0 171.9h0M476.5 117.9h0M415.8 159.3h0M421.4 133.0h0M481.7 170.8h0M426.4 142.0h0M452.6 173.4h0M418.2 147.4h0M435.6 138.0h0M466.9 117.5h0M456.2 157.8h0M447.1 173.1h0M471.8 115.6h0M418.4 131.0h0M464.6 161.4h0M448.0 133.9h0M427.0 135.6h0M485.1 127.8h0M422.4 116.3h0M444.3 109.9h0M425.0 125.7h0M486.2 145.7h0M485.8 138.6h0M452.2 174.7h0M480.5 142.3h0M448.5 114.7h0M423.2 114.7h0M423.3 118.2h0M417.8 158.0h0M480.0 127.2h0M473.3 153.7h0M442.1 162.7h0M463.4 154.5h0M455.0 121.4h0M470.5 171.6h0M456.6 120.9h0M434.8 167.7h0M453.3 173.0h0M452.2 122.8h0M479.3 108.3h0M477.0 159.2h0M456.1 160.9h0M430.5 128.2h0M453.9 135.8h0M432.5 111.2h0M418.9 119.2h0M434.3 115.5h0M429.1 120.9h0M419.2 108.4h0M454.5 146.4h0M464.4 121.1h0M420.2 130.6h0M473.9 111.9h0M469.5 136.7h0M466.1 156.2h0M459.4 161.2h0M469.2 122.7h0M426.2 106.4h0M445.9 132.3h0M422.1 161.7h0M447.6 156.2h0M472.1 167.2h0M435.6 161.3h0M486.6 138.3h0M463.3 114.9h0M435.1 138.9h0M461.3 152.6h0M440.1 122.1h0M454.9 174.7h0M454.7 170.0h0M467.2 138.4h0M483.9 134.9h0M484.9 106.0h0M446.5 114.3h0M432.1 143.2h0M430.0 108.0h0M460.8 151.2h0M461.1 132.0h0M421.4 167.6h0M423.7 163.2h0M462.9 109.1h0M419.9 133.2h0M448.9 159.0h0M447.8 173.8h0M446.5 112.8h0M486.7 172.0h0M443.9 135.0h0M454.4 153.4h0M420.7 157.3h0M464.3 150.0h0M453.9 138.4h0M462.8 149.5h0M461.4 150.0h0M462.2 166.2h0M472.2 134.5h0M453.9 155.9h0M458.8 134.4h0M422.8 114.6h0M475.3 145.7h0M484.4 127.8h0M477.0 112.9h0M420.3 153.2h0M426.7 175.6h0M442.3 130.3h0M417.8 175.9h0M438.3 135.9h0M438.3 169.6h0M426.0 155.8h0M481.4 153.1h0M436.9 156.8h0M475.5 112.6h0M417.2 132.2h0M451.2 163.7h0M456.7 172.6h0M453.0 167.9h0M427.5 113.6h0M450.8 117.5h0M465.1 122.1h0M483.6 167.7h0M435.0 153.2h0M468.3 133.6h0M434.9 126.6h0M460.2 128.9h0M442.8 111.3h0M457.9 163.6h0M457.9 145.6h0M446.3 110.3h0M441.2 170.0h0M424.1 130.2h0M460.0 176.4h0M447.0 123.0h0M472.4 111.9h0M437.1 158.6h0M469.0 124.8h0M439.3 118.9h0M438.0 166.7h0M429.2 174.4h0M426.8 167.5h0M449.7 115.4h0M443.5 168.2h0M467.8 134.9h0M423.9 139.7h0M457.4 107.1h0M432.6 168.1h0M483.0 172.4h0M481.7 135.2h0M453.7 109.4h0M447.0 106.2h0M427.3 118.5h0M462.3 149.3h0M454.5 117.5h0M473.6 147.5h0M433.7 136.1h0M439.8 139.1h0M416.6 169.5h0M432.8 167.8h0M480.8 150.3h0M473.3 127.9h0M472.3 138.9h0M461.2 150.2h0M460.5 161.4h0M463.3 135.3h0M434.8 139.9h0M422.8 158.6h0M441.7 156.3h0M420.7 129.9h0M445.9 112.4h0M435.6 122.4h0M477.9 108.3h0M455.9 116.0h0M484.5 115.6h0M436.2 138.0h0M471.5 164.3h0M450.4 138.4h0M443.2 141.8h0M444.7 149.7h0M437.9 119.7h0M425.8 116.9h0M426.0 113.4h0M465.6 174.6h0M425.1 136.8h0M450.9 148.5h0M466.2 116.4h0M449.9 145.2h0M424.3 107.3h0M415.8 110.1h0M421.3 136.6h0M475.2 160.3h0M431.5 170.5h0M438.2 158.6h0M428.6 139.0h0M454.1 147.7h0M448.7 168.3h0M433.0 175.5h0M465.6 142.3h0M442.2 172.0h0M424.0 113.9h0M460.1 165.3h0M423.5 133.5h0M484.5 154.2h0M418.5 164.1h0M430.6 171.1h0M423.3 138.3h0M461.7 159.6h0M481.6 166.0h0M416.6 159.3h0M464.4 147.9h0M462.1 176.3h0M426.8 125.5h0M482.5 165.5h0M477.8 174.4h0M416.4 167.8h0M469.3 123.0h0M438.3 107.3h0M443.3 120.6h0M435.9 160.1h0M446.2 153.4h0M457.6 112.5h0M464.1 150.9h0M460.3 160.8h0M417.0 160.6h0M470.5 115.5h0M459.7 128.9h0M429.4 155.9h0M417.1 153.6h0M482.3 113.1h0M432.4 111.4h0M484.2 148.7h0M445.6 137.3h0M426.8 171.6h0M441.3 151.9h0M442.7 149.9h0M436.4 118.2h0M485.0 157.6h0M482.6 124.9h0M473.0 123.6h0M441.8 169.6h0M441.3 108.1h0M466.3 164.2h0" stroke="#883812" stroke-width="2.1" stroke-linecap="round"/>
<path d="M421.6 147.2h0M481.0 149.4h0M482.7 125.9h0M469.4 137.7h0M440.2 136.2h0M482.6 151.8h0M428.4 128.5h0M425.7 129.4h0M468.2 170.3h0M425.1 166.6h0M433.8 145.7h0M415.7 156.3h0M450.7 146.7h0M472.9 118.4h0M430.0 118.5h0M477.0 131.4h0M457.1 162.5h0M458.0 124.9h0M442.5 141.0h0M466.2 116.3h0M469.6 111.5h0M418.7 153.6h0M484.1 131.9h0M428.2 125.3h0M456.9 125.4h0M477.5 110.4h0M483.9 160.5h0M452.6 108.9h0M433.0 157.0h0M455.6 159.2h0M415.8 152.7h0M474.2 123.9h0M419.0 137.6h0M470.7 147.1h0M439.7 111.9h0M479.2 117.6h0M456.4 159.1h0M443.6 115.1h0M442.2 143.4h0M443.3 145.3h0M476.5 106.8h0M466.6 106.0h0M416.8 115.3h0M468.7 174.5h0M478.5 135.2h0M484.1 107.4h0M425.9 175.2h0M432.8 118.6h0M466.4 133.9h0M435.0 111.6h0M428.1 159.7h0M458.1 120.7h0M474.8 151.0h0M461.2 112.9h0M431.1 164.3h0M415.5 151.5h0M431.8 110.6h0M453.3 171.9h0M431.5 123.3h0M445.3 105.5h0M481.7 141.0h0M442.3 111.2h0M425.3 135.6h0M434.9 108.9h0M478.6 172.5h0M429.4 121.5h0M467.9 106.8h0M463.0 166.5h0M476.6 137.5h0M478.8 107.8h0M421.2 133.1h0M458.5 112.0h0M419.7 107.5h0M453.1 169.6h0M485.7 172.4h0M439.0 110.8h0M421.9 158.9h0M479.8 135.4h0M430.9 167.7h0M468.6 135.0h0M426.3 157.1h0M486.5 112.7h0M419.2 108.3h0M484.7 107.7h0M441.5 109.4h0M441.8 134.3h0M445.8 108.1h0M430.7 139.0h0M450.3 114.5h0M437.7 122.2h0M457.2 129.0h0M418.3 168.2h0M454.4 144.8h0M416.3 150.6h0M476.1 147.6h0M442.7 128.8h0M479.8 158.9h0M471.2 106.5h0M424.6 108.2h0M427.1 143.3h0M422.0 116.3h0M481.9 109.1h0M439.0 114.0h0M435.4 112.3h0M431.9 132.9h0M463.5 120.1h0M456.3 116.6h0M457.9 133.6h0M466.4 113.4h0M478.0 118.3h0M446.9 138.7h0M462.6 115.6h0M419.9 160.1h0M421.1 114.4h0M479.4 130.0h0M451.4 150.9h0M484.4 173.8h0M450.2 146.6h0M467.0 174.9h0M456.4 163.7h0M452.8 120.7h0M487.0 133.2h0M437.6 136.4h0M448.7 140.6h0M453.7 176.8h0M448.3 126.9h0M481.8 109.4h0M428.4 133.8h0M465.1 158.2h0M438.4 143.8h0M443.1 123.5h0M484.4 121.8h0M475.4 167.7h0M446.0 131.7h0M458.9 117.7h0M448.8 113.4h0M463.4 118.0h0M468.2 128.2h0M486.2 143.1h0M474.2 120.3h0M423.1 132.1h0M436.6 146.7h0M443.8 144.8h0M474.0 139.2h0M449.0 129.5h0M484.6 128.8h0M468.2 116.7h0M473.0 142.7h0M427.1 173.7h0M441.6 159.7h0M428.3 113.3h0M461.2 116.3h0M415.7 147.7h0M460.5 166.3h0M436.3 168.0h0M442.0 137.4h0M464.3 105.8h0M447.7 119.8h0M424.8 124.6h0M436.7 156.0h0M434.4 111.2h0M442.1 109.6h0M442.1 176.8h0M445.3 150.1h0M448.1 120.9h0M443.7 136.4h0M416.2 155.3h0M465.2 160.4h0M479.5 167.1h0M438.5 120.4h0M485.9 170.8h0M431.7 173.8h0M428.4 115.0h0M418.5 133.9h0M455.3 124.0h0M465.6 115.0h0M476.0 132.3h0M452.5 105.9h0M427.0 160.5h0M468.5 160.4h0M433.8 144.3h0M430.9 119.7h0M434.9 172.1h0M415.5 124.2h0M438.9 146.2h0M480.2 169.6h0M459.4 114.5h0M447.0 130.4h0M447.1 149.2h0M469.5 142.2h0M434.1 116.3h0M424.0 110.3h0M460.0 112.6h0M454.1 118.3h0M479.7 164.5h0M461.8 125.9h0M454.1 106.5h0M445.1 131.0h0M442.6 128.0h0M447.6 167.6h0M471.7 114.6h0M455.4 131.7h0M444.2 122.3h0M435.8 105.8h0M486.6 144.0h0M470.4 130.5h0M456.3 163.4h0M434.6 137.4h0M484.5 130.2h0M478.4 167.8h0M454.6 126.1h0M420.3 149.8h0M419.9 150.1h0M447.5 147.5h0M416.2 161.8h0M457.3 137.2h0M438.8 156.1h0M440.2 124.8h0M479.1 119.5h0M466.8 111.6h0M471.8 170.2h0M416.2 106.6h0M471.5 114.1h0M449.0 121.3h0M483.4 169.2h0M430.3 166.2h0M463.3 112.3h0M447.8 119.1h0M425.5 117.7h0M472.6 155.1h0M416.8 140.7h0M433.2 166.8h0M464.5 132.3h0M421.9 169.2h0M418.0 147.8h0M475.5 115.1h0M445.0 156.4h0M455.5 145.6h0M429.7 120.5h0M423.8 132.9h0M432.7 140.1h0M445.7 132.2h0M454.7 160.8h0M423.7 171.9h0M428.3 154.5h0M436.4 161.7h0M469.6 123.9h0M466.5 109.8h0M487.1 115.3h0M440.9 131.2h0M459.2 129.5h0M417.3 125.8h0M469.2 169.4h0M443.5 120.5h0M416.8 162.2h0M427.0 165.2h0M421.6 135.3h0M445.3 150.7h0M426.1 135.5h0M434.9 127.2h0M483.9 135.0h0M451.1 149.4h0M419.2 172.3h0M476.0 138.9h0M484.6 173.0h0M437.4 168.6h0M428.5 118.9h0M478.4 157.0h0M474.5 158.1h0M468.9 123.9h0M423.5 135.0h0M439.8 171.8h0M424.7 170.7h0M427.0 156.8h0M472.5 137.0h0M470.8 173.9h0M420.5 133.1h0M446.6 170.1h0M482.0 107.3h0M424.4 135.9h0M481.1 128.3h0M449.2 160.6h0M431.7 127.4h0M453.3 114.3h0M440.6 144.4h0M470.4 160.8h0M432.4 115.5h0M445.6 151.0h0M446.5 121.0h0M486.3 174.5h0M442.1 138.3h0M452.7 156.8h0M472.6 147.6h0M450.2 108.6h0M486.4 151.7h0M458.3 123.6h0M437.8 138.3h0M473.8 176.6h0M473.0 131.4h0M447.8 125.5h0M467.7 131.2h0M460.5 154.1h0M467.5 115.7h0M473.0 110.6h0M481.0 138.2h0M449.7 109.8h0M438.0 169.5h0M443.0 138.0h0M438.4 118.9h0M434.8 114.7h0M436.5 156.1h0M473.7 133.8h0M486.3 157.3h0M438.8 155.6h0M482.7 133.5h0M460.0 115.2h0M419.5 171.0h0M427.3 121.4h0M456.2 118.6h0M418.6 131.4h0M444.4 134.0h0M441.8 151.3h0M447.9 146.4h0M430.1 110.0h0M424.2 111.3h0M417.9 146.4h0M471.4 109.5h0M420.1 137.5h0M456.6 109.3h0M462.8 151.9h0M472.3 131.9h0M486.3 157.9h0M478.0 142.6h0M487.1 168.7h0M477.4 115.1h0M440.9 108.0h0M460.4 113.3h0M453.8 168.1h0M439.1 145.7h0M482.7 140.6h0M484.0 153.0h0M485.0 161.6h0M449.1 148.3h0M471.6 170.9h0M463.7 130.4h0M427.2 139.4h0M458.4 139.9h0M436.1 111.5h0M454.1 109.9h0M442.5 107.0h0M415.4 142.2h0M463.5 140.7h0M483.7 128.9h0M473.6 144.7h0M462.5 162.5h0M418.7 115.4h0M438.9 158.7h0M444.7 156.9h0M476.9 156.6h0M470.1 109.0h0M468.2 113.9h0M482.3 161.8h0M465.3 138.1h0M448.6 168.7h0M482.2 112.7h0M442.6 166.0h0M429.6 120.2h0M480.3 108.2h0M476.9 113.3h0M457.3 121.0h0M470.3 165.7h0M467.0 128.4h0M432.1 131.3h0M424.0 176.3h0M421.5 109.1h0M455.0 123.8h0M475.6 133.9h0M433.2 149.0h0M477.1 169.1h0M468.1 111.0h0" stroke="#e0b090" stroke-width="1.4" stroke-linecap="round"/>
<path d="M451.9 148.1h0M484.8 145.3h0M471.1 139.2h0M485.0 142.7h0M459.8 143.5h0M444.9 142.5h0M479.0 144.1h0M459.0 142.7h0M455.3 157.8h0M480.0 147.5h0M422.3 160.4h0M464.5 136.2h0M476.0 149.7h0M450.2 149.4h0M458.9 166.5h0M424.4 162.7h0M458.3 146.8h0M454.3 147.9h0M469.1 135.8h0M436.9 171.3h0M464.5 156.8h0M431.1 171.5h0M458.9 159.1h0M467.1 168.5h0M476.7 145.8h0M433.3 160.2h0M436.5 155.2h0M484.2 162.5h0M459.8 134.8h0M474.3 137.1h0M437.1 155.1h0M486.7 135.2h0M440.8 152.9h0M456.1 148.0h0M476.5 154.0h0M445.8 154.6h0M447.3 150.8h0M480.1 154.7h0M441.9 148.6h0M478.9 153.8h0M455.6 154.2h0M472.4 151.7h0M485.0 147.3h0M460.1 155.1h0M485.3 143.2h0M461.0 147.1h0M480.2 147.1h0M476.4 130.3h0M471.8 162.2h0M452.5 155.2h0M483.2 160.2h0M458.9 158.1h0M442.7 152.5h0M475.4 161.3h0M477.5 144.9h0M444.4 158.8h0M473.7 139.6h0M472.7 135.2h0M473.1 145.5h0M446.0 157.9h0M424.6 152.2h0M458.5 139.2h0M485.7 140.7h0M474.2 133.0h0M486.0 145.4h0M438.7 158.9h0M446.5 153.5h0M479.3 139.7h0M473.2 138.0h0M467.7 141.7h0M450.7 162.9h0M471.5 139.4h0M454.2 146.2h0M480.3 153.6h0M463.7 137.6h0M432.8 145.8h0M451.4 160.5h0M478.5 142.7h0M458.6 140.3h0M465.1 151.3h0M453.4 158.2h0M453.4 152.5h0M463.7 143.8h0M438.3 151.2h0M472.5 140.3h0M457.6 152.5h0M473.2 147.7h0M473.4 146.9h0M444.9 154.0h0M454.0 134.5h0M467.9 139.8h0M454.3 132.9h0M472.0 156.2h0M448.8 135.4h0M465.0 157.7h0M473.8 142.0h0M477.7 133.8h0M469.0 144.2h0M459.7 134.4h0M471.4 142.9h0M445.0 145.3h0M473.5 147.4h0M456.3 165.3h0M471.2 135.1h0M437.7 161.3h0M441.1 157.7h0M462.1 149.5h0M465.8 156.7h0M455.0 154.4h0M438.8 167.3h0M448.5 160.1h0M475.1 147.7h0M451.1 161.6h0M445.1 151.1h0M480.4 143.7h0M445.2 155.0h0M456.0 162.7h0M445.1 164.2h0M460.6 130.8h0M454.3 135.4h0M483.0 128.1h0M444.0 137.4h0M478.4 120.7h0M426.1 137.8h0M480.2 145.5h0M459.7 137.3h0M438.5 158.5h0M476.9 146.0h0M438.9 167.9h0M445.1 153.2h0M439.7 172.8h0M456.1 136.2h0M429.9 169.8h0M434.4 140.4h0M475.3 136.9h0M465.7 140.8h0M474.1 132.5h0M478.9 138.8h0M484.5 145.5h0M424.1 156.7h0M447.7 146.9h0M461.1 156.4h0M424.5 166.0h0M461.4 160.4h0M464.9 138.3h0M446.5 149.0h0M471.5 138.8h0M460.7 133.1h0M418.2 149.7h0M464.4 132.7h0M460.9 146.3h0M452.3 162.7h0M481.2 140.6h0M477.8 135.7h0M461.2 156.5h0M483.1 142.2h0M482.8 151.3h0M455.1 135.2h0M452.1 160.9h0M481.5 145.2h0M474.6 142.9h0M468.0 147.2h0M452.5 145.9h0M450.4 131.8h0M448.5 137.5h0M439.1 164.1h0M471.3 142.2h0M447.3 157.3h0M447.1 149.5h0M480.2 150.5h0M475.0 151.9h0M456.8 162.8h0M441.7 156.2h0M470.3 136.9h0M429.9 155.2h0M477.1 135.8h0M455.2 159.7h0M469.8 142.4h0M481.1 142.5h0M435.5 153.5h0M449.6 149.9h0M481.7 145.7h0M480.7 141.4h0M478.5 155.5h0M472.4 144.8h0M454.1 157.9h0M458.6 145.1h0M456.2 122.8h0M444.1 155.0h0M479.9 154.9h0M455.6 164.4h0M436.7 157.1h0M430.0 150.5h0M439.4 162.3h0M446.0 154.2h0M453.3 136.2h0M461.3 158.7h0M461.9 130.0h0M446.1 158.8h0M443.3 154.1h0M449.4 156.2h0M439.8 162.9h0M482.5 135.2h0M447.0 157.4h0M461.7 137.2h0M437.8 152.6h0M448.9 152.9h0M458.9 148.5h0M447.8 154.9h0M470.6 136.7h0M483.4 138.0h0M452.9 161.2h0M430.0 160.2h0M469.4 142.2h0M448.6 163.9h0M453.9 130.0h0M467.6 142.9h0M464.9 134.8h0M446.0 158.9h0M447.0 159.6h0" stroke="#9a92c4" stroke-width="1.8" stroke-linecap="round"/>
<path d="M418.9 111.6h0M422.9 170.0h0M426.6 129.5h0M432.8 105.4h0M421.4 148.2h0M421.8 115.5h0M439.9 162.8h0M463.4 132.2h0M469.6 118.3h0M481.1 152.5h0M439.4 133.4h0M448.1 146.5h0M428.8 111.6h0M416.0 130.6h0M460.6 122.1h0M469.4 108.5h0M429.0 123.7h0M434.7 136.5h0M422.9 109.8h0M421.5 136.4h0M453.8 110.6h0M444.3 176.0h0M449.2 159.2h0M478.9 135.4h0M464.1 132.0h0M420.8 168.4h0M452.5 143.9h0M443.0 109.8h0M437.0 162.1h0M425.0 141.2h0M441.7 169.4h0M434.7 141.7h0M420.9 119.5h0M487.0 169.3h0M455.9 111.4h0M450.2 133.7h0M451.3 114.4h0M450.8 155.3h0M418.9 167.2h0M463.4 135.5h0M470.7 129.9h0M419.6 135.1h0M475.0 117.9h0M441.7 171.5h0M434.3 164.2h0M483.3 109.0h0M438.5 151.7h0M446.8 146.3h0M435.0 173.9h0M431.0 167.3h0M438.2 133.1h0M419.6 123.5h0M445.1 135.8h0M451.0 117.1h0M448.8 125.6h0M447.1 144.4h0M429.2 172.9h0M446.6 130.9h0M429.1 120.5h0M417.8 170.6h0M482.0 106.1h0M454.6 108.3h0M467.9 168.4h0M436.1 118.6h0M463.5 164.3h0M417.0 131.3h0M431.3 121.2h0M446.5 145.5h0M486.1 141.0h0M454.9 106.6h0M457.9 128.6h0M463.4 174.2h0M415.5 161.9h0M417.4 115.8h0M482.7 152.8h0M426.1 138.4h0M474.3 164.0h0M446.2 153.5h0M415.8 128.8h0M471.9 163.8h0M419.8 171.7h0M476.7 124.2h0M486.2 131.7h0M440.4 154.9h0M447.2 112.8h0M468.9 119.6h0M420.2 120.0h0M486.1 117.0h0M463.7 161.3h0M434.6 169.4h0M419.2 123.6h0M444.8 149.9h0M455.1 113.9h0M485.5 129.0h0M446.8 122.2h0M423.3 112.5h0M424.7 105.3h0M481.2 163.3h0M476.3 117.8h0M419.8 107.0h0M443.5 146.1h0M454.3 118.8h0M458.2 161.6h0M416.7 115.7h0M484.5 136.0h0M426.2 153.1h0M479.9 109.8h0M446.4 143.7h0M483.3 167.2h0M418.2 143.7h0M417.4 153.8h0M461.6 112.4h0M459.5 129.3h0M422.6 108.4h0M473.1 115.1h0M457.2 131.5h0M434.1 134.8h0M453.3 152.7h0M458.7 115.6h0M483.2 148.4h0M448.7 151.8h0M454.0 145.7h0M471.9 129.6h0M442.2 147.4h0M442.0 135.6h0M422.7 152.5h0M466.6 160.1h0M453.1 121.9h0M470.2 175.0h0M449.8 122.2h0M425.5 172.3h0M473.4 117.3h0M468.8 118.1h0M433.1 173.7h0M486.1 141.2h0M426.3 130.4h0M461.2 121.4h0M476.4 139.2h0M485.9 137.1h0M417.8 175.1h0" stroke="#f0d0b8" stroke-width="1.0" stroke-linecap="round"/>
<path d="M484.1 144.6h0M428.1 174.2h0M445.2 161.6h0M417.8 117.4h0M484.6 163.6h0M417.1 139.3h0M445.9 122.0h0M422.7 128.1h0M425.6 119.3h0M477.2 131.0h0M436.6 134.0h0M423.1 169.6h0M452.1 152.7h0M486.1 113.7h0M456.1 139.7h0M470.4 148.8h0M447.3 115.1h0M453.6 161.9h0M483.2 138.0h0M452.1 162.6h0M447.5 134.4h0M468.1 168.4h0M470.5 171.8h0M427.8 143.4h0M419.9 172.3h0M432.3 142.9h0M465.0 139.1h0M449.2 139.2h0M456.9 151.2h0M467.4 139.1h0M444.2 117.0h0M417.0 127.9h0M483.6 139.2h0M426.6 139.4h0M467.9 164.6h0M441.7 148.9h0M419.4 165.2h0M443.4 113.7h0M430.2 163.6h0M479.0 120.0h0M484.5 121.6h0M420.5 107.9h0M427.1 156.7h0M456.1 170.7h0M430.3 117.7h0M476.6 139.7h0M449.2 159.7h0M415.6 109.5h0M421.8 131.0h0M422.1 143.5h0M445.4 131.3h0M433.7 136.7h0M469.9 173.5h0M485.4 106.9h0M460.4 158.2h0M481.7 144.7h0M432.5 137.0h0M483.2 115.3h0M451.9 131.9h0M438.8 111.3h0M447.8 147.2h0M472.7 173.8h0M438.0 126.1h0M425.7 142.7h0M471.5 152.3h0M447.5 173.6h0M483.6 169.8h0M439.3 155.4h0M418.7 150.4h0M434.3 142.3h0M486.7 126.6h0M434.5 153.4h0M424.6 125.1h0M473.7 114.1h0M470.7 135.5h0M445.6 170.0h0M445.6 110.4h0M457.0 135.9h0M472.4 143.1h0M470.9 157.6h0M462.1 164.7h0M463.2 112.5h0M426.6 112.1h0M451.6 173.1h0M432.3 112.3h0M428.7 149.2h0M477.5 167.3h0M421.0 116.6h0M448.8 136.4h0M479.3 133.2h0M475.9 169.0h0M478.7 106.6h0M462.7 132.2h0M481.8 170.8h0M421.5 113.9h0M449.7 143.4h0M426.1 107.9h0M425.2 127.3h0M421.5 135.7h0M441.6 132.7h0M459.9 131.6h0M420.8 139.2h0M474.0 161.0h0M460.0 161.7h0M485.5 121.2h0M456.8 139.9h0M466.1 173.8h0M422.9 174.6h0M446.6 106.5h0M442.9 150.4h0M463.9 176.0h0M460.7 159.9h0M428.4 113.4h0M446.7 125.0h0M457.6 147.3h0M446.5 154.8h0M469.6 150.8h0M426.4 127.2h0M451.2 158.2h0M434.3 148.1h0M426.0 153.6h0M473.8 141.5h0M419.4 124.9h0M485.1 149.3h0M459.8 172.9h0M456.2 153.2h0M477.5 146.8h0M467.4 113.7h0M477.6 173.6h0M425.5 107.4h0M460.0 126.2h0M450.8 138.9h0M415.9 124.2h0M479.7 138.2h0M453.7 172.0h0M426.5 134.7h0M444.9 159.2h0M448.3 170.6h0M476.1 168.2h0M434.5 137.8h0M416.1 150.2h0M423.6 137.3h0M457.1 169.9h0M427.0 112.8h0M460.8 107.9h0M422.7 109.0h0M482.8 147.9h0M448.9 123.9h0M433.6 148.7h0M456.6 132.4h0M427.0 136.7h0M443.9 139.0h0M446.5 117.6h0M466.0 144.3h0M420.3 139.3h0M439.3 165.5h0M432.6 168.9h0M478.1 121.8h0M481.6 138.4h0M486.1 115.3h0M426.0 114.8h0M463.3 158.7h0M436.4 114.4h0M478.7 143.5h0M427.7 134.6h0M476.8 142.8h0M424.8 147.2h0M463.8 129.9h0M462.1 108.6h0M475.5 157.3h0M460.4 132.1h0M451.4 124.1h0M431.0 133.5h0M470.0 128.4h0M422.9 107.7h0M460.5 134.7h0M424.3 133.0h0M441.1 150.1h0M477.3 122.0h0M463.8 141.6h0M455.3 127.4h0M482.5 172.4h0M478.2 132.1h0M446.7 165.0h0M439.8 157.4h0M469.7 143.5h0M446.6 119.3h0M470.5 159.5h0M452.1 131.7h0M458.5 114.4h0M431.7 119.7h0M443.8 162.6h0M425.4 149.8h0M468.5 173.3h0M422.6 160.0h0M436.5 113.5h0M421.4 149.5h0M479.0 126.5h0M436.9 166.8h0M438.1 132.0h0M420.0 163.8h0M460.6 140.4h0M460.1 140.4h0M454.0 141.7h0M439.9 133.0h0M417.5 172.9h0M444.0 115.7h0M419.8 121.3h0M416.7 149.3h0M478.7 108.8h0M423.6 140.4h0M477.0 153.7h0M467.5 173.0h0M459.0 150.7h0M472.2 106.5h0M450.6 127.3h0M438.8 168.6h0M424.2 126.5h0M455.3 112.8h0M435.2 109.2h0M432.2 156.0h0M477.8 176.5h0M433.3 135.9h0M427.2 107.1h0M429.2 119.9h0M433.7 123.9h0M461.7 144.9h0M483.5 150.1h0M437.9 141.9h0M465.6 162.5h0M418.6 164.3h0M425.0 160.0h0M435.5 106.7h0M472.2 139.6h0M456.8 157.9h0M477.7 126.4h0M479.8 172.4h0M439.4 135.6h0M462.4 123.7h0M482.0 134.6h0M474.5 155.9h0M440.6 143.7h0M471.8 126.9h0M457.5 130.6h0M447.3 151.9h0M423.4 170.7h0M432.9 113.4h0M475.6 134.8h0M450.8 118.8h0M426.6 157.3h0M449.2 128.4h0M426.1 131.8h0M448.4 149.5h0M470.9 147.6h0M483.9 149.7h0M455.2 129.2h0M474.8 155.7h0M462.3 117.6h0M466.4 125.6h0M424.9 138.5h0M430.9 115.2h0M475.2 148.9h0M442.6 114.8h0M459.8 128.9h0M441.2 171.0h0M472.6 132.6h0M452.7 139.4h0M424.9 143.3h0M486.7 128.7h0M428.9 144.1h0M449.0 111.2h0M455.3 165.8h0M458.0 158.6h0M450.6 123.8h0M423.5 144.5h0M451.2 110.4h0M475.3 152.2h0M430.7 124.7h0M420.8 111.5h0M436.3 115.9h0" stroke="#c4703a" stroke-width="1.8" stroke-linecap="round"/>
<path d="M458.9 149.4h0M436.5 140.5h0M470.4 118.4h0M441.9 112.8h0M428.7 149.4h0M417.1 122.6h0M427.4 110.9h0M418.7 138.7h0M445.2 110.2h0M431.8 150.1h0M419.0 109.6h0M462.8 120.8h0M455.4 139.8h0M432.4 157.9h0M448.6 105.9h0M464.6 105.8h0M477.3 120.6h0M440.5 133.4h0M424.5 113.0h0M422.0 107.8h0M458.7 126.0h0M473.6 112.4h0M433.7 169.7h0M473.2 136.3h0M419.9 109.7h0M440.4 145.2h0M438.1 163.0h0M461.6 117.8h0M438.7 134.9h0M415.7 147.5h0M443.8 132.4h0M429.4 148.6h0M429.2 139.8h0M461.4 130.8h0M425.2 106.1h0M461.9 120.1h0M442.4 118.2h0M441.0 114.4h0M450.9 121.5h0M429.4 157.9h0M427.2 106.7h0M444.2 112.1h0M451.2 150.8h0M446.0 142.4h0M415.5 107.0h0M416.3 125.4h0M427.5 121.3h0M434.9 122.4h0M448.6 130.5h0M459.2 112.7h0M416.7 120.3h0M454.9 106.3h0M421.0 162.9h0M435.8 114.4h0M479.0 132.7h0M442.0 150.5h0M448.7 125.1h0M430.6 151.2h0M437.5 137.5h0M423.5 119.4h0M432.6 130.5h0M468.8 108.4h0M421.1 131.1h0M416.2 137.8h0M424.3 117.3h0M456.2 142.8h0M474.9 160.5h0M423.8 137.7h0M426.3 150.3h0M415.7 122.4h0M424.8 120.9h0M426.4 153.3h0M455.4 112.3h0M426.4 150.3h0M439.0 112.0h0M417.9 137.6h0M432.3 122.7h0M419.0 121.5h0M449.5 111.6h0M421.7 126.5h0M431.7 129.9h0M464.4 114.9h0M449.9 116.5h0M426.1 165.7h0M466.5 122.9h0M436.2 154.0h0M457.8 137.9h0M450.0 106.6h0M456.5 122.6h0M421.2 149.4h0M475.0 143.0h0M440.6 125.5h0M453.4 135.6h0M452.7 115.4h0M417.3 150.8h0M432.5 122.1h0M443.8 111.7h0M459.2 133.8h0M416.8 111.4h0M437.3 112.7h0M466.0 161.9h0M457.5 111.2h0M439.3 167.8h0M422.3 111.1h0M446.8 159.9h0M455.3 127.0h0M467.0 148.1h0M417.2 158.5h0M453.9 131.8h0M430.3 144.5h0M461.9 120.0h0M433.7 123.8h0M468.7 114.2h0M441.2 105.8h0M417.8 111.9h0M438.5 122.4h0M427.6 122.8h0M459.8 131.0h0M442.2 106.1h0M427.6 138.1h0M463.4 122.6h0M422.5 143.2h0M435.1 112.6h0M426.9 124.9h0M422.6 137.3h0M428.1 115.5h0M432.7 128.3h0M428.0 131.3h0M454.7 138.3h0M441.6 119.9h0M438.9 154.5h0M458.5 126.0h0M427.1 114.7h0M453.6 151.4h0M445.5 164.5h0M429.8 114.1h0M460.7 109.2h0M449.7 152.9h0M421.1 145.6h0M419.5 161.6h0M423.3 136.8h0M445.8 165.4h0M416.1 166.1h0M444.2 112.3h0M418.6 135.9h0M429.4 131.7h0M428.7 134.6h0M415.8 128.4h0M432.0 122.9h0M429.6 129.1h0M426.3 116.6h0M452.0 128.0h0M419.5 116.1h0M429.3 139.8h0M449.5 126.2h0M439.0 112.0h0M424.9 115.4h0M419.5 126.2h0M439.0 149.5h0M440.7 113.6h0" stroke="#7a3010" stroke-width="1.8" stroke-linecap="round"/>
<circle cx="401.6" cy="124.8" r="1.5" fill="#222"/><circle cx="401.2" cy="127.6" r="0.8" fill="#444"/>
<circle cx="257.8" cy="35.2" r="1.3" fill="#1f6f90"/>
<circle cx="271.4" cy="33.6" r="1.1" fill="#2a7898"/>
<circle cx="275.0" cy="35.6" r="1.5" fill="#7ab0b0"/>
<circle cx="249.9" cy="44.2" r="0.9" fill="#4a8ab0"/>
<circle cx="246.7" cy="54.8" r="1.3" fill="#1a5f88"/>
<circle cx="271.0" cy="67.6" r="1.1" fill="#2a80a8"/>
<circle cx="273.2" cy="72.4" r="1.1" fill="#2a80a8"/>
<circle cx="295.9" cy="28.6" r="1.1" fill="#2a7898"/>
<circle cx="308.3" cy="49.0" r="1.1" fill="#3a88a8"/>
<circle cx="313.4" cy="58.5" r="1.3" fill="#3a88a8"/>
<circle cx="295.9" cy="75.0" r="0.9" fill="#3a90a8"/>
<circle cx="285.2" cy="124.5" r="1.2" fill="#1a70b0"/>
<circle cx="244.9" cy="112.5" r="0.9" fill="#40a0d0"/>
<circle cx="314.6" cy="143.2" r="1.0" fill="#3a98c8"/>
<circle cx="247.2" cy="138.0" r="0.8" fill="#70a8c8"/>
<text x="281.3" y="18.8" font-size="8.8" text-anchor="middle" textLength="33" lengthAdjust="spacingAndGlyphs" stroke="#141414" stroke-width="0.15" >SA-β-gal</text>
<text x="367.0" y="18.6" font-size="8.8" text-anchor="middle" textLength="37.3" lengthAdjust="spacingAndGlyphs" stroke="#141414" stroke-width="0.15" >H3K9me3</text>
<text x="451.3" y="18.6" font-size="8.8" text-anchor="middle" textLength="17.3" lengthAdjust="spacingAndGlyphs" stroke="#141414" stroke-width="0.15" >Ki67</text>
<line x1="287.6" y1="28.6" x2="314.9" y2="28.6" stroke="#000" stroke-width="1.6" />
<line x1="382.6" y1="28.4" x2="400.8" y2="28.4" stroke="#000" stroke-width="1.6" />
<line x1="467.6" y1="27.7" x2="484.2" y2="27.7" stroke="#000" stroke-width="1.6" />
<rect x="269.60" y="76.40" width="44.10" height="16.10" fill="#fff" stroke="#000" stroke-width="1.6"/>
<text x="270.6" y="88.1" font-size="9.6" textLength="39.599999999999966" lengthAdjust="spacingAndGlyphs" stroke="#141414" stroke-width="0.1" >29.3%<tspan fill="#888" stroke="#888">±</tspan>4.4</text>
<rect x="355.80" y="76.30" width="43.90" height="15.50" fill="#fff" stroke="#000" stroke-width="1.6"/>
<text x="357.3" y="88.0" font-size="9.6" textLength="39.39999999999998" lengthAdjust="spacingAndGlyphs" stroke="#141414" stroke-width="0.1" >23.7%<tspan fill="#888" stroke="#888">±</tspan>3.1</text>
<rect x="439.80" y="76.30" width="44.40" height="15.90" fill="#fff" stroke="#000" stroke-width="1.6"/>
<text x="441.3" y="88.4" font-size="9.6" textLength="40.39999999999998" lengthAdjust="spacingAndGlyphs" stroke="#141414" stroke-width="0.1" >61.1%<tspan fill="#888" stroke="#888">±</tspan>5.0</text>
<rect x="274.60" y="157.30" width="39.40" height="15.90" fill="#fff" stroke="#000" stroke-width="1.6"/>
<text x="275.8" y="168.5" font-size="9.6" textLength="35.599999999999966" lengthAdjust="spacingAndGlyphs" stroke="#141414" stroke-width="0.1" >8.7%<tspan fill="#888" stroke="#888">±</tspan>1.8</text>
<rect x="359.60" y="156.80" width="39.40" height="15.90" fill="#fff" stroke="#000" stroke-width="1.6"/>
<text x="361.8" y="168.5" font-size="9.6" textLength="34.89999999999998" lengthAdjust="spacingAndGlyphs" stroke="#141414" stroke-width="0.1" >7.6%<tspan fill="#888" stroke="#888">±</tspan>0.9</text>
<rect x="440.80" y="157.00" width="43.40" height="15.40" fill="#fff" stroke="#000" stroke-width="1.6"/>
<text x="442.0" y="168.5" font-size="9.6" textLength="39.69999999999999" lengthAdjust="spacingAndGlyphs" stroke="#141414" stroke-width="0.1" >87.0%<tspan fill="#888" stroke="#888">±</tspan>6.1</text>
<text transform="translate(223.5,100.7) rotate(-90)" font-size="8.6" text-anchor="middle" textLength="54" lengthAdjust="spacingAndGlyphs" stroke="#141414" stroke-width="0.15" >MyD88-L265P</text>
<text transform="translate(239.8,69.3) rotate(-90)" font-size="8.0" text-anchor="middle" textLength="24" lengthAdjust="spacingAndGlyphs" stroke="#141414" stroke-width="0.15" >sh-scr.</text>
<text transform="translate(239.8,143.0) rotate(-90)" font-size="8.0" text-anchor="middle" textLength="27" lengthAdjust="spacingAndGlyphs" stroke="#141414" stroke-width="0.15" >sh-PDL</text>
<line x1="228.5" y1="30.2" x2="228.5" y2="74.6" stroke="#000" stroke-width="1.2" />
<line x1="228.5" y1="127.0" x2="228.5" y2="171.8" stroke="#000" stroke-width="1.2" />
<text x="7.8" y="227.6" font-size="11.2" textLength="8.6" lengthAdjust="spacingAndGlyphs" font-weight="bold" fill="#000" >C</text>
<line x1="50.4" y1="235.2" x2="50.4" y2="383.8" stroke="#2e2e2e" stroke-width="1.3" />
<line x1="49.8" y1="383.2" x2="96.2" y2="383.2" stroke="#2e2e2e" stroke-width="1.3" />
<line x1="47.4" y1="383.2" x2="50.4" y2="383.2" stroke="#2e2e2e" stroke-width="1.0" />
<text x="43.9" y="385.59999999999997" font-size="8.6" text-anchor="end" stroke="#141414" stroke-width="0.05" >0</text>
<line x1="47.4" y1="340.79999999999995" x2="50.4" y2="340.79999999999995" stroke="#2e2e2e" stroke-width="1.0" />
<text x="43.9" y="343.19999999999993" font-size="8.6" text-anchor="end" stroke="#141414" stroke-width="0.05" >10</text>
<line x1="47.4" y1="298.4" x2="50.4" y2="298.4" stroke="#2e2e2e" stroke-width="1.0" />
<text x="43.9" y="300.79999999999995" font-size="8.6" text-anchor="end" stroke="#141414" stroke-width="0.05" >20</text>
<line x1="47.4" y1="256.0" x2="50.4" y2="256.0" stroke="#2e2e2e" stroke-width="1.0" />
<text x="43.9" y="258.4" font-size="8.6" text-anchor="end" stroke="#141414" stroke-width="0.05" >30</text>
<line x1="62.4" y1="383.2" x2="62.4" y2="386.0" stroke="#2e2e2e" stroke-width="1.0" />
<line x1="83.6" y1="383.2" x2="83.6" y2="386.0" stroke="#2e2e2e" stroke-width="1.0" />
<text transform="translate(28.8,309.0) rotate(-90)" font-size="10.2" text-anchor="middle" textLength="48.7" lengthAdjust="spacingAndGlyphs" stroke="#141414" stroke-width="0.05" >% CD3+ cells</text>
<text transform="translate(66.8,391.0) rotate(-45)" font-size="8.6" text-anchor="end" textLength="24.5" lengthAdjust="spacingAndGlyphs" stroke="#141414" stroke-width="0.08" >sh-scr.</text>
<text transform="translate(88.2,392.2) rotate(-45)" font-size="8.6" text-anchor="end" textLength="28.5" lengthAdjust="spacingAndGlyphs" stroke="#141414" stroke-width="0.08" >sh-PDL</text>
<path d="M61.8,251.3 V244.5 H83.7 V251.3" fill="none" stroke="#222" stroke-width="1.2" />
<text x="72.8" y="244.0" font-size="7.5" text-anchor="middle" fill="#222" stroke="#222" stroke-width="0.15" >*</text>
<line x1="62.3" y1="278.9" x2="62.3" y2="325.1" stroke="#ae0a3a" stroke-width="1.0" />
<line x1="58.9" y1="278.9" x2="65.7" y2="278.9" stroke="#ae0a3a" stroke-width="1.0" />
<line x1="58.9" y1="325.1" x2="65.7" y2="325.1" stroke="#ae0a3a" stroke-width="1.0" />
<line x1="56.099999999999994" y1="302.4" x2="68.5" y2="302.4" stroke="#222" stroke-width="1.3" />
<line x1="83.6" y1="338.4" x2="83.6" y2="364.9" stroke="#ae0a3a" stroke-width="1.0" />
<line x1="80.19999999999999" y1="338.4" x2="87.0" y2="338.4" stroke="#ae0a3a" stroke-width="1.0" />
<line x1="80.19999999999999" y1="364.9" x2="87.0" y2="364.9" stroke="#ae0a3a" stroke-width="1.0" />
<line x1="77.39999999999999" y1="351.8" x2="89.8" y2="351.8" stroke="#222" stroke-width="1.3" />
<circle cx="62.2" cy="268.3" r="1.75" fill="#a80a32"/>
<circle cx="62.2" cy="278.9" r="1.75" fill="#a80a32"/>
<circle cx="62.2" cy="310.1" r="1.75" fill="#a80a32"/>
<circle cx="62.2" cy="316.0" r="1.75" fill="#a80a32"/>
<circle cx="64.7" cy="319.0" r="1.75" fill="#a80a32"/>
<circle cx="60.1" cy="322.5" r="1.75" fill="#a80a32"/>
<circle cx="85.7" cy="335.9" r="1.75" fill="#a80a32"/>
<circle cx="81.3" cy="339.5" r="1.75" fill="#a80a32"/>
<circle cx="83.6" cy="358.0" r="1.75" fill="#a80a32"/>
<circle cx="81.6" cy="363.3" r="1.75" fill="#a80a32"/>
<circle cx="85.6" cy="362.8" r="1.75" fill="#a80a32"/>
<text x="112.8" y="227.6" font-size="11.2" textLength="8.9" lengthAdjust="spacingAndGlyphs" font-weight="bold" fill="#000" >D</text>
<text x="188.7" y="231.0" font-size="10.0" text-anchor="middle" textLength="26.5" lengthAdjust="spacingAndGlyphs" stroke="#141414" stroke-width="0.15" >GSEA</text>
<text x="188.7" y="242.8" font-size="10.0" text-anchor="middle" textLength="100" lengthAdjust="spacingAndGlyphs" stroke="#141414" stroke-width="0.15" >MyD88-L265P;sh-PDL</text>
<rect x="162" y="263.44" width="21" height="53.95" fill="#c8c8cc"/>
<rect x="194.7" y="317.40" width="20.7" height="54.12" fill="#4b5264"/>
<rect x="153.6" y="251.7" width="70.4" height="130.4" fill="none" stroke="#222" stroke-width="1.3"/>
<line x1="153.6" y1="317.4" x2="224" y2="317.4" stroke="#111" stroke-width="1.1" />
<line x1="149.8" y1="382.79999999999995" x2="153.6" y2="382.79999999999995" stroke="#2e2e2e" stroke-width="1.0" />
<text x="146.6" y="385.49999999999994" font-size="8.6" text-anchor="end" stroke="#141414" stroke-width="0.05" >-2</text>
<line x1="149.8" y1="350.09999999999997" x2="153.6" y2="350.09999999999997" stroke="#2e2e2e" stroke-width="1.0" />
<text x="146.6" y="352.79999999999995" font-size="8.6" text-anchor="end" stroke="#141414" stroke-width="0.05" >-1</text>
<line x1="149.8" y1="317.4" x2="153.6" y2="317.4" stroke="#2e2e2e" stroke-width="1.0" />
<text x="146.6" y="320.09999999999997" font-size="8.6" text-anchor="end" stroke="#141414" stroke-width="0.05" >0</text>
<line x1="149.8" y1="284.7" x2="153.6" y2="284.7" stroke="#2e2e2e" stroke-width="1.0" />
<text x="146.6" y="287.4" font-size="8.6" text-anchor="end" stroke="#141414" stroke-width="0.05" >1</text>
<line x1="149.8" y1="251.99999999999997" x2="153.6" y2="251.99999999999997" stroke="#2e2e2e" stroke-width="1.0" />
<text x="146.6" y="254.69999999999996" font-size="8.6" text-anchor="end" stroke="#141414" stroke-width="0.05" >2</text>
<line x1="172.3" y1="248.6" x2="172.3" y2="251.7" stroke="#2e2e2e" stroke-width="1.0" />
<line x1="205.2" y1="248.6" x2="205.2" y2="251.7" stroke="#2e2e2e" stroke-width="1.0" />
<text transform="translate(134.4,317.3) rotate(-90)" font-size="9.6" text-anchor="middle" textLength="64" lengthAdjust="spacingAndGlyphs" stroke="#141414" stroke-width="0.05" >NES (FDR &lt; 0.05)</text>
<rect x="154" y="387.5" width="17.8" height="6.8" fill="#4b5264"/>
<rect x="154" y="400.2" width="17.8" height="6.4" fill="#c8c8cc"/>
<text x="175.5" y="394.3" font-size="8.8" textLength="44.7" lengthAdjust="spacingAndGlyphs" stroke="#141414" stroke-width="0.15" >Senescence</text>
<text x="175.5" y="406.6" font-size="8.8" textLength="65.5" lengthAdjust="spacingAndGlyphs" stroke="#141414" stroke-width="0.15" >E2F target genes</text>
<text x="257.6" y="227.6" font-size="11.2" font-weight="bold" fill="#000" >E</text>
<line x1="298.8" y1="234.7" x2="298.8" y2="383.3" stroke="#2e2e2e" stroke-width="1.3" />
<line x1="298.2" y1="382.7" x2="382.7" y2="382.7" stroke="#2e2e2e" stroke-width="1.3" />
<line x1="295.6" y1="382.7" x2="298.8" y2="382.7" stroke="#2e2e2e" stroke-width="1.0" />
<text x="292.2" y="385.4" font-size="8.6" text-anchor="end" stroke="#141414" stroke-width="0.05" >0</text>
<line x1="295.6" y1="353.59999999999997" x2="298.8" y2="353.59999999999997" stroke="#2e2e2e" stroke-width="1.0" />
<text x="292.2" y="356.29999999999995" font-size="8.6" text-anchor="end" stroke="#141414" stroke-width="0.05" >10</text>
<line x1="295.6" y1="324.5" x2="298.8" y2="324.5" stroke="#2e2e2e" stroke-width="1.0" />
<text x="292.2" y="327.2" font-size="8.6" text-anchor="end" stroke="#141414" stroke-width="0.05" >20</text>
<line x1="295.6" y1="295.4" x2="298.8" y2="295.4" stroke="#2e2e2e" stroke-width="1.0" />
<text x="292.2" y="298.09999999999997" font-size="8.6" text-anchor="end" stroke="#141414" stroke-width="0.05" >30</text>
<line x1="295.6" y1="266.29999999999995" x2="298.8" y2="266.29999999999995" stroke="#2e2e2e" stroke-width="1.0" />
<text x="292.2" y="268.99999999999994" font-size="8.6" text-anchor="end" stroke="#141414" stroke-width="0.05" >40</text>
<line x1="295.6" y1="237.2" x2="298.8" y2="237.2" stroke="#2e2e2e" stroke-width="1.0" />
<text x="292.2" y="239.89999999999998" font-size="8.6" text-anchor="end" stroke="#141414" stroke-width="0.05" >50</text>
<line x1="310.6" y1="382.7" x2="310.6" y2="385.8" stroke="#2e2e2e" stroke-width="1.0" />
<line x1="330.4" y1="382.7" x2="330.4" y2="385.8" stroke="#2e2e2e" stroke-width="1.0" />
<line x1="350.2" y1="382.7" x2="350.2" y2="385.8" stroke="#2e2e2e" stroke-width="1.0" />
<line x1="370.2" y1="382.7" x2="370.2" y2="385.8" stroke="#2e2e2e" stroke-width="1.0" />
<text transform="translate(276.6,310.0) rotate(-90)" font-size="10.8" text-anchor="middle" textLength="127.5" lengthAdjust="spacingAndGlyphs" stroke="#141414" stroke-width="0.05" >% fSA-β-gal-positive viable GFP+ LC</text>
<path d="M310.2,251.0 V244.2 H352.6 V251.6" fill="none" stroke="#222" stroke-width="1.2" />
<path d="M323.5,258.0 V251.6 H374.3 V258.0" fill="none" stroke="#222" stroke-width="1.2" />
<text x="331.4" y="244.3" font-size="7.5" text-anchor="middle" fill="#222" stroke="#222" stroke-width="0.15" >*</text>
<line x1="310.7" y1="277.2" x2="310.7" y2="316.5" stroke="#ae0a3a" stroke-width="1.0" />
<line x1="307.3" y1="277.2" x2="314.09999999999997" y2="277.2" stroke="#ae0a3a" stroke-width="1.0" />
<line x1="307.3" y1="316.5" x2="314.09999999999997" y2="316.5" stroke="#ae0a3a" stroke-width="1.0" />
<line x1="304.5" y1="297.3" x2="316.9" y2="297.3" stroke="#222" stroke-width="1.3" />
<circle cx="310.7" cy="260.3" r="1.75" fill="#a80a32"/>
<circle cx="310.7" cy="293.4" r="1.75" fill="#a80a32"/>
<circle cx="308.2" cy="301.2" r="1.75" fill="#a80a32"/>
<circle cx="313.2" cy="301.2" r="1.75" fill="#a80a32"/>
<circle cx="308.2" cy="313.4" r="1.75" fill="#a80a32"/>
<circle cx="313.2" cy="313.4" r="1.75" fill="#a80a32"/>
<circle cx="327.6" cy="381.8" r="1.75" fill="#a80a32"/>
<circle cx="330.2" cy="381.6" r="1.75" fill="#a80a32"/>
<circle cx="333.0" cy="381.2" r="1.75" fill="#a80a32"/>
<circle cx="347.4" cy="381.8" r="1.75" fill="#a80a32"/>
<circle cx="350.0" cy="381.4" r="1.75" fill="#a80a32"/>
<circle cx="352.8" cy="381.2" r="1.75" fill="#a80a32"/>
<circle cx="366.4" cy="381.6" r="1.75" fill="#a80a32"/>
<circle cx="370.4" cy="381.8" r="1.75" fill="#a80a32"/>
<circle cx="374.6" cy="381.6" r="1.75" fill="#a80a32"/>
<line x1="370.6" y1="376.8" x2="370.6" y2="382.7" stroke="#ae0a3a" stroke-width="1.0" />
<line x1="367.6" y1="376.8" x2="373.6" y2="376.8" stroke="#ae0a3a" stroke-width="1.0" />
<line x1="367.6" y1="382.7" x2="373.6" y2="382.7" stroke="#ae0a3a" stroke-width="1.0" />
<line x1="364.40000000000003" y1="379.6" x2="376.8" y2="379.6" stroke="#222" stroke-width="1.3" />
<circle cx="368.6" cy="373.9" r="1.75" fill="#a80a32"/>
<circle cx="373.0" cy="374.5" r="1.75" fill="#a80a32"/>
<text transform="translate(314.40000000000003,391.0) rotate(-45)" font-size="8.2" text-anchor="end" textLength="22.0" lengthAdjust="spacingAndGlyphs" stroke="#141414" stroke-width="0.08" >Mock</text>
<text transform="translate(334.2,391.0) rotate(-45)" font-size="8.2" text-anchor="end" textLength="48" lengthAdjust="spacingAndGlyphs" stroke="#141414" stroke-width="0.08" >α-PD-L1 (LC)</text>
<text transform="translate(354.0,391.0) rotate(-45)" font-size="8.2" text-anchor="end" textLength="43.0" lengthAdjust="spacingAndGlyphs" stroke="#141414" stroke-width="0.08" >α-PD1 (TC)</text>
<text transform="translate(374.0,391.0) rotate(-45)" font-size="8.2" text-anchor="end" textLength="66" lengthAdjust="spacingAndGlyphs" stroke="#141414" stroke-width="0.08" >α-PD-L1 + α-PD1</text>
<line x1="428.3" y1="237.5" x2="428.3" y2="383.1" stroke="#2e2e2e" stroke-width="1.3" />
<line x1="427.7" y1="382.5" x2="512.0" y2="382.5" stroke="#2e2e2e" stroke-width="1.3" />
<line x1="425.0" y1="382.5" x2="428.3" y2="382.5" stroke="#2e2e2e" stroke-width="1.0" />
<text x="421.2" y="385.2" font-size="8.6" text-anchor="end" stroke="#141414" stroke-width="0.05" >0</text>
<line x1="425.0" y1="358.14" x2="428.3" y2="358.14" stroke="#2e2e2e" stroke-width="1.0" />
<text x="421.2" y="360.84" font-size="8.6" text-anchor="end" stroke="#141414" stroke-width="0.05" >20</text>
<line x1="425.0" y1="333.78" x2="428.3" y2="333.78" stroke="#2e2e2e" stroke-width="1.0" />
<text x="421.2" y="336.47999999999996" font-size="8.6" text-anchor="end" stroke="#141414" stroke-width="0.05" >40</text>
<line x1="425.0" y1="309.42" x2="428.3" y2="309.42" stroke="#2e2e2e" stroke-width="1.0" />
<text x="421.2" y="312.12" font-size="8.6" text-anchor="end" stroke="#141414" stroke-width="0.05" >60</text>
<line x1="425.0" y1="285.06" x2="428.3" y2="285.06" stroke="#2e2e2e" stroke-width="1.0" />
<text x="421.2" y="287.76" font-size="8.6" text-anchor="end" stroke="#141414" stroke-width="0.05" >80</text>
<line x1="425.0" y1="260.7" x2="428.3" y2="260.7" stroke="#2e2e2e" stroke-width="1.0" />
<text x="421.2" y="263.4" font-size="8.6" text-anchor="end" stroke="#141414" stroke-width="0.05" >100</text>
<line x1="440.0" y1="382.5" x2="440.0" y2="385.6" stroke="#2e2e2e" stroke-width="1.0" />
<line x1="460.0" y1="382.5" x2="460.0" y2="385.6" stroke="#2e2e2e" stroke-width="1.0" />
<line x1="480.0" y1="382.5" x2="480.0" y2="385.6" stroke="#2e2e2e" stroke-width="1.0" />
<line x1="500.0" y1="382.5" x2="500.0" y2="385.6" stroke="#2e2e2e" stroke-width="1.0" />
<text transform="translate(401.8,305.6) rotate(-90)" font-size="10.6" text-anchor="middle" textLength="138.8" lengthAdjust="spacingAndGlyphs" stroke="#141414" stroke-width="0.05" >% viability of fSA-β-gal-negative GFP+ LC</text>
<path d="M439.3,251.3 V244.3 H481.8 V251.3" fill="none" stroke="#222" stroke-width="1.2" />
<path d="M453.0,258.0 V251.3 H503.8 V258.0" fill="none" stroke="#222" stroke-width="1.2" />
<text x="460.8" y="244.8" font-size="7.5" text-anchor="middle" fill="#222" stroke="#222" stroke-width="0.15" >*</text>
<text transform="translate(443.8,391.0) rotate(-45)" font-size="8.2" text-anchor="end" textLength="22.0" lengthAdjust="spacingAndGlyphs" stroke="#141414" stroke-width="0.08" >Mock</text>
<text transform="translate(463.8,391.0) rotate(-45)" font-size="8.2" text-anchor="end" textLength="48" lengthAdjust="spacingAndGlyphs" stroke="#141414" stroke-width="0.08" >α-PD-L1 (LC)</text>
<text transform="translate(483.8,391.0) rotate(-45)" font-size="8.2" text-anchor="end" textLength="43.0" lengthAdjust="spacingAndGlyphs" stroke="#141414" stroke-width="0.08" >α-PD1 (TC)</text>
<text transform="translate(503.8,391.0) rotate(-45)" font-size="8.2" text-anchor="end" textLength="66" lengthAdjust="spacingAndGlyphs" stroke="#141414" stroke-width="0.08" >α-PD-L1 + α-PD1</text>
<line x1="440.2" y1="262.1" x2="440.2" y2="277.2" stroke="#ae0a3a" stroke-width="1.0" />
<line x1="436.8" y1="262.1" x2="443.59999999999997" y2="262.1" stroke="#ae0a3a" stroke-width="1.0" />
<line x1="436.8" y1="277.2" x2="443.59999999999997" y2="277.2" stroke="#ae0a3a" stroke-width="1.0" />
<line x1="434.0" y1="269.9" x2="446.4" y2="269.9" stroke="#222" stroke-width="1.3" />
<circle cx="436.3" cy="261.8" r="1.75" fill="#a80a32"/>
<circle cx="443.3" cy="263.3" r="1.75" fill="#a80a32"/>
<circle cx="440.2" cy="265.2" r="1.75" fill="#a80a32"/>
<circle cx="440.2" cy="271.1" r="1.75" fill="#a80a32"/>
<circle cx="442.3" cy="277.7" r="1.75" fill="#a80a32"/>
<circle cx="437.8" cy="280.3" r="1.75" fill="#a80a32"/>
<line x1="460.3" y1="292.4" x2="460.3" y2="310.6" stroke="#ae0a3a" stroke-width="1.0" />
<line x1="456.90000000000003" y1="292.4" x2="463.7" y2="292.4" stroke="#ae0a3a" stroke-width="1.0" />
<line x1="456.90000000000003" y1="310.6" x2="463.7" y2="310.6" stroke="#ae0a3a" stroke-width="1.0" />
<line x1="454.2" y1="301.0" x2="466.40000000000003" y2="301.0" stroke="#222" stroke-width="1.3" />
<circle cx="460.5" cy="289.4" r="1.75" fill="#a80a32"/>
<circle cx="459.8" cy="295.3" r="1.75" fill="#a80a32"/>
<circle cx="457.8" cy="297.6" r="1.75" fill="#a80a32"/>
<circle cx="462.7" cy="301.4" r="1.75" fill="#a80a32"/>
<circle cx="458.0" cy="310.9" r="1.75" fill="#a80a32"/>
<circle cx="462.5" cy="310.6" r="1.75" fill="#a80a32"/>
<line x1="480.3" y1="300.2" x2="480.3" y2="316.6" stroke="#ae0a3a" stroke-width="1.0" />
<line x1="476.90000000000003" y1="300.2" x2="483.7" y2="300.2" stroke="#ae0a3a" stroke-width="1.0" />
<line x1="476.90000000000003" y1="316.6" x2="483.7" y2="316.6" stroke="#ae0a3a" stroke-width="1.0" />
<line x1="474.40000000000003" y1="308.8" x2="486.2" y2="308.8" stroke="#222" stroke-width="1.3" />
<circle cx="478.1" cy="297.1" r="1.75" fill="#a80a32"/>
<circle cx="482.4" cy="300.2" r="1.75" fill="#a80a32"/>
<circle cx="480.4" cy="307.6" r="1.75" fill="#a80a32"/>
<circle cx="480.4" cy="313.1" r="1.75" fill="#a80a32"/>
<circle cx="477.8" cy="318.0" r="1.75" fill="#a80a32"/>
<circle cx="482.8" cy="316.3" r="1.75" fill="#a80a32"/>
<line x1="500.3" y1="284.3" x2="500.3" y2="316.6" stroke="#ae0a3a" stroke-width="1.0" />
<line x1="496.90000000000003" y1="284.3" x2="503.7" y2="284.3" stroke="#ae0a3a" stroke-width="1.0" />
<line x1="496.90000000000003" y1="316.6" x2="503.7" y2="316.6" stroke="#ae0a3a" stroke-width="1.0" />
<line x1="494.1" y1="300.7" x2="506.5" y2="300.7" stroke="#222" stroke-width="1.3" />
<circle cx="497.7" cy="280.3" r="1.75" fill="#a80a32"/>
<circle cx="502.2" cy="284.6" r="1.75" fill="#a80a32"/>
<circle cx="500.3" cy="294.6" r="1.75" fill="#a80a32"/>
<circle cx="500.3" cy="308.3" r="1.75" fill="#a80a32"/>
<circle cx="502.5" cy="316.1" r="1.75" fill="#a80a32"/>
<circle cx="497.7" cy="320.1" r="1.75" fill="#a80a32"/>
<text x="8.4" y="460.9" font-size="11.0" font-weight="bold" fill="#000" >F</text>
<path d="M50.20,524.60 H168.69 V563.46 H172.18 V602.34 H224.45" fill="none" stroke="#22428a" stroke-width="1.65" stroke-dasharray="3.4 2.2"/>
<path d="M50.20,524.60 H147.78 V553.75 H154.75 V582.90 H172.18 V612.05 H224.45" fill="none" stroke="#ae0a3a" stroke-width="1.65" stroke-dasharray="3.4 2.2"/>
<path d="M50.20,524.60 H98.99 V563.46 H105.96 V602.34 H130.36 V621.76 H133.84 V641.20" fill="none" stroke="#22428a" stroke-width="1.65" />
<path d="M50.20,524.60 H92.02 V553.75 H102.47 V568.33 H105.96 V582.90 H116.42 V612.05 H126.87 V641.20" fill="none" stroke="#ae0a3a" stroke-width="1.65" />
<rect x="50.2" y="467.3" width="174.00" height="173.90" fill="none" stroke="#2e2e2e" stroke-width="1.4"/>
<line x1="47.0" y1="641.2" x2="50.2" y2="641.2" stroke="#2e2e2e" stroke-width="1.0" />
<line x1="47.0" y1="582.9000000000001" x2="50.2" y2="582.9000000000001" stroke="#2e2e2e" stroke-width="1.0" />
<line x1="47.0" y1="524.6" x2="50.2" y2="524.6" stroke="#2e2e2e" stroke-width="1.0" />
<line x1="50.2" y1="641.2" x2="50.2" y2="644.0" stroke="#2e2e2e" stroke-width="1.0" />
<text x="50.2" y="654.5" font-size="8.6" text-anchor="middle" stroke="#141414" stroke-width="0.05" >0</text>
<line x1="85.05000000000001" y1="641.2" x2="85.05000000000001" y2="644.0" stroke="#2e2e2e" stroke-width="1.0" />
<text x="85.05000000000001" y="654.5" font-size="8.6" text-anchor="middle" stroke="#141414" stroke-width="0.05" >10</text>
<line x1="119.9" y1="641.2" x2="119.9" y2="644.0" stroke="#2e2e2e" stroke-width="1.0" />
<text x="119.9" y="654.5" font-size="8.6" text-anchor="middle" stroke="#141414" stroke-width="0.05" >20</text>
<line x1="154.75" y1="641.2" x2="154.75" y2="644.0" stroke="#2e2e2e" stroke-width="1.0" />
<text x="154.75" y="654.5" font-size="8.6" text-anchor="middle" stroke="#141414" stroke-width="0.05" >30</text>
<line x1="189.60000000000002" y1="641.2" x2="189.60000000000002" y2="644.0" stroke="#2e2e2e" stroke-width="1.0" />
<text x="189.60000000000002" y="654.5" font-size="8.6" text-anchor="middle" stroke="#141414" stroke-width="0.05" >40</text>
<line x1="224.45" y1="641.2" x2="224.45" y2="644.0" stroke="#2e2e2e" stroke-width="1.0" />
<text x="224.45" y="654.5" font-size="8.6" text-anchor="middle" stroke="#141414" stroke-width="0.05" >50</text>
<path d="M274.00,524.60 H336.69 V563.46 H350.62 V602.34 H357.58 V641.20" fill="none" stroke="#22428a" stroke-width="1.65" />
<path d="M274.00,524.60 H406.34 V563.46 H434.19 V602.34 H441.16 V641.20" fill="none" stroke="#22428a" stroke-width="1.65" stroke-dasharray="3.4 2.2"/>
<path d="M274.00,524.60 H350.62 V553.75 H413.30 V582.90 H420.26 V597.48 H427.23 V612.05 H441.16 V641.20" fill="none" stroke="#ae0a3a" stroke-width="1.65" stroke-dasharray="3.4 2.2"/>
<path d="M274.00,524.60 H315.79 V553.75 H329.72 V582.90 H343.65 V612.05 H357.58 V641.20" fill="none" stroke="#ae0a3a" stroke-width="1.65" />
<rect x="274.0" y="467.3" width="174.20" height="173.90" fill="none" stroke="#2e2e2e" stroke-width="1.4"/>
<line x1="270.8" y1="641.2" x2="274.0" y2="641.2" stroke="#2e2e2e" stroke-width="1.0" />
<line x1="270.8" y1="582.9000000000001" x2="274.0" y2="582.9000000000001" stroke="#2e2e2e" stroke-width="1.0" />
<line x1="270.8" y1="524.6" x2="274.0" y2="524.6" stroke="#2e2e2e" stroke-width="1.0" />
<line x1="274.0" y1="641.2" x2="274.0" y2="644.0" stroke="#2e2e2e" stroke-width="1.0" />
<text x="274.0" y="654.5" font-size="8.6" text-anchor="middle" stroke="#141414" stroke-width="0.05" >0</text>
<line x1="308.825" y1="641.2" x2="308.825" y2="644.0" stroke="#2e2e2e" stroke-width="1.0" />
<text x="308.825" y="654.5" font-size="8.6" text-anchor="middle" stroke="#141414" stroke-width="0.05" >5</text>
<line x1="343.65" y1="641.2" x2="343.65" y2="644.0" stroke="#2e2e2e" stroke-width="1.0" />
<text x="343.65" y="654.5" font-size="8.6" text-anchor="middle" stroke="#141414" stroke-width="0.05" >10</text>
<line x1="378.475" y1="641.2" x2="378.475" y2="644.0" stroke="#2e2e2e" stroke-width="1.0" />
<text x="378.475" y="654.5" font-size="8.6" text-anchor="middle" stroke="#141414" stroke-width="0.05" >15</text>
<line x1="413.3" y1="641.2" x2="413.3" y2="644.0" stroke="#2e2e2e" stroke-width="1.0" />
<text x="413.3" y="654.5" font-size="8.6" text-anchor="middle" stroke="#141414" stroke-width="0.05" >20</text>
<line x1="448.125" y1="641.2" x2="448.125" y2="644.0" stroke="#2e2e2e" stroke-width="1.0" />
<text x="448.125" y="654.5" font-size="8.6" text-anchor="middle" stroke="#141414" stroke-width="0.05" >25</text>
<text x="43.9" y="643.8000000000001" font-size="8.6" text-anchor="end" stroke="#141414" stroke-width="0.05" >0</text>
<text x="267.6" y="643.8000000000001" font-size="8.6" text-anchor="end" stroke="#141414" stroke-width="0.05" >0</text>
<text x="43.9" y="585.5000000000001" font-size="8.6" text-anchor="end" stroke="#141414" stroke-width="0.05" >50</text>
<text x="267.6" y="585.5000000000001" font-size="8.6" text-anchor="end" stroke="#141414" stroke-width="0.05" >50</text>
<text x="43.9" y="527.2" font-size="8.6" text-anchor="end" stroke="#141414" stroke-width="0.05" >100</text>
<text x="267.6" y="527.2" font-size="8.6" text-anchor="end" stroke="#141414" stroke-width="0.05" >100</text>
<text x="136.9" y="668.6" font-size="10.2" text-anchor="middle" textLength="16.4" lengthAdjust="spacingAndGlyphs" stroke="#141414" stroke-width="0.05" >Days</text>
<text x="361.3" y="669.0" font-size="10.2" text-anchor="middle" textLength="96" lengthAdjust="spacingAndGlyphs" stroke="#141414" stroke-width="0.05" >Days (time after treatment)</text>
<text transform="translate(24.4,554.8) rotate(-90)" font-size="10.0" text-anchor="middle" textLength="67.2" lengthAdjust="spacingAndGlyphs" stroke="#141414" stroke-width="0.05" >Tumor free survival</text>
<text transform="translate(248.4,554.0) rotate(-90)" font-size="10.0" text-anchor="middle" textLength="36" lengthAdjust="spacingAndGlyphs" stroke="#141414" stroke-width="0.05" >% survival</text>
<text x="60.0" y="479.8" font-size="8.4" textLength="50.8" lengthAdjust="spacingAndGlyphs" stroke="#141414" stroke-width="0.15" >MyD88-L265P</text>
<text x="57.0" y="497.8" font-size="7.0" text-anchor="middle" fill="#222" stroke="#222" stroke-width="0.15" >*</text>
<path d="M66.0,487.4 H61.6 V500.6 H66.0" fill="none" stroke="#222" stroke-width="1.1" />
<line x1="76.2" y1="489.0" x2="91.2" y2="489.0" stroke="#ae0a3a" stroke-width="1.5" />
<line x1="76.2" y1="499.4" x2="91.2" y2="499.4" stroke="#ae0a3a" stroke-width="1.5" stroke-dasharray="3.4 2.2"/>
<text x="94.6" y="491.6" font-size="8.4" textLength="22" lengthAdjust="spacingAndGlyphs" stroke="#141414" stroke-width="0.15" >vector</text>
<text x="94.6" y="501.9" font-size="8.4" textLength="24" lengthAdjust="spacingAndGlyphs" stroke="#141414" stroke-width="0.15" >sh-PDL</text>
<text x="137.0" y="479.8" font-size="8.4" textLength="78.5" lengthAdjust="spacingAndGlyphs" stroke="#141414" stroke-width="0.15" >CARD11-L244P;<tspan font-style="italic">suv-/-</tspan></text>
<text x="138.8" y="497.8" font-size="7.0" text-anchor="middle" fill="#222" stroke="#222" stroke-width="0.15" >*</text>
<path d="M147.8,487.4 H143.4 V500.6 H147.8" fill="none" stroke="#222" stroke-width="1.1" />
<line x1="158.8" y1="489.0" x2="174.2" y2="489.0" stroke="#22428a" stroke-width="1.5" />
<line x1="158.8" y1="499.4" x2="174.2" y2="499.4" stroke="#22428a" stroke-width="1.5" stroke-dasharray="3.4 2.2"/>
<text x="178.0" y="491.6" font-size="8.4" textLength="22" lengthAdjust="spacingAndGlyphs" stroke="#141414" stroke-width="0.15" >vector</text>
<text x="178.0" y="501.9" font-size="8.4" textLength="24" lengthAdjust="spacingAndGlyphs" stroke="#141414" stroke-width="0.15" >sh-PDL</text>
<text x="284.3" y="479.8" font-size="8.4" textLength="49.5" lengthAdjust="spacingAndGlyphs" stroke="#141414" stroke-width="0.15" >MyD88-L265P</text>
<text x="280.6" y="497.8" font-size="7.0" text-anchor="middle" fill="#222" stroke="#222" stroke-width="0.15" >*</text>
<path d="M289.79999999999995,487.4 H285.4 V500.6 H289.79999999999995" fill="none" stroke="#222" stroke-width="1.1" />
<line x1="300.0" y1="489.0" x2="314.5" y2="489.0" stroke="#ae0a3a" stroke-width="1.5" />
<line x1="300.0" y1="499.4" x2="314.5" y2="499.4" stroke="#ae0a3a" stroke-width="1.5" stroke-dasharray="3.4 2.2"/>
<text x="318.8" y="491.6" font-size="8.4" textLength="19.3" lengthAdjust="spacingAndGlyphs" stroke="#141414" stroke-width="0.15" >Mock</text>
<text x="318.8" y="501.9" font-size="8.4" textLength="30.5" lengthAdjust="spacingAndGlyphs" stroke="#141414" stroke-width="0.15" >anti-PD1</text>
<text x="360.8" y="479.8" font-size="8.4" textLength="78.5" lengthAdjust="spacingAndGlyphs" stroke="#141414" stroke-width="0.15" >CARD11-L244P;<tspan font-style="italic">suv-/-</tspan></text>
<text x="361.8" y="497.8" font-size="7.0" text-anchor="middle" fill="#222" stroke="#222" stroke-width="0.15" >*</text>
<path d="M371.0,487.4 H366.6 V500.6 H371.0" fill="none" stroke="#222" stroke-width="1.1" />
<line x1="382.0" y1="489.0" x2="398.0" y2="489.0" stroke="#22428a" stroke-width="1.5" />
<line x1="382.0" y1="499.4" x2="398.0" y2="499.4" stroke="#22428a" stroke-width="1.5" stroke-dasharray="3.4 2.2"/>
<text x="401.3" y="491.6" font-size="8.4" textLength="20" lengthAdjust="spacingAndGlyphs" stroke="#141414" stroke-width="0.15" >Mock</text>
<text x="401.3" y="501.9" font-size="8.4" textLength="30.5" lengthAdjust="spacingAndGlyphs" stroke="#141414" stroke-width="0.15" >anti-PD1</text>
</svg></body></html>
